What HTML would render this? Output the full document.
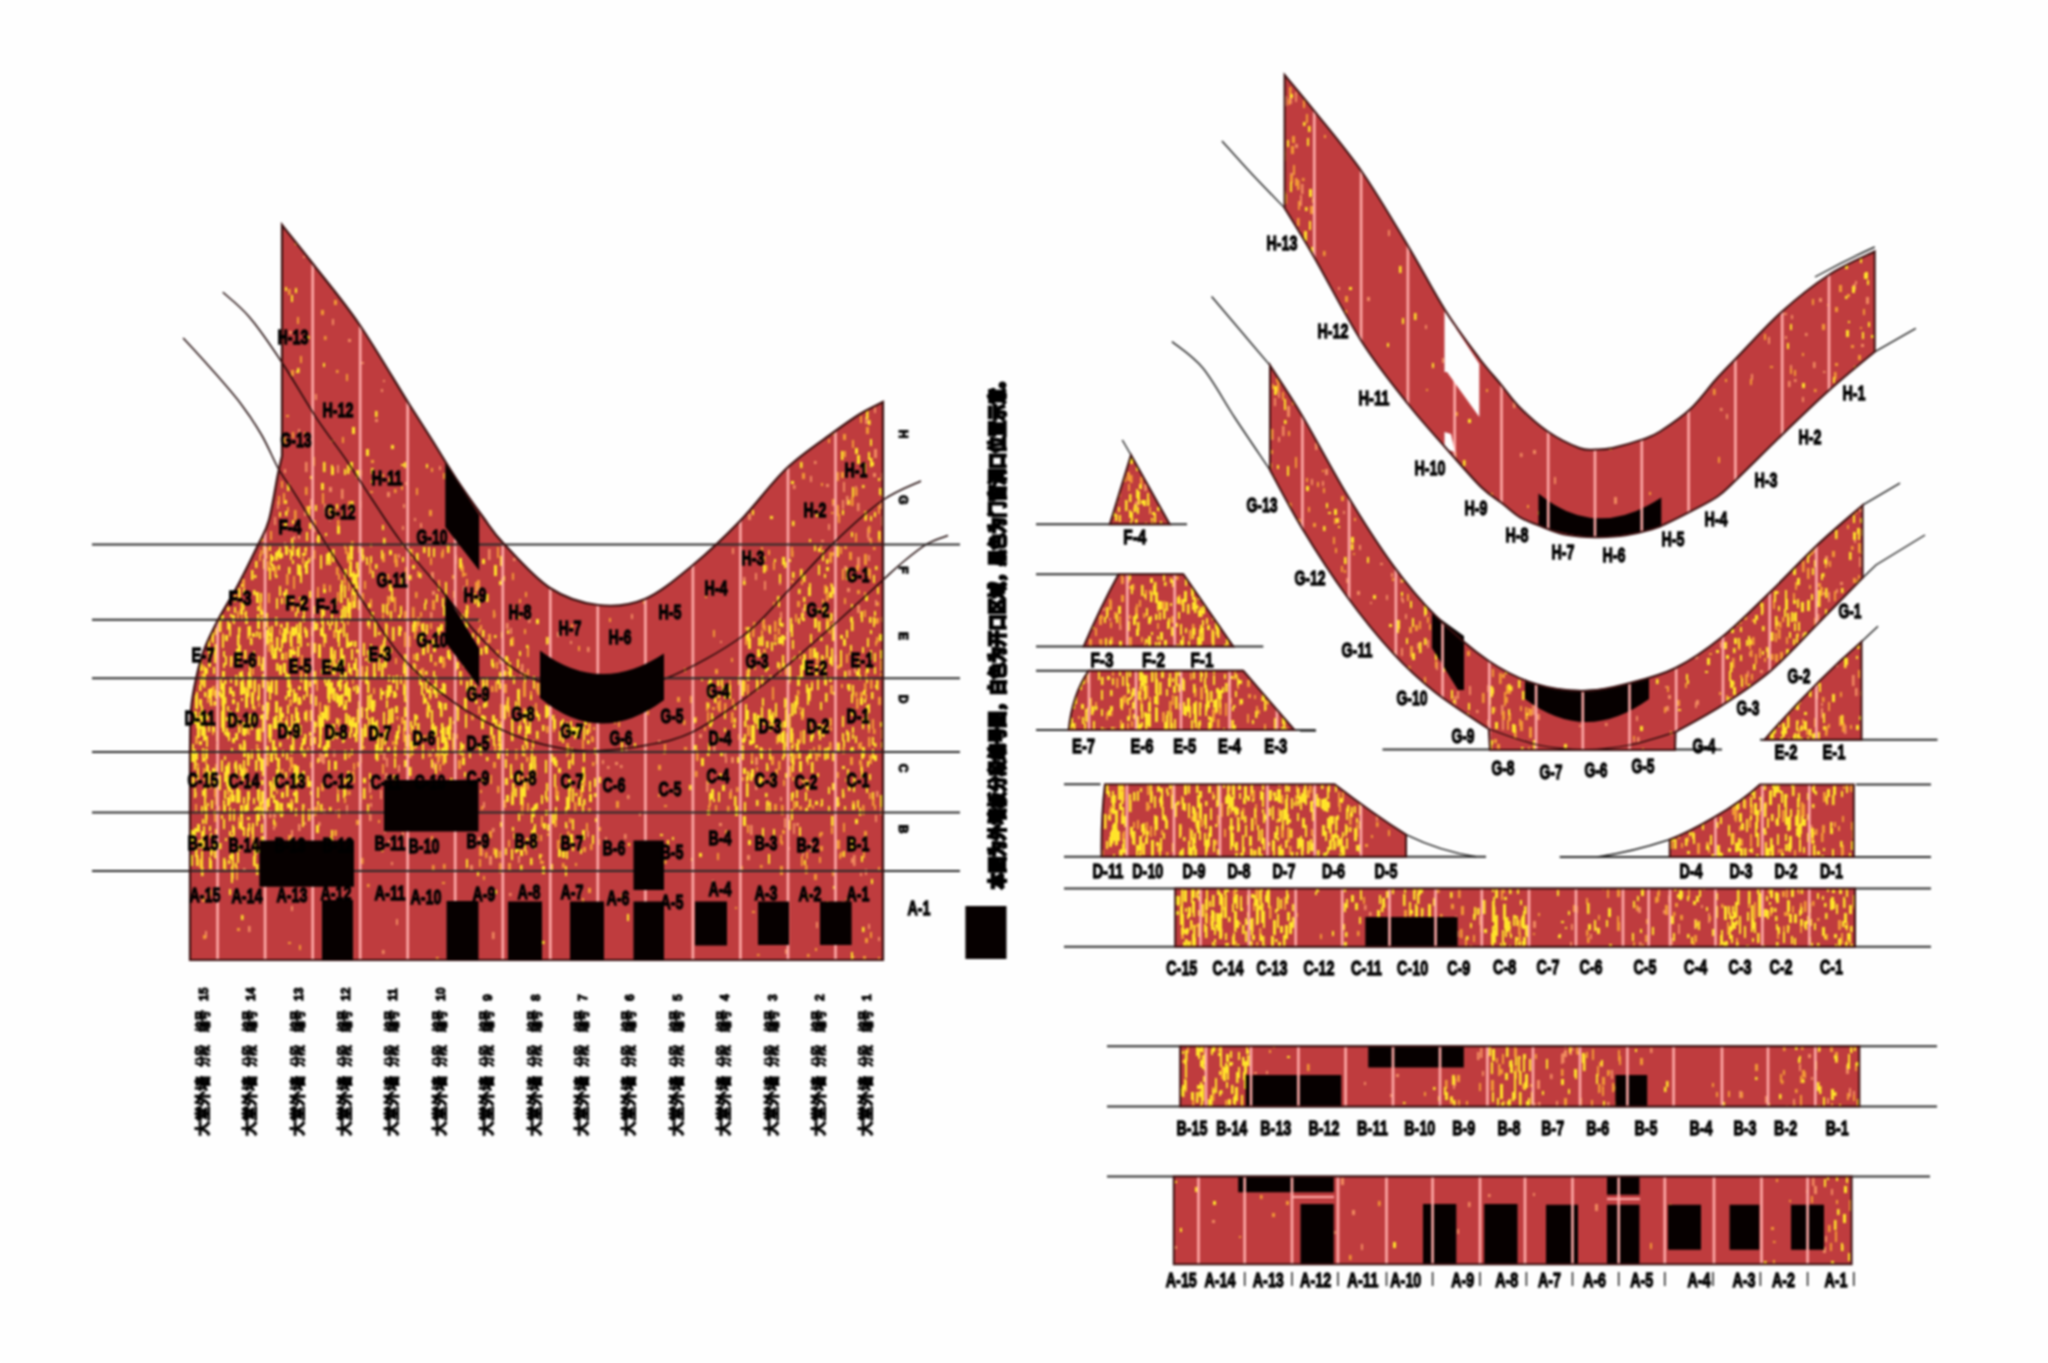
<!DOCTYPE html><html><head><meta charset="utf-8"><title>facade</title><style>html,body{margin:0;padding:0;background:#fff;overflow:hidden}svg{display:block;filter:blur(0.9px)}</style></head><body><svg width="2048" height="1363" viewBox="0 0 2048 1363"><defs><clipPath id="cL"><path d="M282,225 C287.2,231.5 300.2,247.5 313,264 C325.8,280.5 343,300.7 359,324 C375,347.3 396.8,384.7 409,404 C421.2,423.3 424,427.3 432,440 C440,452.7 448.5,467.2 457,480 C465.5,492.8 475.2,506.3 483,517 C490.8,527.7 492.8,532.2 504,544 C515.2,555.8 534.3,577.8 550,588 C565.7,598.2 582.2,603.2 598,605 C613.8,606.8 629.2,605.7 645,599 C660.8,592.3 677.2,578 693,565 C708.8,552 724.3,537.2 740,521 C755.7,504.8 771.3,482.8 787,468 C802.7,453.2 821.8,441 834,432 C846.2,423 851.8,419 860,414 C868.2,409 879.2,404 883,402 L883,960 L190,960 L190,750 C190.2,743.3 190,721.8 191,710 C192,698.2 193.8,689 196,679 C198.2,669 200.3,659.8 204,650 C207.7,640.2 212.3,630.8 218,620 C223.7,609.2 231.3,597.5 238,585 C244.7,572.5 252.8,555.8 258,545 C263.2,534.2 265.7,531.8 269,520 C272.3,508.2 275.8,484.7 278,474 C280.2,463.3 281.3,459 282,456 Z"/></clipPath><clipPath id="cH"><path d="M1284.6,75 C1289.5,80.9 1301.1,94.4 1314,110.6 C1326.9,126.8 1346.3,149.4 1362,172 C1377.7,194.6 1394.2,223 1408,246 C1421.8,269 1433.2,291.3 1445,310 C1456.8,328.7 1469.7,345.6 1479,358 C1488.3,370.4 1494.2,376.3 1501,384.6 C1507.8,392.9 1512.2,399.9 1520,407.7 C1527.8,415.5 1537.8,424.8 1547.7,431.5 C1557.6,438.2 1571.4,445 1579.4,448 C1587.5,451 1590.5,449.5 1596,449.5 C1601.5,449.5 1604.7,449.7 1612.5,448 C1620.3,446.3 1634.9,442.1 1642.8,439.4 C1650.7,436.6 1652.1,436.6 1660,431.5 C1667.9,426.4 1681.2,417.6 1690.4,409 C1699.7,400.4 1707.9,388.4 1715.5,380 C1723.1,371.6 1725,369.8 1736,358.5 C1747,347.2 1765.9,326 1781.5,312 C1797.1,298 1814,284.6 1829.5,274.5 C1845,264.4 1867.2,255.3 1874.7,251.5 L1874.7,351.8 C1867.2,358.1 1844.8,376.3 1830,389.5 C1815.2,402.7 1801.5,416.1 1786,431 C1770.5,445.9 1748.3,468.1 1737,479 C1725.7,489.9 1725.5,490.9 1718,496.2 C1710.5,501.5 1700.5,506.2 1691.7,510.8 C1682.9,515.4 1671.9,520.9 1665.3,524 C1658.7,527.1 1658.6,527.4 1652,529.3 C1645.4,531.2 1634.5,533.9 1625.7,535.2 C1616.9,536.5 1606.9,537 1599.2,537.2 C1591.5,537.4 1586,537.2 1579.4,536.5 C1572.8,535.8 1566.4,535.1 1559.6,533.2 C1552.8,531.3 1545.1,527.9 1538.5,525.3 C1531.9,522.7 1525.9,520.9 1520,517.4 C1514.1,513.9 1509.5,509.1 1503,504 C1496.5,498.9 1490.7,496.5 1481,487 C1471.3,477.5 1457.2,460.8 1445,447 C1432.8,433.2 1421.8,421.5 1408,404 C1394.2,386.5 1377.8,366.7 1362,342 C1346.2,317.3 1326.4,278.3 1313.5,256 C1300.6,233.7 1289.4,216 1284.6,208 Z"/></clipPath><clipPath id="cG"><path d="M1270,365.4 C1275.4,373.9 1289.6,394.6 1302.4,416.2 C1315.2,437.8 1331.9,469.9 1347,494.8 C1362.1,519.7 1378.6,545.6 1393.2,565.6 C1407.8,585.6 1418.9,599.1 1434.8,615 C1450.7,630.9 1471.8,649.5 1488.8,661 C1505.8,672.5 1520.4,679.3 1536.5,684.3 C1552.6,689.3 1570,691.2 1585.6,691 C1601.2,690.8 1615,686.8 1630,683 C1645,679.2 1660.2,675.6 1675.5,668 C1690.8,660.4 1706,649.9 1721.7,637.3 C1737.5,624.7 1754,607.6 1770,592.2 C1786,576.8 1802.1,559.3 1817.5,544.8 C1832.9,530.3 1855.1,511.8 1862.6,505.2 L1862.6,577.9 C1855.1,585.6 1832.9,608.4 1817.5,624 C1802.1,639.6 1786,657.8 1770,671.4 C1754,685 1737.5,695.5 1721.7,705.6 C1706,715.7 1683.2,727.6 1675.5,732 L1675,750 L1490,750 L1488.8,729 C1479.8,722.8 1450.7,704.6 1434.8,692 C1418.9,679.4 1407.8,669.3 1393.2,653.4 C1378.6,637.5 1362.1,617.3 1347,596.5 C1331.9,575.7 1315.2,549.8 1302.4,528.7 C1289.6,507.6 1275.4,479.8 1270,470 Z"/></clipPath><clipPath id="cF4"><path d="M1131,455 Q1121,488 1109.8,524.3 L1169.7,524.3 Z"/></clipPath><clipPath id="cF3"><path d="M1118.6,574.2 L1183.4,574.2 L1233.3,646.6 L1083.6,646.6 Q1100,608 1118.6,574.2 Z"/></clipPath><clipPath id="cE"><path d="M1088.6,670.8 L1243.3,670.8 L1294.5,730.1 L1068.7,730.1 Q1072,695 1088.6,670.8 Z"/></clipPath><clipPath id="cE12"><path d="M1764.6,739.7 L1861.5,739.7 L1861.5,641.7 Q1815,682 1764.6,739.7 Z"/></clipPath><clipPath id="cDL"><path d="M1105,784.2 L1334.6,784.2 C1350,796 1375,815 1406,834.7 L1406,856.7 L1101.6,856.7 Q1101,818 1105,784.2 Z"/></clipPath><clipPath id="cDR"><path d="M1669.8,839.5 C1690,832 1735,808 1760,784.4 L1853.8,784.4 L1853.8,857.1 L1669.8,857.1 Z"/></clipPath><clipPath id="cC"><path d="M1175.2,888.4 L1855,888.4 L1855,946.8 L1175.2,946.8 Z"/></clipPath><clipPath id="cB"><path d="M1180.2,1046.3 L1859.3,1046.3 L1859.3,1106.4 L1180.2,1106.4 Z"/></clipPath><clipPath id="cA"><path d="M1173.8,1176.5 L1851.6,1176.5 L1851.6,1264.2 L1173.8,1264.2 Z"/></clipPath></defs><rect width="2048" height="1363" fill="#fefefe"/>
<path d="M282,225 C287.2,231.5 300.2,247.5 313,264 C325.8,280.5 343,300.7 359,324 C375,347.3 396.8,384.7 409,404 C421.2,423.3 424,427.3 432,440 C440,452.7 448.5,467.2 457,480 C465.5,492.8 475.2,506.3 483,517 C490.8,527.7 492.8,532.2 504,544 C515.2,555.8 534.3,577.8 550,588 C565.7,598.2 582.2,603.2 598,605 C613.8,606.8 629.2,605.7 645,599 C660.8,592.3 677.2,578 693,565 C708.8,552 724.3,537.2 740,521 C755.7,504.8 771.3,482.8 787,468 C802.7,453.2 821.8,441 834,432 C846.2,423 851.8,419 860,414 C868.2,409 879.2,404 883,402 L883,960 L190,960 L190,750 C190.2,743.3 190,721.8 191,710 C192,698.2 193.8,689 196,679 C198.2,669 200.3,659.8 204,650 C207.7,640.2 212.3,630.8 218,620 C223.7,609.2 231.3,597.5 238,585 C244.7,572.5 252.8,555.8 258,545 C263.2,534.2 265.7,531.8 269,520 C272.3,508.2 275.8,484.7 278,474 C280.2,463.3 281.3,459 282,456 Z" fill="#BF3C3E"/>
<g clip-path="url(#cL)"><path fill="#F08A5E" d="M228,242h2v10h-2zM245,237h2v8h-2zM247,310h2v8h-2zM246,339h2v8h-2zM229,357h2v9h-2zM234,441h3v4h-3zM236,335h3v6h-3zM240,249h2.5v8h-2.5zM243,228h2.5v4h-2.5zM254,398h2v10h-2zM240,392h2v4h-2zM230,403h2v5h-2zM239,347h2v9h-2zM224,251h2v10h-2zM264,317h2v9h-2zM251,227h2.5v6h-2.5zM230,252h3v10h-3zM242,270h2.5v8h-2.5zM243,267h2v9h-2zM256,324h3v4h-3zM250,371h2v10h-2zM220,378h2.5v6h-2.5zM303,256h2v2h-2zM279,277h3v2h-3zM298,429h2v5h-2zM289,331h3v3h-3zM315,394h2v6h-2zM332,288h2v3h-2zM322,243h3v3h-3zM332,319h2v6h-2zM348,339h3v3h-3zM327,252h2v5h-2zM318,239h3v5h-3zM375,419h3v3h-3zM383,380h2v2h-2zM380,309h2.5v3h-2.5zM369,331h2.5v6h-2.5zM361,362h3v2h-3zM381,389h2v3h-2zM391,311h3v2h-3zM451,267h2v4h-2zM450,302h2v6h-2zM441,296h2v3h-2zM423,297h2v5h-2zM426,260h2v5h-2zM459,245h2v3h-2zM464,277h2v4h-2zM521,455h2v4h-2zM520,426h2v7h-2zM520,255h2.5v3h-2.5zM588,318h2v6h-2zM552,338h2.5v2h-2.5zM591,456h3v4h-3zM598,434h3v3h-3zM604,412h2v2h-2zM674,268h2v5h-2zM689,259h2v2h-2zM660,314h2v5h-2zM660,281h2.5v5h-2.5zM693,454h3v3h-3zM696,306h3v4h-3zM717,235h2.5v6h-2.5zM785,335h2v3h-2zM758,310h3v6h-3zM823,274h2.5v6h-2.5zM805,233h3v4h-3zM815,363h2.5v5h-2.5zM830,232h3v3h-3zM797,365h2v3h-2zM796,295h3v6h-3zM822,334h2v7h-2zM803,429h2v6h-2zM870,237h2v9h-2zM871,363h2.5v10h-2.5zM837,319h2.5v8h-2.5zM849,324h2v8h-2zM881,223h2.5v9h-2.5zM874,449h3v9h-3zM852,316h2v8h-2zM856,404h2.5v4h-2.5zM865,386h2v6h-2zM859,371h3v9h-3zM840,357h2v7h-2zM865,417h3v7h-3zM836,320h3v6h-3zM841,293h2.5v8h-2.5zM865,332h2v9h-2zM875,285h3v6h-3zM866,297h2.5v6h-2.5zM841,250h3v8h-3zM861,317h2v6h-2zM874,407h2v6h-2zM194,525h3v8h-3zM216,478h2.5v8h-2.5zM254,470h2.5v8h-2.5zM244,531h2v3h-2zM238,512h2.5v8h-2.5zM260,533h2v9h-2zM239,533h2v4h-2zM247,495h2.5v4h-2.5zM260,476h2.5v6h-2.5zM310,499h2.5v10h-2.5zM304,511h2v5h-2zM284,469h2v4h-2zM298,529h2v10h-2zM305,462h2.5v10h-2.5zM284,542h2v6h-2zM277,501h2v8h-2zM293,536h2.5v4h-2.5zM274,517h2v8h-2zM291,539h2v5h-2zM324,504h2v10h-2zM329,513h2v8h-2zM313,522h3v10h-3zM341,489h2.5v10h-2.5zM329,487h3v5h-3zM359,501h2.5v7h-2.5zM337,465h2v8h-2zM316,538h2v3h-2zM402,526h2v4h-2zM387,492h3v5h-3zM405,482h3v3h-3zM403,504h2v4h-2zM407,508h2v7h-2zM420,523h2v5h-2zM439,466h2v4h-2zM414,518h2v3h-2zM463,520h2v6h-2zM513,499h2v5h-2zM602,537h2v3h-2zM653,523h2.5v3h-2.5zM726,514h2v3h-2zM748,514h3v6h-3zM793,485h2.5v4h-2.5zM814,461h2.5v3h-2.5zM821,540h3v2h-3zM826,484h3v3h-3zM832,499h3v7h-3zM810,476h2v6h-2zM828,524h2v6h-2zM855,486h2v7h-2zM843,482h2v10h-2zM857,503h2.5v8h-2.5zM846,496h2.5v9h-2.5zM842,500h2v9h-2zM880,501h2v8h-2zM881,473h3v7h-3zM868,538h2.5v3h-2.5zM873,473h3v4h-3zM867,528h2.5v10h-2.5zM882,498h2v3h-2zM881,516h3v10h-3zM211,612h3v6h-3zM198,596h2v5h-2zM195,611h2.5v4h-2.5zM190,558h2.5v4h-2.5zM390,596h2.5v4h-2.5zM361,558h3v4h-3zM398,554h2v4h-2zM432,591h3v4h-3zM454,555h3v9h-3zM431,572h3v7h-3zM430,612h2.5v6h-2.5zM470,550h2v7h-2zM477,583h2.5v8h-2.5zM463,586h2v5h-2zM488,549h2.5v11h-2.5zM536,571h2v4h-2zM513,558h2.5v3h-2.5zM579,590h2v6h-2zM631,614h2v5h-2zM653,547h2.5v5h-2.5zM732,548h2v6h-2zM745,557h2v4h-2zM755,573h2v7h-2zM779,577h2v8h-2zM764,581h2v9h-2zM743,577h2.5v4h-2.5zM750,551h2v7h-2zM780,612h2v7h-2zM830,592h2v3h-2zM802,608h2.5v9h-2.5zM844,566h3v4h-3zM875,600h2v6h-2zM857,557h3v11h-3zM857,605h3v8h-3zM847,588h3v4h-3zM868,555h2v6h-2zM499,655h3v9h-3zM486,640h2v8h-2zM510,628h2v6h-2zM506,623h2.5v6h-2.5zM521,664h2.5v10h-2.5zM528,618h2.5v5h-2.5zM546,642h2v3h-2zM545,656h2v4h-2zM520,669h2v7h-2zM549,646h2v7h-2zM504,670h2v6h-2zM587,647h2.5v5h-2.5zM570,641h2v3h-2zM557,632h2.5v5h-2.5zM565,624h2v4h-2zM720,641h2v2h-2zM848,670h3v6h-3zM854,668h2v5h-2zM600,684h2v7h-2zM641,706h3v4h-3zM599,707h2.5v6h-2.5zM625,745h2.5v8h-2.5zM613,695h2v4h-2zM658,740h2.5v3h-2.5zM650,689h2.5v3h-2.5zM718,705h3v7h-3zM727,735h2v4h-2zM699,734h3v4h-3zM713,741h2.5v11h-2.5zM319,752h3v10h-3zM323,809h2.5v5h-2.5zM317,801h2v10h-2zM333,750h2.5v7h-2.5zM346,805h2v9h-2zM322,754h3v10h-3zM405,797h2.5v7h-2.5zM369,782h2v11h-2zM383,753h2.5v7h-2.5zM385,773h2.5v11h-2.5zM380,790h2v9h-2zM386,758h2v9h-2zM391,781h3v3h-3zM398,765h2v7h-2zM370,803h2v4h-2zM415,780h2.5v8h-2.5zM436,805h3v9h-3zM437,754h2v10h-2zM451,801h2v4h-2zM430,751h2v6h-2zM424,795h3v9h-3zM433,762h2.5v8h-2.5zM458,800h2.5v8h-2.5zM458,782h3v10h-3zM458,795h2.5v4h-2.5zM483,802h2v6h-2zM466,784h2.5v10h-2.5zM482,777h2v8h-2zM457,789h3v9h-3zM607,766h2.5v3h-2.5zM602,760h2v4h-2zM615,762h3v3h-3zM620,765h2.5v3h-2.5zM627,795h2.5v4h-2.5zM674,789h2.5v7h-2.5zM724,753h2.5v4h-2.5zM731,757h3v6h-3zM725,757h2v6h-2zM730,789h2v4h-2zM706,781h2.5v11h-2.5zM755,757h3v8h-3zM780,797h2v4h-2zM755,781h2.5v9h-2.5zM764,750h2v3h-2zM882,756h3v10h-3zM880,806h3v9h-3zM876,791h2.5v6h-2.5zM310,853h3v6h-3zM273,811h3v7h-3zM298,824h2.5v7h-2.5zM269,810h2.5v8h-2.5zM296,856h2v7h-2zM304,822h2v3h-2zM291,830h2v9h-2zM273,826h2v4h-2zM295,844h3v6h-3zM324,851h2v3h-2zM318,822h2.5v4h-2.5zM345,847h2v4h-2zM335,810h2v4h-2zM384,831h2v2h-2zM388,840h2v6h-2zM369,814h2.5v7h-2.5zM391,862h2v3h-2zM402,832h2v6h-2zM428,820h2v4h-2zM478,837h2.5v5h-2.5zM492,828h2.5v4h-2.5zM489,856h3v9h-3zM480,845h3v11h-3zM470,865h3v6h-3zM518,856h2v7h-2zM566,825h2v4h-2zM587,831h2v6h-2zM605,837h2v5h-2zM639,812h2v4h-2zM624,834h2.5v5h-2.5zM719,823h3v3h-3zM750,825h2.5v10h-2.5zM787,847h3v3h-3zM760,838h2.5v8h-2.5zM747,855h3v5h-3zM784,818h2v10h-2zM796,823h3v3h-3zM806,854h2v5h-2zM802,850h2v6h-2zM810,842h2v10h-2zM793,823h2v11h-2zM852,838h3v7h-3zM875,815h2v7h-2zM851,858h2v5h-2zM853,855h2.5v11h-2.5zM864,836h3v8h-3zM205,931h2v7h-2zM248,926h2.5v6h-2.5zM243,868h2.5v4h-2.5zM291,906h2v5h-2zM396,919h2v6h-2zM382,950h2.5v4h-2.5zM492,932h2.5v7h-2.5zM526,947h2v3h-2zM509,893h2.5v3h-2.5zM712,880h2v7h-2zM785,949h3v5h-3zM816,922h2v6h-2zM860,873h2v3h-2zM839,925h3v4h-3zM878,937h2v4h-2zM868,924h2v5h-2zM865,869h2v6h-2zM842,901h2v3h-2z"/><path fill="#F29A35" d="M244,354h2v7h-2zM245,329h2.5v8h-2.5zM249,236h2.5v7h-2.5zM229,314h2.5v4h-2.5zM235,355h2v6h-2zM258,446h2v7h-2zM244,348h2v4h-2zM227,310h2v4h-2zM232,256h3v7h-3zM246,303h2.5v5h-2.5zM240,454h2v6h-2zM247,242h2v6h-2zM245,331h2v3h-2zM251,246h2v9h-2zM220,396h3v10h-3zM254,365h2v10h-2zM242,335h2.5v8h-2.5zM260,326h2v9h-2zM225,390h2v10h-2zM224,332h2v5h-2zM240,455h2v6h-2zM260,276h2v4h-2zM257,381h2v10h-2zM260,356h3v4h-3zM255,265h2v5h-2zM257,225h2.5v11h-2.5zM230,448h2.5v7h-2.5zM222,288h2v6h-2zM288,289h2.5v6h-2.5zM304,432h2v2h-2zM300,356h2v7h-2zM292,432h2v6h-2zM267,372h2v2h-2zM291,370h3v6h-3zM265,409h2v4h-2zM283,335h3v4h-3zM278,380h3v2h-3zM286,415h3v2h-3zM283,437h3v7h-3zM272,345h2v5h-2zM297,317h2v7h-2zM271,440h2.5v6h-2.5zM268,314h2.5v3h-2.5zM321,310h3v5h-3zM342,437h2v6h-2zM326,234h2v5h-2zM324,336h2.5v4h-2.5zM320,271h2v3h-2zM334,300h3v5h-3zM336,370h2.5v3h-2.5zM354,312h2v2h-2zM348,411h2v4h-2zM331,440h3v2h-3zM346,374h2v7h-2zM362,319h2v5h-2zM384,270h2.5v6h-2.5zM389,365h2.5v3h-2.5zM427,413h3v2h-3zM435,411h2v6h-2zM419,334h2v2h-2zM445,396h3v3h-3zM470,452h3v5h-3zM461,330h3v3h-3zM482,310h2.5v3h-2.5zM541,420h2v4h-2zM514,234h2v6h-2zM534,223h2.5v6h-2.5zM569,351h3v3h-3zM569,286h2v5h-2zM553,397h2.5v4h-2.5zM603,337h2v7h-2zM637,232h2v4h-2zM679,384h3v2h-3zM786,338h2v3h-2zM774,274h2v5h-2zM782,287h2.5v3h-2.5zM782,262h2.5v5h-2.5zM743,424h2v6h-2zM764,295h2v3h-2zM810,254h2.5v5h-2.5zM800,225h2.5v4h-2.5zM823,331h3v6h-3zM834,283h3v3h-3zM823,385h2v4h-2zM814,324h2v3h-2zM828,439h2v4h-2zM850,272h2v8h-2zM880,347h2.5v5h-2.5zM847,288h2.5v3h-2.5zM843,414h2.5v8h-2.5zM859,311h3v10h-3zM841,362h2v11h-2zM851,259h2v6h-2zM844,451h2v6h-2zM863,374h3v9h-3zM847,316h2v10h-2zM855,329h2v5h-2zM866,427h3v7h-3zM854,337h2.5v9h-2.5zM846,390h2v5h-2zM842,379h2v10h-2zM867,335h2.5v11h-2.5zM852,440h2v8h-2zM862,298h2v4h-2zM836,225h2.5v8h-2.5zM843,434h3v6h-3zM868,347h2.5v5h-2.5zM861,336h2v7h-2zM843,363h3v5h-3zM857,354h2v10h-2zM837,365h2.5v8h-2.5zM840,336h2.5v9h-2.5zM872,352h2.5v6h-2.5zM855,352h2.5v6h-2.5zM858,300h2.5v6h-2.5zM836,267h3v5h-3zM878,366h2v9h-2zM867,330h2v5h-2zM860,416h2v7h-2zM839,333h3v7h-3zM836,379h2v6h-2zM839,370h2v9h-2zM198,508h2v6h-2zM198,538h3v8h-3zM201,490h2v8h-2zM197,470h2v6h-2zM194,533h2v5h-2zM213,526h2v5h-2zM192,504h3v6h-3zM227,479h3v7h-3zM222,526h3v7h-3zM242,479h2v6h-2zM261,499h2v5h-2zM253,527h2v11h-2zM247,535h2v10h-2zM244,511h2v5h-2zM220,524h2v10h-2zM224,521h3v3h-3zM263,462h3v4h-3zM256,467h2v7h-2zM259,462h3v5h-3zM259,519h2v10h-2zM246,517h2v5h-2zM281,481h2v7h-2zM305,487h2.5v8h-2.5zM298,526h2v4h-2zM306,506h2.5v9h-2.5zM270,531h2v9h-2zM287,507h2v5h-2zM283,493h2v11h-2zM294,510h2.5v10h-2.5zM278,496h2v9h-2zM348,501h3v6h-3zM337,520h2.5v10h-2.5zM342,511h3v5h-3zM359,470h3v6h-3zM313,520h3v8h-3zM322,493h2v11h-2zM333,510h3v7h-3zM351,541h2.5v9h-2.5zM313,457h2v9h-2zM370,491h3v2h-3zM401,486h2v4h-2zM371,460h3v3h-3zM394,489h2.5v4h-2.5zM382,474h2v3h-2zM431,468h2v4h-2zM443,473h2.5v6h-2.5zM429,510h3v6h-3zM416,488h2v7h-2zM488,496h3v2h-3zM591,507h2.5v7h-2.5zM552,484h2v5h-2zM632,542h2v4h-2zM677,475h3v5h-3zM654,538h2v4h-2zM709,465h2v3h-2zM759,475h3v6h-3zM832,499h2v5h-2zM831,512h2.5v2h-2.5zM802,473h3v6h-3zM821,483h2v3h-2zM878,531h3v11h-3zM838,514h2v9h-2zM855,488h2.5v8h-2.5zM841,472h3v6h-3zM878,505h2v9h-2zM855,533h2v9h-2zM870,538h2v6h-2zM881,494h3v3h-3zM868,526h2.5v7h-2.5zM837,472h2v9h-2zM851,497h2.5v9h-2.5zM864,511h3v10h-3zM837,505h2v11h-2zM209,592h3v6h-3zM214,603h3v7h-3zM216,569h2.5v8h-2.5zM207,557h2.5v10h-2.5zM192,603h2v8h-2zM190,562h2.5v9h-2.5zM211,549h2v10h-2zM201,613h3v11h-3zM200,568h2v6h-2zM206,567h2v8h-2zM203,544h2.5v10h-2.5zM203,591h2.5v3h-2.5zM263,612h2v6h-2zM260,607h2.5v9h-2.5zM260,550h2v6h-2zM237,611h2v8h-2zM244,554h3v5h-3zM259,554h2v7h-2zM220,601h3v5h-3zM236,573h2v7h-2zM243,583h2v8h-2zM232,573h2.5v6h-2.5zM259,602h3v9h-3zM241,616h2v5h-2zM255,592h2.5v4h-2.5zM264,547h3v8h-3zM248,555h2v4h-2zM222,572h2.5v7h-2.5zM240,602h2v7h-2zM224,579h2v3h-2zM220,555h2v8h-2zM227,574h3v10h-3zM242,579h3v6h-3zM244,612h2v4h-2zM268,593h2v10h-2zM291,598h3v13h-3zM302,557h2v7h-2zM266,547h2v12h-2zM293,576h2v13h-2zM275,556h3v5h-3zM286,574h2.5v11h-2.5zM304,551h3v4h-3zM287,600h2v5h-2zM304,548h2v8h-2zM267,561h2v10h-2zM274,566h3v10h-3zM342,605h2v5h-2zM358,586h2v11h-2zM347,552h3v11h-3zM347,604h2.5v14h-2.5zM351,601h2v8h-2zM349,561h2v15h-2zM340,584h2v6h-2zM313,550h2.5v9h-2.5zM344,545h2v4h-2zM358,546h3v7h-3zM333,598h2v10h-2zM328,552h3v3h-3zM338,574h2v6h-2zM344,571h2v13h-2zM349,545h2v6h-2zM317,587h2v14h-2zM336,567h2.5v8h-2.5zM337,592h2v9h-2zM348,580h2v11h-2zM351,591h2v12h-2zM353,571h2v11h-2zM329,585h2v7h-2zM345,547h2v7h-2zM323,584h2.5v9h-2.5zM405,573h3v6h-3zM405,567h2v9h-2zM387,574h2v8h-2zM402,543h2v4h-2zM370,599h2v9h-2zM404,611h2.5v9h-2.5zM370,543h2v4h-2zM369,563h2v11h-2zM394,554h3v9h-3zM387,611h2v5h-2zM401,578h2.5v8h-2.5zM370,569h2v3h-2zM387,596h3v9h-3zM382,553h3v9h-3zM395,559h3v8h-3zM382,614h2v7h-2zM405,571h2v7h-2zM393,597h3v5h-3zM364,581h2v8h-2zM381,573h2v7h-2zM394,602h2v10h-2zM362,593h2v9h-2zM452,575h2v4h-2zM453,591h2v7h-2zM432,600h3v10h-3zM443,608h2v5h-2zM412,607h2.5v11h-2.5zM438,580h2v9h-2zM442,549h2v7h-2zM417,571h2.5v6h-2.5zM411,549h2v10h-2zM420,612h2v5h-2zM441,552h2.5v6h-2.5zM415,592h2.5v6h-2.5zM430,558h2v7h-2zM460,563h3v8h-3zM493,610h2v8h-2zM466,579h2v7h-2zM493,613h2.5v4h-2.5zM477,580h3v5h-3zM464,573h2.5v3h-2.5zM462,566h2v11h-2zM497,547h2v11h-2zM475,582h2v10h-2zM478,582h2v7h-2zM515,604h2.5v7h-2.5zM525,592h2v5h-2zM519,599h2v4h-2zM518,615h2v4h-2zM512,573h2v7h-2zM577,569h3v7h-3zM588,594h3v4h-3zM643,600h3v4h-3zM646,582h2v3h-2zM705,595h2v3h-2zM773,562h2v8h-2zM763,556h2.5v6h-2.5zM773,602h2v5h-2zM768,550h2v5h-2zM765,565h2.5v6h-2.5zM761,547h2v8h-2zM831,552h3v4h-3zM820,545h2v4h-2zM797,601h3v6h-3zM826,594h2.5v7h-2.5zM822,606h2.5v6h-2.5zM824,585h3v9h-3zM822,599h2v11h-2zM829,552h2v10h-2zM827,615h2v9h-2zM791,551h2.5v6h-2.5zM791,547h2v5h-2zM831,591h2.5v7h-2.5zM801,581h2v4h-2zM795,614h2v8h-2zM830,583h2v4h-2zM791,580h2.5v3h-2.5zM830,554h2v9h-2zM840,547h2v7h-2zM857,590h3v4h-3zM856,565h3v6h-3zM869,569h2v10h-2zM864,554h3v11h-3zM842,569h2v11h-2zM867,568h2.5v8h-2.5zM849,552h3v8h-3zM860,612h2v6h-2zM873,547h2.5v3h-2.5zM844,546h3v3h-3zM844,598h2v6h-2zM864,592h2v4h-2zM881,617h3v5h-3zM877,602h2v4h-2zM864,610h2v7h-2zM201,673h3v12h-3zM200,633h2v7h-2zM216,646h2.5v13h-2.5zM210,650h2v5h-2zM198,652h2v13h-2zM191,622h2v8h-2zM211,632h2v9h-2zM217,635h2v5h-2zM202,665h3v6h-3zM214,644h2v14h-2zM263,631h2v7h-2zM222,633h2v15h-2zM227,627h2v3h-2zM229,625h2v12h-2zM252,660h2v15h-2zM247,626h3v13h-3zM289,631h3v12h-3zM285,652h2.5v8h-2.5zM292,647h2.5v4h-2.5zM300,671h2.5v12h-2.5zM268,639h2.5v13h-2.5zM301,655h2v11h-2zM279,629h2v6h-2zM305,629h3v9h-3zM271,639h2.5v10h-2.5zM323,633h2v14h-2zM330,668h2v4h-2zM333,654h2v13h-2zM347,621h2v4h-2zM333,630h3v8h-3zM314,643h2v8h-2zM358,650h2v7h-2zM404,632h2v15h-2zM386,624h2v5h-2zM395,658h2v6h-2zM368,622h2.5v7h-2.5zM381,644h3v12h-3zM383,641h2v3h-2zM361,666h2.5v15h-2.5zM421,670h3v8h-3zM430,623h2v6h-2zM408,636h2.5v11h-2.5zM425,630h2.5v5h-2.5zM414,664h2.5v8h-2.5zM434,662h3v4h-3zM447,624h2v7h-2zM418,617h2v9h-2zM443,662h2.5v4h-2.5zM414,628h2.5v11h-2.5zM415,621h3v10h-3zM417,617h2v7h-2zM413,654h2.5v6h-2.5zM421,668h3v10h-3zM454,618h2v6h-2zM446,629h3v6h-3zM442,657h3v11h-3zM484,646h2v5h-2zM478,619h2v3h-2zM496,662h2v7h-2zM477,638h2.5v7h-2.5zM496,650h3v4h-3zM488,634h3v9h-3zM476,659h2v8h-2zM478,628h2v5h-2zM456,634h2.5v6h-2.5zM468,660h3v11h-3zM460,671h2.5v8h-2.5zM480,625h2v5h-2zM527,669h2v7h-2zM507,658h2v11h-2zM524,629h2v5h-2zM527,647h2v10h-2zM511,637h3v9h-3zM571,624h2v6h-2zM578,646h2v5h-2zM609,618h2v4h-2zM629,670h2.5v6h-2.5zM684,668h2v4h-2zM656,663h3v4h-3zM731,658h2v4h-2zM713,630h2v7h-2zM715,669h3v5h-3zM761,630h2v8h-2zM778,628h2v7h-2zM774,621h2.5v11h-2.5zM760,653h2v4h-2zM774,634h2.5v7h-2.5zM746,670h2.5v10h-2.5zM768,625h3v7h-3zM779,663h2v11h-2zM763,649h3v5h-3zM786,632h3v3h-3zM785,666h2v9h-2zM753,622h2.5v5h-2.5zM758,650h2v4h-2zM752,627h2.5v10h-2.5zM764,625h2v6h-2zM762,619h3v10h-3zM754,666h2v4h-2zM748,669h2v7h-2zM745,636h2.5v9h-2.5zM745,627h3v3h-3zM782,637h2v9h-2zM829,626h2v8h-2zM826,617h3v15h-3zM788,669h2.5v15h-2.5zM809,648h3v11h-3zM807,670h2v3h-2zM806,661h2.5v14h-2.5zM822,656h2.5v15h-2.5zM828,620h2v10h-2zM816,656h2.5v8h-2.5zM799,651h2v8h-2zM857,657h3v7h-3zM846,654h2v6h-2zM865,671h2v9h-2zM875,641h2v5h-2zM880,660h2v11h-2zM849,652h2v3h-2zM880,673h2v3h-2zM875,618h3v6h-3zM837,665h3v4h-3zM877,618h2v5h-2zM846,657h2v6h-2zM876,637h2.5v6h-2.5zM212,726h2v9h-2zM195,736h3v8h-3zM216,744h2v10h-2zM203,681h2.5v7h-2.5zM212,686h3v10h-3zM207,696h2.5v7h-2.5zM213,702h3v4h-3zM248,721h2v14h-2zM256,744h2.5v7h-2.5zM241,747h2v5h-2zM253,706h3v4h-3zM233,693h2v4h-2zM238,718h2v7h-2zM259,728h2.5v14h-2.5zM253,681h2v14h-2zM221,695h2.5v11h-2.5zM258,702h2v5h-2zM245,688h2.5v12h-2.5zM297,702h2.5v3h-2.5zM281,720h2v9h-2zM305,710h3v12h-3zM269,732h2v11h-2zM289,699h3v7h-3zM289,678h2v8h-2zM294,728h3v11h-3zM307,747h2v6h-2zM286,716h2v13h-2zM359,724h2.5v7h-2.5zM354,717h2v4h-2zM338,719h2.5v8h-2.5zM319,702h2v14h-2zM316,678h2v13h-2zM358,704h2v8h-2zM330,727h2v12h-2zM352,678h2v6h-2zM350,717h2v5h-2zM331,687h2v12h-2zM327,705h3v15h-3zM376,745h2v4h-2zM401,717h3v7h-3zM406,701h2v15h-2zM403,728h2v14h-2zM392,741h2.5v4h-2.5zM404,675h2.5v14h-2.5zM387,719h2.5v15h-2.5zM396,716h2.5v4h-2.5zM373,688h2v6h-2zM362,746h3v3h-3zM377,729h2v8h-2zM423,735h2.5v7h-2.5zM427,734h2v8h-2zM446,743h2.5v11h-2.5zM433,687h2v5h-2zM437,747h3v15h-3zM426,708h3v9h-3zM414,735h2.5v14h-2.5zM409,744h2.5v14h-2.5zM452,738h2.5v14h-2.5zM442,747h2.5v6h-2.5zM410,725h2.5v8h-2.5zM429,687h2v13h-2zM447,745h2v3h-2zM447,725h2v5h-2zM491,686h2.5v6h-2.5zM473,691h2v7h-2zM499,740h3v10h-3zM456,705h2.5v5h-2.5zM480,748h2v8h-2zM491,729h2v10h-2zM494,744h2.5v9h-2.5zM499,721h3v15h-3zM478,706h2.5v8h-2.5zM498,748h3v4h-3zM495,681h2.5v11h-2.5zM471,694h2.5v6h-2.5zM456,734h2v5h-2zM500,704h2v15h-2zM471,714h3v6h-3zM523,682h3v15h-3zM530,691h2v5h-2zM504,684h3v9h-3zM519,726h2.5v5h-2.5zM524,736h3v9h-3zM523,708h3v13h-3zM506,701h2v9h-2zM537,683h3v12h-3zM508,706h2v11h-2zM546,726h2.5v7h-2.5zM526,714h2.5v5h-2.5zM524,749h2v8h-2zM519,716h2v10h-2zM535,703h2v13h-2zM530,709h2v13h-2zM531,706h3v11h-3zM542,688h2.5v5h-2.5zM536,683h2v9h-2zM577,681h2v3h-2zM588,723h3v10h-3zM553,727h2v5h-2zM566,743h3v6h-3zM574,713h2v4h-2zM582,740h2v9h-2zM596,716h2v4h-2zM564,677h3v7h-3zM591,736h2v6h-2zM561,705h2v5h-2zM586,689h2v4h-2zM593,727h2v3h-2zM566,688h3v9h-3zM592,737h2v5h-2zM562,729h3v5h-3zM642,678h2v11h-2zM634,684h2.5v8h-2.5zM618,720h2v7h-2zM604,714h2v8h-2zM640,676h2v7h-2zM614,716h2v8h-2zM620,680h2v8h-2zM640,679h3v4h-3zM640,701h3v9h-3zM635,700h3v7h-3zM690,696h3v7h-3zM677,697h3v5h-3zM664,744h2v7h-2zM683,720h2.5v5h-2.5zM647,710h2v5h-2zM684,747h3v3h-3zM718,706h3v6h-3zM738,734h2.5v6h-2.5zM732,699h2v8h-2zM719,700h2v11h-2zM724,703h2.5v8h-2.5zM724,708h2v6h-2zM712,707h3v3h-3zM707,712h2v11h-2zM694,717h3v5h-3zM704,727h2v4h-2zM706,702h2.5v9h-2.5zM729,680h2v5h-2zM731,712h2.5v11h-2.5zM717,702h3v7h-3zM757,681h2v9h-2zM776,736h2.5v8h-2.5zM769,748h2v12h-2zM759,747h3v8h-3zM772,713h2v4h-2zM752,734h3v7h-3zM743,681h3v11h-3zM772,687h2v13h-2zM747,725h3v11h-3zM786,700h2v13h-2zM747,684h2v13h-2zM769,675h3v4h-3zM801,713h3v7h-3zM799,740h2v4h-2zM831,690h2v3h-2zM808,688h3v10h-3zM825,680h2v6h-2zM795,743h2.5v3h-2.5zM800,711h2v4h-2zM792,733h2v14h-2zM813,747h2v7h-2zM830,685h3v9h-3zM799,707h2v3h-2zM800,731h2v11h-2zM811,681h2v10h-2zM818,745h3v12h-3zM795,695h3v13h-3zM830,727h2v4h-2zM797,690h2.5v5h-2.5zM829,718h3v8h-3zM829,742h2.5v8h-2.5zM878,697h3v8h-3zM868,737h2.5v10h-2.5zM855,692h2.5v5h-2.5zM870,679h2.5v10h-2.5zM873,729h2.5v5h-2.5zM881,729h2.5v10h-2.5zM837,742h2.5v5h-2.5zM858,743h2v6h-2zM865,694h2v6h-2zM864,683h2.5v9h-2.5zM841,684h2v4h-2zM856,698h2.5v11h-2.5zM860,742h2v7h-2zM860,692h3v7h-3zM842,747h3v7h-3zM870,684h2.5v5h-2.5zM872,719h2v10h-2zM868,727h2v6h-2zM851,694h2.5v5h-2.5zM195,804h2v9h-2zM209,784h2.5v5h-2.5zM215,793h2v12h-2zM203,768h2.5v13h-2.5zM214,788h3v9h-3zM205,755h2v9h-2zM215,764h3v11h-3zM195,792h2v5h-2zM197,763h2v13h-2zM229,794h2v10h-2zM249,782h2.5v7h-2.5zM218,806h2v5h-2zM261,804h2.5v7h-2.5zM227,788h2v7h-2zM226,764h2v8h-2zM226,773h3v8h-3zM245,768h3v10h-3zM295,767h3v5h-3zM293,764h3v9h-3zM290,757h3v11h-3zM276,790h2v4h-2zM281,769h2.5v6h-2.5zM266,756h3v10h-3zM289,768h2v4h-2zM295,785h2v7h-2zM310,762h3v6h-3zM290,799h3v14h-3zM289,757h2v5h-2zM321,783h3v8h-3zM348,791h2.5v4h-2.5zM357,762h3v5h-3zM337,787h2v8h-2zM352,771h2.5v7h-2.5zM353,763h2v7h-2zM338,809h2v9h-2zM353,776h2v7h-2zM314,807h2.5v9h-2.5zM344,798h2v5h-2zM348,751h2.5v7h-2.5zM316,806h2.5v7h-2.5zM359,793h2.5v10h-2.5zM385,795h3v10h-3zM406,752h2.5v4h-2.5zM405,789h2v9h-2zM393,750h2v4h-2zM382,764h2v10h-2zM406,802h3v7h-3zM370,795h2v4h-2zM415,778h2v6h-2zM438,800h2.5v10h-2.5zM433,777h2v7h-2zM438,750h3v8h-3zM428,750h2.5v7h-2.5zM410,802h2v4h-2zM433,806h2v7h-2zM411,784h3v5h-3zM435,751h2.5v6h-2.5zM439,764h2v7h-2zM442,755h3v10h-3zM435,809h2v9h-2zM469,807h2.5v4h-2.5zM480,790h2v3h-2zM462,750h2.5v11h-2.5zM490,775h2v9h-2zM481,806h2v4h-2zM456,791h2v10h-2zM493,762h3v6h-3zM497,786h2.5v7h-2.5zM458,760h3v9h-3zM522,798h2v9h-2zM511,792h2v13h-2zM521,771h2.5v9h-2.5zM504,800h2v8h-2zM527,775h2v15h-2zM520,786h3v5h-3zM527,803h2v10h-2zM526,757h2.5v5h-2.5zM534,764h2.5v13h-2.5zM521,806h2.5v9h-2.5zM530,756h3v8h-3zM535,772h2v3h-2zM523,778h3v14h-3zM515,749h2.5v11h-2.5zM571,759h2v4h-2zM556,791h3v10h-3zM574,802h2.5v11h-2.5zM589,786h2v5h-2zM555,786h2.5v12h-2.5zM566,750h2v7h-2zM592,762h2.5v4h-2.5zM588,808h3v4h-3zM580,790h2.5v8h-2.5zM583,774h2.5v12h-2.5zM616,801h3v7h-3zM658,765h3v5h-3zM664,805h3v2h-3zM663,751h3v3h-3zM658,794h2v3h-2zM715,805h2v6h-2zM695,771h2.5v6h-2.5zM709,798h2v8h-2zM727,806h2.5v7h-2.5zM708,805h2v4h-2zM707,773h3v11h-3zM736,787h2.5v5h-2.5zM719,773h3v4h-3zM696,750h2.5v11h-2.5zM729,792h3v7h-3zM751,752h2v9h-2zM778,761h2.5v9h-2.5zM775,769h3v6h-3zM771,775h2v9h-2zM742,777h2v4h-2zM783,780h2v6h-2zM751,775h2.5v3h-2.5zM781,805h2.5v10h-2.5zM761,778h2.5v7h-2.5zM767,800h2v6h-2zM756,767h2v4h-2zM774,804h3v7h-3zM771,756h3v9h-3zM807,758h2v4h-2zM792,777h2.5v4h-2.5zM806,782h3v9h-3zM797,751h3v8h-3zM807,805h2v3h-2zM793,801h2.5v8h-2.5zM789,766h2.5v11h-2.5zM815,751h3v10h-3zM807,783h3v4h-3zM801,778h2v4h-2zM812,805h2v4h-2zM820,804h2v3h-2zM799,806h3v4h-3zM824,750h2v9h-2zM788,756h2v5h-2zM807,761h2v4h-2zM803,779h3v6h-3zM794,754h2v5h-2zM792,758h3v7h-3zM837,802h3v4h-3zM850,757h3v8h-3zM845,778h2.5v4h-2.5zM874,805h2v5h-2zM860,764h2.5v7h-2.5zM869,793h2v6h-2zM859,760h3v5h-3zM862,805h2.5v10h-2.5zM872,798h2.5v8h-2.5zM837,772h2v6h-2zM852,801h3v8h-3zM869,755h3v9h-3zM215,856h2.5v3h-2.5zM214,810h2.5v12h-2.5zM199,859h3v9h-3zM211,847h2.5v6h-2.5zM251,827h2v7h-2zM236,866h2v14h-2zM252,837h2v10h-2zM238,817h2.5v12h-2.5zM254,853h2v14h-2zM224,861h2.5v10h-2.5zM282,810h2v5h-2zM274,822h2.5v5h-2.5zM288,835h3v6h-3zM277,868h2v9h-2zM282,853h3v4h-3zM343,852h2.5v7h-2.5zM343,850h2.5v3h-2.5zM315,862h2v11h-2zM315,859h2v6h-2zM334,830h3v6h-3zM324,844h2.5v7h-2.5zM356,820h3v5h-3zM381,850h2.5v2h-2.5zM392,822h3v6h-3zM378,820h2v3h-2zM361,858h2.5v6h-2.5zM407,815h2v6h-2zM404,826h3v4h-3zM437,818h2v3h-2zM431,836h2v4h-2zM432,865h2.5v7h-2.5zM443,864h2.5v5h-2.5zM499,863h2.5v10h-2.5zM458,818h3v6h-3zM485,852h2.5v6h-2.5zM499,851h2v7h-2zM489,831h3v7h-3zM493,848h3v7h-3zM479,847h3v9h-3zM501,813h2.5v7h-2.5zM479,859h2v8h-2zM541,816h2v11h-2zM513,833h2.5v6h-2.5zM540,860h2v4h-2zM535,834h3v7h-3zM525,850h2.5v5h-2.5zM540,835h2v6h-2zM547,833h3v3h-3zM545,812h2v4h-2zM517,843h2v6h-2zM508,863h3v7h-3zM508,840h2v7h-2zM542,861h2v3h-2zM540,854h2.5v3h-2.5zM554,820h3v7h-3zM557,840h2.5v9h-2.5zM567,831h2.5v10h-2.5zM590,844h2.5v6h-2.5zM569,818h2.5v5h-2.5zM586,823h2v8h-2zM583,847h3v5h-3zM575,863h2v3h-2zM562,863h2.5v5h-2.5zM560,834h2v9h-2zM598,839h2v6h-2zM599,827h2v4h-2zM664,860h2.5v4h-2.5zM661,855h3v7h-3zM725,830h3v4h-3zM717,853h2v7h-2zM782,830h3v4h-3zM780,866h3v9h-3zM780,835h2v8h-2zM760,865h2.5v3h-2.5zM781,841h2v4h-2zM741,866h2v4h-2zM747,825h2v8h-2zM820,832h3v3h-3zM819,857h2v6h-2zM819,833h2.5v4h-2.5zM806,852h2v7h-2zM831,827h2v7h-2zM805,865h2.5v9h-2.5zM801,856h2v10h-2zM820,846h3v5h-3zM878,867h2v3h-2zM843,823h2v9h-2zM839,854h2v5h-2zM864,831h3v6h-3zM863,849h2v9h-2zM840,852h2.5v5h-2.5zM837,840h3v9h-3zM202,895h3v7h-3zM203,935h3v4h-3zM209,890h2.5v6h-2.5zM237,928h3v3h-3zM235,891h2v4h-2zM299,945h2v5h-2zM288,942h3v2h-3zM367,884h2.5v3h-2.5zM436,957h2.5v4h-2.5zM442,882h3v2h-3zM450,908h2.5v5h-2.5zM483,876h2v4h-2zM582,898h2v5h-2zM588,888h3v5h-3zM621,894h2v4h-2zM660,944h3v6h-3zM646,951h2v3h-2zM735,907h2v2h-2zM701,909h2v7h-2zM752,911h3v2h-3zM757,954h2.5v2h-2.5zM762,915h2v7h-2zM807,954h2.5v3h-2.5zM826,901h3v5h-3zM815,948h2v3h-2zM814,874h3v6h-3zM807,895h2v3h-2zM832,872h2v4h-2zM852,956h2.5v2h-2.5zM865,938h3v5h-3zM878,957h2v5h-2zM870,932h2v6h-2zM863,956h3v4h-3zM846,898h2v3h-2z"/><path fill="#FFE42A" d="M220,415h2v6h-2zM237,416h2v4h-2zM220,424h2v11h-2zM261,307h2.5v7h-2.5zM231,452h2.5v9h-2.5zM244,428h2v9h-2zM236,379h3v5h-3zM246,338h3v6h-3zM236,287h2v4h-2zM231,320h3v10h-3zM225,263h3v11h-3zM256,265h2v3h-2zM227,260h2v4h-2zM250,343h2.5v7h-2.5zM230,308h2v9h-2zM254,299h2v7h-2zM256,396h2v9h-2zM219,229h3v6h-3zM235,274h2.5v11h-2.5zM248,410h2v7h-2zM252,242h3v7h-3zM234,351h3v8h-3zM258,416h2v6h-2zM241,401h2.5v5h-2.5zM258,253h3v10h-3zM258,443h2v9h-2zM238,272h2v8h-2zM235,344h3v9h-3zM219,405h2v5h-2zM247,410h2.5v11h-2.5zM258,329h2v4h-2zM263,284h2v11h-2zM255,456h2v5h-2zM232,273h3v11h-3zM250,233h2.5v8h-2.5zM263,295h2.5v5h-2.5zM268,395h2v5h-2zM276,400h2v6h-2zM295,240h2v5h-2zM297,368h2.5v5h-2.5zM291,295h2v7h-2zM295,288h2v5h-2zM307,336h2.5v3h-2.5zM280,419h3v4h-3zM285,287h2v4h-2zM296,371h2v2h-2zM330,412h2v4h-2zM352,427h3v7h-3zM324,248h3v7h-3zM349,222h3v2h-3zM323,363h2v4h-2zM377,315h2.5v6h-2.5zM391,445h3v4h-3zM404,299h2v7h-2zM365,240h2.5v4h-2.5zM366,449h3v7h-3zM375,411h2.5v6h-2.5zM429,411h2v4h-2zM450,413h3v6h-3zM495,378h2v6h-2zM507,331h2v5h-2zM639,330h2v4h-2zM606,304h2.5v6h-2.5zM679,433h2v3h-2zM729,330h3v6h-3zM723,232h3v5h-3zM729,228h3v5h-3zM742,265h2v4h-2zM767,429h3v5h-3zM776,326h2v4h-2zM788,305h2v2h-2zM807,293h2.5v5h-2.5zM809,237h2v6h-2zM795,436h3v3h-3zM831,432h2.5v3h-2.5zM830,420h2v3h-2zM813,223h3v4h-3zM843,230h2v8h-2zM842,229h2v6h-2zM845,248h3v4h-3zM865,290h2v10h-2zM866,291h2v9h-2zM868,348h2v6h-2zM841,372h2v7h-2zM866,309h2v6h-2zM868,420h2.5v5h-2.5zM869,364h2v11h-2zM866,268h2v4h-2zM870,324h2v9h-2zM877,331h2v5h-2zM870,223h2v5h-2zM865,329h2v8h-2zM857,455h3v9h-3zM864,372h2v9h-2zM880,331h2v11h-2zM849,351h3v7h-3zM840,256h2.5v5h-2.5zM868,452h2v8h-2zM855,448h3v6h-3zM869,369h2v3h-2zM866,408h2.5v11h-2.5zM841,451h2.5v9h-2.5zM876,321h2v8h-2zM844,230h2.5v10h-2.5zM878,327h3v8h-3zM882,377h3v8h-3zM841,333h2v5h-2zM870,439h2v7h-2zM191,460h2.5v10h-2.5zM205,482h2.5v9h-2.5zM209,458h2.5v10h-2.5zM214,526h3v8h-3zM209,540h2v9h-2zM245,473h2.5v7h-2.5zM231,506h2v9h-2zM246,465h2.5v5h-2.5zM228,536h3v8h-3zM233,542h2.5v10h-2.5zM257,489h3v4h-3zM261,537h2v4h-2zM223,498h2.5v5h-2.5zM225,528h2v9h-2zM224,495h2.5v10h-2.5zM247,495h3v10h-3zM247,469h2v7h-2zM237,470h2v5h-2zM225,499h2.5v6h-2.5zM230,477h2.5v6h-2.5zM254,537h2v7h-2zM242,477h2v10h-2zM221,519h2.5v5h-2.5zM284,522h3v4h-3zM291,541h2.5v5h-2.5zM310,476h2v3h-2zM291,538h2v5h-2zM292,520h2v4h-2zM309,523h2v6h-2zM285,511h2.5v5h-2.5zM285,500h2v4h-2zM306,532h2v9h-2zM279,512h2v5h-2zM308,506h2v10h-2zM287,483h2.5v8h-2.5zM323,462h2.5v10h-2.5zM344,469h2v6h-2zM321,483h3v7h-3zM317,535h3v8h-3zM325,533h2v3h-2zM329,508h3v6h-3zM356,470h3v8h-3zM347,465h2.5v9h-2.5zM351,501h2.5v11h-2.5zM337,526h3v8h-3zM315,505h2v6h-2zM331,465h2v10h-2zM336,504h2v5h-2zM332,467h2v8h-2zM350,462h3v8h-3zM371,480h2.5v3h-2.5zM404,462h2v6h-2zM389,478h2v4h-2zM383,538h2.5v7h-2.5zM401,464h3v2h-3zM371,468h2.5v6h-2.5zM382,525h2v5h-2zM426,464h2v4h-2zM485,472h3v4h-3zM457,460h2v6h-2zM530,537h3v5h-3zM770,516h3v3h-3zM752,510h2v5h-2zM791,481h3v3h-3zM792,521h2.5v5h-2.5zM800,462h2.5v6h-2.5zM816,510h2v7h-2zM809,539h2v3h-2zM851,532h2v5h-2zM870,516h2v5h-2zM879,488h2.5v7h-2.5zM874,512h2v5h-2zM872,462h2v4h-2zM878,531h2v8h-2zM870,458h2.5v9h-2.5zM852,487h2v10h-2zM878,478h2v3h-2zM864,463h2v10h-2zM842,510h2v5h-2zM862,485h2.5v3h-2.5zM848,500h2v5h-2zM865,511h2v9h-2zM215,593h2v10h-2zM204,590h2.5v9h-2.5zM190,607h2v4h-2zM215,605h3v9h-3zM197,544h2v5h-2zM191,546h2.5v5h-2.5zM215,558h2v8h-2zM201,593h2v8h-2zM205,616h2v10h-2zM200,582h3v7h-3zM241,584h2v3h-2zM234,595h2v7h-2zM260,610h3v5h-3zM260,593h2v9h-2zM219,595h2v3h-2zM253,590h2.5v5h-2.5zM224,565h2.5v11h-2.5zM254,575h2.5v3h-2.5zM231,544h2v11h-2zM232,580h2v4h-2zM263,544h3v10h-3zM241,559h2v3h-2zM220,609h2v9h-2zM240,552h2v4h-2zM243,589h2v5h-2zM257,614h2v7h-2zM263,559h2v10h-2zM230,614h2v3h-2zM243,569h2v6h-2zM256,592h3v11h-3zM220,594h2v10h-2zM232,615h3v7h-3zM245,617h3v7h-3zM221,615h3v6h-3zM257,606h2.5v5h-2.5zM242,603h2.5v7h-2.5zM234,607h2v6h-2zM229,550h3v4h-3zM255,561h2.5v7h-2.5zM229,562h2.5v10h-2.5zM251,570h2.5v10h-2.5zM238,588h2.5v11h-2.5zM245,611h2v6h-2zM227,607h2.5v4h-2.5zM240,609h3v6h-3zM300,572h2v11h-2zM301,600h2.5v10h-2.5zM292,543h2v13h-2zM303,607h2v15h-2zM311,556h2.5v5h-2.5zM283,592h2.5v4h-2.5zM285,546h3v9h-3zM305,561h3v13h-3zM295,612h2v5h-2zM275,575h2.5v3h-2.5zM305,547h2v4h-2zM299,597h2v3h-2zM297,564h2v11h-2zM308,558h2v5h-2zM269,546h2v5h-2zM304,564h2v4h-2zM299,565h2.5v11h-2.5zM302,616h2v5h-2zM272,564h2v7h-2zM272,556h2v5h-2zM281,598h2v6h-2zM278,565h2v5h-2zM279,586h2v10h-2zM309,591h2v7h-2zM288,567h2.5v7h-2.5zM279,547h2v12h-2zM270,554h2v12h-2zM289,549h2v3h-2zM296,549h2v7h-2zM277,550h3v7h-3zM290,551h2v9h-2zM275,552h2.5v8h-2.5zM266,613h2v14h-2zM276,598h2v11h-2zM285,589h2.5v15h-2.5zM292,560h2v4h-2zM269,567h2v13h-2zM297,603h2v10h-2zM302,553h3v3h-3zM281,553h2v5h-2zM298,547h2v11h-2zM349,610h2v9h-2zM340,591h2.5v12h-2.5zM349,602h2v8h-2zM332,549h2.5v13h-2.5zM355,574h2.5v11h-2.5zM327,553h3v8h-3zM352,588h2v7h-2zM321,609h2v15h-2zM328,553h2v8h-2zM341,609h2.5v14h-2.5zM353,601h3v7h-3zM313,606h2v8h-2zM350,561h2v8h-2zM347,598h2v15h-2zM354,592h2v14h-2zM357,569h2.5v8h-2.5zM350,546h3v14h-3zM340,585h2.5v5h-2.5zM340,616h3v5h-3zM326,554h2.5v11h-2.5zM329,552h2v13h-2zM347,555h2v5h-2zM358,600h2v10h-2zM354,578h2v6h-2zM344,569h3v8h-3zM322,610h3v6h-3zM349,566h3v11h-3zM352,573h3v11h-3zM355,582h3v7h-3zM356,562h2.5v7h-2.5zM320,555h2v14h-2zM331,613h2v12h-2zM344,611h2v6h-2zM344,585h2v13h-2zM344,606h2.5v12h-2.5zM341,580h2v12h-2zM334,599h2.5v6h-2.5zM340,587h2v15h-2zM323,589h3v4h-3zM368,603h2v5h-2zM389,550h3v5h-3zM389,584h2.5v7h-2.5zM362,555h2.5v5h-2.5zM381,550h2v9h-2zM401,578h2v6h-2zM382,604h2.5v9h-2.5zM372,571h2v7h-2zM398,615h3v3h-3zM366,557h2v8h-2zM391,596h2v6h-2zM371,616h3v4h-3zM402,557h2v5h-2zM371,612h3v3h-3zM390,611h2v10h-2zM386,604h2v10h-2zM391,588h2v9h-2zM370,556h2v7h-2zM400,606h2v9h-2zM375,564h2.5v5h-2.5zM361,548h2.5v9h-2.5zM447,544h2.5v9h-2.5zM419,573h2.5v5h-2.5zM424,603h2v7h-2zM445,582h2v10h-2zM423,547h2.5v6h-2.5zM442,598h2v9h-2zM436,594h2v8h-2zM433,548h2v9h-2zM412,565h3v4h-3zM445,592h2v10h-2zM416,553h2.5v8h-2.5zM438,585h2v6h-2zM425,599h2v5h-2zM443,606h2v10h-2zM408,549h3v5h-3zM409,575h2.5v5h-2.5zM428,547h2v10h-2zM499,581h3v4h-3zM477,597h3v10h-3zM501,578h2v4h-2zM486,594h2.5v8h-2.5zM459,558h3v10h-3zM494,565h3v11h-3zM474,593h2v11h-2zM465,610h3v8h-3zM502,576h3v5h-3zM466,605h2.5v9h-2.5zM461,614h2.5v5h-2.5zM482,559h3v5h-3zM500,556h2.5v10h-2.5zM464,594h2.5v8h-2.5zM784,562h2.5v6h-2.5zM779,574h2v9h-2zM778,602h2v5h-2zM774,559h2v3h-2zM782,557h3v8h-3zM743,581h2.5v4h-2.5zM763,565h2.5v8h-2.5zM777,596h2.5v7h-2.5zM792,572h2.5v6h-2.5zM826,587h2v6h-2zM824,574h2v4h-2zM809,583h2v10h-2zM832,587h3v7h-3zM826,567h3v4h-3zM788,559h3v3h-3zM830,613h2.5v8h-2.5zM800,569h2.5v10h-2.5zM801,613h2.5v6h-2.5zM803,575h2.5v7h-2.5zM804,604h2v7h-2zM824,607h3v9h-3zM818,565h2v10h-2zM817,609h3v5h-3zM834,609h2v8h-2zM829,592h3v6h-3zM814,544h2v7h-2zM823,602h2v5h-2zM818,548h3v4h-3zM803,597h2.5v5h-2.5zM831,584h2v7h-2zM808,587h3v9h-3zM798,589h2.5v5h-2.5zM826,559h2.5v5h-2.5zM822,550h2v11h-2zM874,611h2v5h-2zM869,617h2.5v6h-2.5zM846,568h2v7h-2zM852,574h2v6h-2zM873,575h2v8h-2zM851,604h2v5h-2zM846,575h2v5h-2zM861,611h2v11h-2zM865,595h3v6h-3zM837,546h2v11h-2zM875,566h2.5v4h-2.5zM877,587h2v7h-2zM214,650h2v13h-2zM194,654h2v11h-2zM200,658h2v13h-2zM208,635h2v15h-2zM199,650h2.5v13h-2.5zM190,651h3v11h-3zM193,668h3v6h-3zM202,638h2.5v4h-2.5zM207,633h2.5v6h-2.5zM208,655h3v12h-3zM215,644h2.5v8h-2.5zM213,667h2v7h-2zM206,668h2v6h-2zM215,628h2.5v7h-2.5zM212,632h2v11h-2zM204,667h2v11h-2zM202,635h2v8h-2zM208,649h2.5v5h-2.5zM253,651h2v10h-2zM262,674h2v7h-2zM236,649h2.5v15h-2.5zM239,672h2v7h-2zM262,657h2.5v10h-2.5zM258,656h2v10h-2zM227,621h2v8h-2zM229,623h2v12h-2zM249,658h2v15h-2zM234,658h2v9h-2zM223,651h2v6h-2zM235,675h2.5v11h-2.5zM252,633h3v4h-3zM219,619h2.5v13h-2.5zM248,626h3v10h-3zM259,632h2v7h-2zM223,663h2v5h-2zM244,650h2.5v9h-2.5zM256,631h2v6h-2zM238,645h3v10h-3zM241,671h2v8h-2zM230,662h2v5h-2zM237,635h2.5v11h-2.5zM225,635h3v6h-3zM238,627h2v11h-2zM219,620h2v6h-2zM225,656h2v9h-2zM260,617h3v4h-3zM237,648h3v4h-3zM230,656h2.5v7h-2.5zM257,621h3v8h-3zM264,670h2v10h-2zM222,671h3v6h-3zM261,664h3v7h-3zM238,655h2v4h-2zM263,620h2v10h-2zM233,620h2v4h-2zM250,638h2.5v7h-2.5zM238,627h2.5v5h-2.5zM235,656h2v4h-2zM222,635h2v13h-2zM248,672h3v15h-3zM281,639h2v9h-2zM296,624h2v10h-2zM274,648h3v11h-3zM279,665h3v10h-3zM299,629h2.5v9h-2.5zM286,622h2.5v12h-2.5zM311,642h2v13h-2zM297,633h2.5v11h-2.5zM276,637h2.5v13h-2.5zM282,633h2v9h-2zM305,667h2v14h-2zM272,654h3v5h-3zM308,666h2.5v6h-2.5zM285,628h2v14h-2zM270,633h2.5v9h-2.5zM283,628h2.5v15h-2.5zM280,624h2.5v4h-2.5zM292,650h2v5h-2zM305,670h2v5h-2zM271,629h2v9h-2zM266,630h3v14h-3zM305,631h3v6h-3zM289,649h3v11h-3zM287,674h3v12h-3zM293,627h3v9h-3zM283,663h3v10h-3zM275,617h2.5v9h-2.5zM265,641h2v5h-2zM311,627h2.5v9h-2.5zM279,648h3v4h-3zM281,653h3v7h-3zM294,659h2.5v12h-2.5zM290,636h2.5v11h-2.5zM285,672h2v7h-2zM312,628h3v3h-3zM276,663h2.5v8h-2.5zM297,646h2.5v11h-2.5zM268,627h2v9h-2zM271,645h2.5v10h-2.5zM300,636h2v11h-2zM291,627h2.5v9h-2.5zM294,651h2v4h-2zM304,627h2v6h-2zM307,643h2v3h-2zM271,626h2v10h-2zM299,622h2.5v7h-2.5zM313,620h2.5v10h-2.5zM356,649h2.5v4h-2.5zM338,639h2v8h-2zM327,620h2v5h-2zM330,647h3v14h-3zM348,663h2v10h-2zM329,659h3v6h-3zM348,642h3v5h-3zM322,659h2v12h-2zM329,624h2v6h-2zM350,668h2v7h-2zM341,653h2v10h-2zM353,663h2v7h-2zM344,672h3v8h-3zM321,669h2v5h-2zM320,628h3v8h-3zM340,628h2v5h-2zM313,671h3v13h-3zM343,623h2v14h-2zM340,671h2.5v11h-2.5zM335,621h2.5v7h-2.5zM338,660h2.5v5h-2.5zM322,632h2v5h-2zM324,634h2.5v9h-2.5zM354,641h2.5v6h-2.5zM348,643h2v4h-2zM322,619h2v15h-2zM337,630h3v11h-3zM340,648h3v11h-3zM332,669h2.5v5h-2.5zM334,650h2v10h-2zM335,626h2v6h-2zM343,655h2v11h-2zM337,630h3v12h-3zM326,663h2v11h-2zM355,658h2v12h-2zM318,644h3v14h-3zM346,639h2.5v9h-2.5zM340,655h2.5v13h-2.5zM331,652h2v5h-2zM356,669h2v8h-2zM333,661h2.5v14h-2.5zM336,664h2v8h-2zM335,618h2.5v5h-2.5zM351,649h2v11h-2zM351,641h2v5h-2zM315,623h3v7h-3zM346,633h2v10h-2zM314,643h2v10h-2zM384,637h2v4h-2zM384,659h2.5v9h-2.5zM384,652h3v14h-3zM400,627h2v4h-2zM368,655h2v8h-2zM390,648h2v5h-2zM378,657h2v14h-2zM387,647h2.5v8h-2.5zM396,675h2v15h-2zM373,663h2.5v14h-2.5zM406,669h2.5v10h-2.5zM367,650h2v5h-2zM385,625h2.5v13h-2.5zM374,622h2.5v15h-2.5zM370,644h2v14h-2zM365,672h3v12h-3zM365,658h2v3h-2zM374,673h2v6h-2zM366,666h2v14h-2zM398,626h3v10h-3zM403,664h2.5v10h-2.5zM383,646h2.5v4h-2.5zM404,654h2.5v11h-2.5zM392,627h2.5v14h-2.5zM370,656h2v6h-2zM381,663h2.5v15h-2.5zM363,643h2v13h-2zM367,620h3v6h-3zM383,640h2.5v7h-2.5zM388,675h2v7h-2zM405,666h3v11h-3zM378,632h2.5v3h-2.5zM385,623h2v9h-2zM380,646h2v9h-2zM454,661h3v10h-3zM433,671h2v6h-2zM449,654h2v6h-2zM430,654h2v8h-2zM419,670h2v9h-2zM432,639h2v5h-2zM445,620h2v7h-2zM433,671h2v6h-2zM425,671h2.5v4h-2.5zM413,663h2v8h-2zM447,650h3v8h-3zM416,653h2.5v8h-2.5zM440,656h2v5h-2zM422,623h2.5v9h-2.5zM433,643h3v9h-3zM426,624h2v10h-2zM427,643h2v10h-2zM435,642h2.5v5h-2.5zM440,624h3v7h-3zM421,624h2.5v6h-2.5zM448,654h3v5h-3zM412,624h3v8h-3zM420,632h3v10h-3zM422,647h3v8h-3zM437,627h3v8h-3zM453,630h2v4h-2zM439,657h3v6h-3zM413,621h3v6h-3zM470,646h2.5v5h-2.5zM465,620h3v8h-3zM459,629h2.5v5h-2.5zM480,648h2.5v7h-2.5zM465,622h2v4h-2zM462,636h2.5v6h-2.5zM501,632h2.5v6h-2.5zM476,658h2v10h-2zM472,633h2v5h-2zM473,653h2v7h-2zM482,630h2.5v7h-2.5zM485,646h3v8h-3zM457,662h2v7h-2zM463,659h2v8h-2zM469,661h2v11h-2zM499,672h2.5v5h-2.5zM492,663h2.5v5h-2.5zM494,635h2.5v3h-2.5zM472,654h2.5v4h-2.5zM459,671h2v6h-2zM491,659h2.5v7h-2.5zM477,636h2.5v7h-2.5zM505,656h3v6h-3zM536,619h3v5h-3zM510,639h2v7h-2zM546,637h2.5v7h-2.5zM526,645h2.5v3h-2.5zM524,673h2v9h-2zM519,651h2v5h-2zM504,671h2.5v5h-2.5zM509,662h2v6h-2zM509,668h3v9h-3zM508,671h2.5v4h-2.5zM507,630h2v4h-2zM517,659h2v9h-2zM761,636h2.5v10h-2.5zM747,674h2.5v7h-2.5zM748,628h2v10h-2zM748,664h2v9h-2zM748,638h3v11h-3zM783,636h2.5v4h-2.5zM774,642h2.5v3h-2.5zM746,634h2.5v4h-2.5zM782,655h2v9h-2zM767,667h2v3h-2zM777,662h2v6h-2zM781,623h2.5v4h-2.5zM779,618h2v8h-2zM747,627h2.5v6h-2.5zM747,636h2v5h-2zM765,663h2v9h-2zM769,626h2v8h-2zM781,635h3v9h-3zM758,637h2.5v9h-2.5zM778,637h3v7h-3zM757,649h3v8h-3zM782,663h3v5h-3zM771,642h2v9h-2zM766,641h2.5v7h-2.5zM794,656h2v4h-2zM790,618h2v14h-2zM802,659h2v11h-2zM829,657h2v7h-2zM814,618h3v10h-3zM834,655h3v7h-3zM792,640h2v9h-2zM813,648h3v10h-3zM791,624h2v13h-2zM831,656h2v10h-2zM798,618h2v6h-2zM802,660h3v10h-3zM810,634h2v9h-2zM803,654h3v14h-3zM826,645h2v13h-2zM816,652h2.5v7h-2.5zM821,664h2.5v7h-2.5zM826,621h2v10h-2zM832,623h2.5v15h-2.5zM832,632h3v9h-3zM818,621h2.5v11h-2.5zM800,665h3v14h-3zM802,618h3v3h-3zM821,655h2v6h-2zM820,637h2.5v4h-2.5zM824,666h2v12h-2zM831,648h2v15h-2zM815,665h3v10h-3zM807,666h3v7h-3zM792,658h2v3h-2zM789,666h2v15h-2zM846,630h2v8h-2zM850,645h2v6h-2zM843,639h3v7h-3zM840,650h2v8h-2zM867,638h2v9h-2zM879,634h3v7h-3zM874,667h2v7h-2zM866,667h3v6h-3zM851,621h2.5v10h-2.5zM862,647h2v6h-2zM844,671h2.5v8h-2.5zM873,617h2v10h-2zM858,666h2v9h-2zM880,650h3v9h-3zM870,630h2v4h-2zM850,617h3v5h-3zM856,671h3v5h-3zM870,650h2v10h-2zM840,635h3v4h-3zM840,657h2v10h-2zM874,653h2v9h-2zM199,723h3v6h-3zM195,695h3v14h-3zM196,692h2v13h-2zM210,715h2.5v11h-2.5zM196,724h2v4h-2zM194,715h2v5h-2zM200,699h2v8h-2zM203,675h2.5v12h-2.5zM202,748h2v14h-2zM208,722h2v10h-2zM208,689h3v9h-3zM210,688h2.5v4h-2.5zM197,717h2.5v14h-2.5zM201,706h2v6h-2zM197,722h2v5h-2zM215,690h2v9h-2zM199,741h3v4h-3zM192,744h2v15h-2zM216,731h2v10h-2zM206,714h2.5v6h-2.5zM205,749h3v10h-3zM204,728h2v12h-2zM210,691h2v15h-2zM201,710h3v14h-3zM201,727h2v9h-2zM197,725h3v13h-3zM200,677h2v8h-2zM199,712h3v8h-3zM202,721h3v10h-3zM199,699h2.5v6h-2.5zM199,685h2.5v6h-2.5zM206,736h2v11h-2zM194,749h2v12h-2zM204,692h2.5v5h-2.5zM216,684h2v9h-2zM203,726h2v15h-2zM214,701h2v4h-2zM212,727h3v5h-3zM194,711h3v13h-3zM251,692h2.5v12h-2.5zM262,719h2.5v13h-2.5zM218,691h3v5h-3zM236,708h3v4h-3zM232,699h3v5h-3zM231,748h2v5h-2zM222,692h2v12h-2zM262,714h2v12h-2zM223,713h2v13h-2zM222,699h3v13h-3zM220,694h3v4h-3zM258,684h2v15h-2zM229,711h3v14h-3zM224,732h2v3h-2zM226,717h2v4h-2zM227,706h2v5h-2zM228,723h2v4h-2zM252,703h2v6h-2zM245,693h3v15h-3zM245,699h3v5h-3zM241,698h2v3h-2zM222,683h3v14h-3zM228,732h2v9h-2zM224,697h2.5v7h-2.5zM221,722h2.5v6h-2.5zM238,726h2.5v7h-2.5zM222,709h2.5v6h-2.5zM230,677h2v6h-2zM243,743h3v14h-3zM239,744h2.5v6h-2.5zM262,681h2v7h-2zM229,687h3v7h-3zM245,723h2.5v11h-2.5zM242,676h2v8h-2zM260,715h2.5v4h-2.5zM262,705h2v6h-2zM250,676h2v13h-2zM222,718h3v14h-3zM240,681h3v14h-3zM256,729h2v12h-2zM232,691h2.5v6h-2.5zM243,687h3v7h-3zM247,683h2.5v14h-2.5zM254,679h2v13h-2zM249,714h3v9h-3zM232,738h3v5h-3zM235,716h3v9h-3zM230,713h2.5v8h-2.5zM257,696h2.5v5h-2.5zM252,695h2v10h-2zM237,702h2v6h-2zM243,740h2.5v9h-2.5zM224,680h2.5v4h-2.5zM220,677h2v13h-2zM242,683h2.5v6h-2.5zM223,709h2v9h-2zM258,728h2.5v13h-2.5zM262,723h2v4h-2zM235,733h3v7h-3zM254,716h2.5v6h-2.5zM226,728h2v9h-2zM247,680h2v5h-2zM251,716h2v14h-2zM221,711h2v13h-2zM264,679h2v6h-2zM242,722h2.5v13h-2.5zM243,723h3v13h-3zM242,681h2v5h-2zM272,740h3v14h-3zM289,683h2v13h-2zM302,738h3v7h-3zM301,743h2v11h-2zM275,715h2.5v14h-2.5zM298,697h3v8h-3zM295,707h2.5v12h-2.5zM304,734h2.5v6h-2.5zM297,718h3v5h-3zM285,720h2v11h-2zM311,748h2.5v7h-2.5zM306,693h2v4h-2zM304,677h3v14h-3zM294,721h2.5v13h-2.5zM296,712h3v10h-3zM292,740h2.5v13h-2.5zM269,737h2.5v4h-2.5zM272,744h2.5v4h-2.5zM289,689h2v8h-2zM267,681h2v11h-2zM309,732h2.5v4h-2.5zM268,724h3v14h-3zM273,717h2v12h-2zM275,747h2v13h-2zM266,746h3v9h-3zM309,681h2v6h-2zM287,678h2v10h-2zM267,702h2.5v9h-2.5zM266,711h2.5v9h-2.5zM279,707h3v14h-3zM266,709h2v3h-2zM306,692h2v4h-2zM266,702h3v12h-3zM287,705h2v9h-2zM286,721h2v12h-2zM270,682h3v7h-3zM287,690h2v7h-2zM281,713h3v5h-3zM304,712h3v8h-3zM288,727h3v6h-3zM275,701h3v12h-3zM275,680h2.5v15h-2.5zM269,686h2v14h-2zM279,742h2.5v5h-2.5zM270,724h2v13h-2zM293,689h2v14h-2zM285,696h2v4h-2zM278,721h2v12h-2zM298,686h3v4h-3zM299,728h2v3h-2zM271,680h2v13h-2zM300,676h2v5h-2zM289,685h2.5v7h-2.5zM310,737h2v9h-2zM291,714h2v14h-2zM299,700h2.5v4h-2.5zM292,736h2v12h-2zM295,693h2.5v9h-2.5zM310,694h3v10h-3zM303,695h2v5h-2zM287,730h2v9h-2zM293,694h2v6h-2zM294,730h2v9h-2zM300,747h2.5v6h-2.5zM310,710h2v11h-2zM303,740h3v4h-3zM306,680h2v13h-2zM290,689h2v3h-2zM299,725h2.5v10h-2.5zM290,745h3v9h-3zM345,713h2.5v11h-2.5zM326,707h2v14h-2zM325,736h2v4h-2zM325,744h3v13h-3zM358,701h3v11h-3zM325,683h2v3h-2zM342,733h2v10h-2zM355,729h2.5v13h-2.5zM345,700h2v10h-2zM333,688h2.5v13h-2.5zM339,684h3v4h-3zM319,730h2.5v14h-2.5zM339,679h2.5v12h-2.5zM359,728h2v5h-2zM330,729h2v6h-2zM354,722h2.5v6h-2.5zM327,680h2.5v15h-2.5zM352,717h2v10h-2zM356,685h2v9h-2zM336,693h2v10h-2zM350,727h2v5h-2zM319,724h3v11h-3zM354,733h2v4h-2zM338,695h3v12h-3zM331,724h2v8h-2zM336,718h2v6h-2zM357,709h3v14h-3zM344,684h2v12h-2zM323,746h2.5v6h-2.5zM326,737h2v12h-2zM328,686h2v13h-2zM330,731h3v8h-3zM348,688h3v14h-3zM327,743h2v4h-2zM343,705h3v5h-3zM314,737h2v7h-2zM324,705h2.5v14h-2.5zM315,696h2v10h-2zM343,732h2v10h-2zM324,678h2v5h-2zM358,687h2v6h-2zM327,738h3v10h-3zM328,678h2.5v13h-2.5zM348,690h2v9h-2zM345,683h2v13h-2zM347,687h2v10h-2zM315,722h2v5h-2zM356,723h2v11h-2zM321,712h3v15h-3zM353,734h3v3h-3zM337,681h3v6h-3zM329,683h3v11h-3zM327,686h3v13h-3zM319,717h2v13h-2zM349,732h2v6h-2zM313,721h2.5v12h-2.5zM346,681h2v6h-2zM348,715h2v11h-2zM353,686h2v5h-2zM333,724h2v14h-2zM318,744h3v4h-3zM328,693h2.5v10h-2.5zM331,682h2v11h-2zM350,720h2.5v13h-2.5zM318,715h2v12h-2zM341,694h2.5v11h-2.5zM331,736h3v4h-3zM336,731h2v8h-2zM394,693h3v4h-3zM375,744h2v15h-2zM381,738h2v14h-2zM367,681h2.5v12h-2.5zM387,747h3v5h-3zM391,708h2.5v15h-2.5zM371,717h3v10h-3zM360,741h3v9h-3zM404,694h2v8h-2zM386,690h2v9h-2zM395,706h3v7h-3zM366,709h2v10h-2zM388,692h2.5v4h-2.5zM361,728h2.5v14h-2.5zM376,727h3v12h-3zM406,700h3v7h-3zM383,712h2v13h-2zM398,725h2v8h-2zM364,727h3v10h-3zM404,707h2v10h-2zM367,695h2.5v15h-2.5zM375,748h2.5v10h-2.5zM380,688h2v12h-2zM387,685h3v12h-3zM405,735h2v12h-2zM370,694h2v15h-2zM384,732h3v10h-3zM395,707h2v5h-2zM373,700h2.5v7h-2.5zM404,720h2v11h-2zM364,730h2.5v6h-2.5zM365,708h2v3h-2zM395,735h2.5v10h-2.5zM371,700h3v12h-3zM393,691h3v7h-3zM376,749h2.5v12h-2.5zM394,746h2.5v11h-2.5zM373,703h2v8h-2zM400,676h2v8h-2zM386,700h2v8h-2zM403,684h2v11h-2zM380,748h2.5v6h-2.5zM371,722h3v4h-3zM376,720h2v12h-2zM392,676h3v7h-3zM396,731h3v8h-3zM406,712h3v5h-3zM373,722h3v14h-3zM388,709h2.5v15h-2.5zM404,686h2v11h-2zM386,726h2v6h-2zM364,724h2.5v10h-2.5zM377,738h2.5v14h-2.5zM368,718h2v9h-2zM382,691h2.5v4h-2.5zM404,696h2.5v6h-2.5zM404,748h2v7h-2zM384,737h2v8h-2zM361,707h2v11h-2zM390,685h2v8h-2zM415,742h2.5v5h-2.5zM421,683h2v12h-2zM421,682h2.5v7h-2.5zM417,728h2.5v12h-2.5zM441,748h3v7h-3zM424,698h3v5h-3zM422,744h2v15h-2zM408,734h2.5v12h-2.5zM434,726h2v5h-2zM431,710h2v13h-2zM444,703h3v7h-3zM440,730h3v3h-3zM449,717h2.5v13h-2.5zM411,741h2.5v14h-2.5zM441,731h2.5v12h-2.5zM453,733h3v9h-3zM410,721h2v6h-2zM439,702h2.5v7h-2.5zM442,683h3v10h-3zM432,723h2.5v14h-2.5zM427,702h2v7h-2zM439,689h3v5h-3zM414,714h2v12h-2zM443,727h2v15h-2zM423,694h2v10h-2zM417,723h2.5v14h-2.5zM435,726h2v10h-2zM453,721h3v3h-3zM435,676h2v14h-2zM444,737h3v15h-3zM419,678h2v7h-2zM448,726h2.5v7h-2.5zM438,701h2v7h-2zM427,712h2v6h-2zM423,695h2v7h-2zM427,679h2v5h-2zM431,724h3v10h-3zM445,741h3v14h-3zM428,705h2.5v7h-2.5zM441,723h2.5v14h-2.5zM444,684h2v10h-2zM437,737h2v6h-2zM429,690h2.5v8h-2.5zM426,689h3v4h-3zM435,689h2.5v9h-2.5zM441,730h3v13h-3zM425,681h2v9h-2zM412,726h2v4h-2zM453,740h3v8h-3zM446,727h2v8h-2zM437,743h2v12h-2zM440,703h2.5v14h-2.5zM416,715h2v5h-2zM448,731h3v9h-3zM432,749h2v4h-2zM433,684h2v10h-2zM430,685h3v3h-3zM462,744h2.5v5h-2.5zM466,681h2.5v11h-2.5zM485,697h2.5v10h-2.5zM468,737h2v10h-2zM499,744h2.5v10h-2.5zM486,677h2v12h-2zM460,680h2v5h-2zM498,743h3v3h-3zM470,677h2.5v14h-2.5zM493,735h2v11h-2zM499,724h2.5v5h-2.5zM460,742h2v13h-2zM479,745h3v9h-3zM457,707h2v14h-2zM490,726h2.5v5h-2.5zM474,685h2v9h-2zM481,715h3v14h-3zM499,683h2v6h-2zM484,716h2v5h-2zM474,739h2v10h-2zM495,719h2.5v8h-2.5zM464,698h3v12h-3zM502,714h2.5v7h-2.5zM482,678h2.5v15h-2.5zM497,679h3v5h-3zM481,719h2.5v8h-2.5zM475,700h2.5v4h-2.5zM477,743h2v5h-2zM498,727h2.5v15h-2.5zM490,728h3v7h-3zM498,725h2v12h-2zM487,735h2v6h-2zM465,714h2v14h-2zM492,715h3v8h-3zM499,732h2v9h-2zM483,703h2.5v5h-2.5zM483,683h2v6h-2zM518,697h2v14h-2zM513,676h2v8h-2zM511,719h2.5v9h-2.5zM536,731h2.5v8h-2.5zM519,717h2v4h-2zM545,682h2v4h-2zM532,740h2v8h-2zM506,749h2v7h-2zM518,726h2.5v8h-2.5zM517,689h3v11h-3zM545,706h3v12h-3zM536,711h2v6h-2zM504,705h2v14h-2zM529,707h2v7h-2zM530,695h2v5h-2zM522,745h2v3h-2zM526,742h2v7h-2zM515,701h2v10h-2zM519,725h2.5v4h-2.5zM529,721h2v13h-2zM538,714h2v7h-2zM523,712h3v11h-3zM548,707h2v9h-2zM545,705h2.5v10h-2.5zM525,722h2v8h-2zM525,731h2v12h-2zM527,730h3v4h-3zM507,697h2v15h-2zM542,725h2.5v6h-2.5zM540,677h3v13h-3zM526,710h2v7h-2zM533,676h2v13h-2zM526,726h3v5h-3zM511,728h2.5v13h-2.5zM522,745h2v11h-2zM567,728h2v9h-2zM578,693h2.5v4h-2.5zM583,731h2v9h-2zM593,703h2v7h-2zM571,687h2.5v11h-2.5zM594,696h3v9h-3zM570,721h2v5h-2zM567,747h2.5v7h-2.5zM558,677h2.5v10h-2.5zM562,705h2v8h-2zM580,683h3v10h-3zM571,748h2v5h-2zM566,722h2v8h-2zM577,727h3v9h-3zM571,727h2v6h-2zM573,727h3v7h-3zM575,729h2v8h-2zM590,705h3v11h-3zM560,721h3v6h-3zM574,730h2v9h-2zM594,748h2v6h-2zM584,696h2v5h-2zM562,719h2v3h-2zM559,680h2v9h-2zM586,729h2.5v6h-2.5zM579,723h2v4h-2zM584,720h3v5h-3zM587,699h2v9h-2zM566,689h2v11h-2zM569,728h3v8h-3zM557,683h3v7h-3zM570,705h2.5v11h-2.5zM552,715h2.5v5h-2.5zM553,719h3v10h-3zM576,702h3v6h-3zM570,723h2v4h-2zM562,737h2v6h-2zM559,731h2v10h-2zM584,683h2v7h-2zM587,740h2.5v4h-2.5zM583,726h2v7h-2zM621,742h2v9h-2zM623,707h3v10h-3zM617,706h2v10h-2zM641,690h3v8h-3zM640,694h2.5v5h-2.5zM634,743h2v5h-2zM659,675h2v5h-2zM708,743h2v8h-2zM717,680h2.5v6h-2.5zM707,703h2.5v5h-2.5zM725,685h2.5v4h-2.5zM712,717h2v3h-2zM694,745h3v5h-3zM729,685h2v10h-2zM708,681h2v11h-2zM722,686h2v7h-2zM734,718h2v5h-2zM694,718h2v5h-2zM709,721h3v6h-3zM724,711h2v8h-2zM707,688h2v7h-2zM724,728h2v4h-2zM701,678h2v3h-2zM721,678h2v8h-2zM714,694h2.5v9h-2.5zM708,692h3v6h-3zM734,704h2v6h-2zM718,692h2v6h-2zM709,678h3v10h-3zM733,724h2.5v4h-2.5zM738,676h3v9h-3zM711,713h2v11h-2zM716,734h3v7h-3zM724,693h2v6h-2zM729,689h2v10h-2zM763,719h2v6h-2zM770,715h2v8h-2zM742,745h2v15h-2zM783,730h2v13h-2zM753,735h2v8h-2zM778,734h2.5v8h-2.5zM786,739h3v8h-3zM772,712h2v15h-2zM775,703h2v14h-2zM756,677h2v14h-2zM741,682h3v14h-3zM752,725h3v10h-3zM783,721h3v7h-3zM749,740h3v5h-3zM781,732h2v11h-2zM768,709h3v11h-3zM745,704h2v7h-2zM751,725h3v14h-3zM745,710h2v11h-2zM744,721h2.5v6h-2.5zM784,700h2v8h-2zM757,715h3v14h-3zM785,709h2.5v11h-2.5zM746,710h3v10h-3zM760,748h3v11h-3zM785,715h2v12h-2zM761,676h2.5v8h-2.5zM783,742h2.5v15h-2.5zM744,734h2v7h-2zM786,733h2v8h-2zM762,698h2v8h-2zM784,698h2.5v7h-2.5zM779,722h3v7h-3zM761,707h2v15h-2zM755,745h3v3h-3zM769,724h2.5v7h-2.5zM742,680h2.5v11h-2.5zM742,738h3v5h-3zM752,739h2v5h-2zM754,713h2.5v11h-2.5zM753,713h2v8h-2zM827,747h2v12h-2zM806,684h2v9h-2zM802,708h2v9h-2zM822,725h2.5v12h-2.5zM824,679h3v6h-3zM796,745h2v6h-2zM791,703h2.5v13h-2.5zM818,724h3v11h-3zM790,728h3v12h-3zM808,693h2.5v5h-2.5zM808,721h3v6h-3zM820,702h2v8h-2zM790,739h2v4h-2zM797,676h3v10h-3zM810,735h2v7h-2zM825,693h2.5v9h-2.5zM807,693h2v12h-2zM808,726h2v7h-2zM808,688h2.5v13h-2.5zM811,683h2v7h-2zM811,737h2v4h-2zM796,696h2.5v9h-2.5zM819,735h2v5h-2zM826,726h2v7h-2zM803,730h2v14h-2zM791,745h2.5v4h-2.5zM788,714h2.5v14h-2.5zM824,748h2.5v12h-2.5zM817,678h2v12h-2zM833,692h3v3h-3zM794,701h2.5v13h-2.5zM829,677h3v5h-3zM812,728h2v10h-2zM797,739h2v12h-2zM862,747h3v6h-3zM851,694h2v9h-2zM847,737h2.5v5h-2.5zM851,747h3v5h-3zM871,692h2.5v7h-2.5zM837,743h3v9h-3zM866,679h2v4h-2zM842,716h2v11h-2zM874,743h2.5v4h-2.5zM846,730h2v5h-2zM880,722h3v5h-3zM881,742h2v6h-2zM842,733h2v8h-2zM852,734h2v5h-2zM862,719h2v10h-2zM859,675h2v5h-2zM851,708h2.5v8h-2.5zM866,705h2v5h-2zM872,737h2v8h-2zM864,716h2v6h-2zM863,690h2.5v5h-2.5zM866,712h2v10h-2zM876,680h2.5v10h-2.5zM852,727h2v6h-2zM850,748h2.5v3h-2.5zM864,699h2v4h-2zM848,684h2.5v7h-2.5zM872,749h2v10h-2zM860,698h3v7h-3zM852,685h2v10h-2zM868,704h2v9h-2zM855,736h2v7h-2zM838,744h2v5h-2zM868,720h2v9h-2zM843,740h2v7h-2zM847,684h2v5h-2zM875,685h2v3h-2zM847,732h2.5v10h-2.5zM205,806h2.5v14h-2.5zM214,781h2v5h-2zM214,783h2.5v5h-2.5zM206,765h2v4h-2zM210,772h2.5v3h-2.5zM207,803h2v3h-2zM201,806h2v8h-2zM197,774h2v6h-2zM212,768h3v14h-3zM191,753h3v9h-3zM202,790h2.5v6h-2.5zM194,788h2v10h-2zM211,800h2v9h-2zM192,777h2.5v8h-2.5zM216,768h2v14h-2zM208,772h2v14h-2zM204,797h2v14h-2zM204,787h2v14h-2zM202,758h3v3h-3zM195,752h3v8h-3zM197,768h2v6h-2zM204,785h2.5v13h-2.5zM194,761h2.5v5h-2.5zM194,755h2v15h-2zM206,765h3v11h-3zM208,771h2.5v4h-2.5zM206,764h2v5h-2zM211,805h2v3h-2zM261,791h3v13h-3zM227,781h2v8h-2zM229,807h2v14h-2zM226,778h3v8h-3zM243,760h2v12h-2zM228,762h2v12h-2zM238,790h2.5v13h-2.5zM247,791h3v9h-3zM235,761h2v8h-2zM253,798h2v6h-2zM235,773h2.5v6h-2.5zM234,763h3v6h-3zM244,805h3v8h-3zM260,758h2v13h-2zM224,772h3v10h-3zM254,808h2.5v3h-2.5zM232,795h3v7h-3zM247,752h2.5v14h-2.5zM237,788h2v5h-2zM236,789h2.5v14h-2.5zM262,764h2v12h-2zM243,762h2v14h-2zM261,808h2v7h-2zM261,780h2.5v5h-2.5zM225,766h3v10h-3zM263,805h2v14h-2zM262,759h3v5h-3zM229,782h2v10h-2zM255,760h2.5v11h-2.5zM221,760h2v12h-2zM242,769h2v12h-2zM257,749h3v10h-3zM224,790h2v9h-2zM233,809h2v12h-2zM223,800h2v9h-2zM219,775h2v15h-2zM256,806h2v4h-2zM258,807h2v11h-2zM258,793h2v9h-2zM224,756h2v4h-2zM227,797h3v9h-3zM235,765h2.5v8h-2.5zM231,790h2.5v12h-2.5zM259,802h2v8h-2zM246,804h3v7h-3zM247,800h2v9h-2zM240,767h2v9h-2zM258,757h2.5v4h-2.5zM251,750h2v9h-2zM257,789h3v11h-3zM240,805h3v12h-3zM243,797h2v7h-2zM247,755h3v4h-3zM223,805h3v8h-3zM239,764h2.5v6h-2.5zM228,777h2v10h-2zM286,783h2.5v14h-2.5zM280,803h3v14h-3zM282,750h2v7h-2zM277,758h3v10h-3zM275,780h2.5v5h-2.5zM276,769h3v13h-3zM300,773h2v9h-2zM293,784h2.5v3h-2.5zM275,800h3v6h-3zM291,802h2v7h-2zM277,802h2.5v12h-2.5zM278,762h2v10h-2zM273,777h2.5v14h-2.5zM290,805h2v7h-2zM311,791h2.5v14h-2.5zM294,770h2v9h-2zM307,776h2v11h-2zM281,792h3v6h-3zM294,778h3v6h-3zM311,806h2v13h-2zM270,753h3v9h-3zM293,792h3v4h-3zM294,765h3v14h-3zM297,768h2v10h-2zM296,771h2.5v7h-2.5zM270,781h2v4h-2zM296,776h2.5v7h-2.5zM309,781h2.5v6h-2.5zM285,772h2v6h-2zM302,771h3v14h-3zM269,781h3v5h-3zM273,795h2v8h-2zM312,803h2v5h-2zM310,791h2.5v4h-2.5zM295,808h2v8h-2zM303,750h3v7h-3zM267,798h3v9h-3zM287,803h3v5h-3zM295,791h3v12h-3zM266,800h2v12h-2zM275,800h2v13h-2zM308,809h2v12h-2zM302,808h2v12h-2zM302,804h2.5v4h-2.5zM286,751h2v9h-2zM296,766h3v10h-3zM270,784h2.5v14h-2.5zM320,804h2.5v9h-2.5zM337,794h2v8h-2zM343,787h3v8h-3zM343,788h2v10h-2zM325,750h2v7h-2zM359,756h2.5v7h-2.5zM347,771h3v11h-3zM344,790h2.5v6h-2.5zM351,749h2v6h-2zM344,778h2v6h-2zM317,758h2v5h-2zM317,801h2v4h-2zM334,761h3v9h-3zM344,750h2.5v10h-2.5zM328,760h2v11h-2zM317,787h2v11h-2zM329,807h2.5v4h-2.5zM396,787h2v6h-2zM363,778h3v5h-3zM396,782h2v4h-2zM394,798h2v9h-2zM363,788h2.5v11h-2.5zM394,758h2v10h-2zM369,773h2v6h-2zM393,775h3v4h-3zM404,760h3v7h-3zM367,804h2v10h-2zM394,777h2v11h-2zM450,778h2.5v5h-2.5zM433,781h2.5v6h-2.5zM444,754h2.5v9h-2.5zM441,785h2v6h-2zM420,792h2v11h-2zM409,767h2.5v9h-2.5zM431,759h2v9h-2zM435,764h2v10h-2zM445,796h2v5h-2zM474,794h2v9h-2zM464,804h2v9h-2zM458,750h2v4h-2zM462,752h2v3h-2zM463,785h2.5v11h-2.5zM486,757h2.5v4h-2.5zM482,779h2v3h-2zM462,758h3v7h-3zM464,772h2v5h-2zM469,753h2v5h-2zM497,753h3v6h-3zM530,769h2.5v15h-2.5zM534,804h3v6h-3zM546,797h2v5h-2zM534,756h2v13h-2zM523,788h2v9h-2zM505,759h2v9h-2zM512,783h2.5v13h-2.5zM521,763h2v10h-2zM533,806h2v11h-2zM524,782h2v15h-2zM545,791h2v8h-2zM505,778h3v7h-3zM531,756h2.5v13h-2.5zM515,788h2v9h-2zM511,796h3v9h-3zM545,760h2v13h-2zM517,773h2v11h-2zM536,803h2v6h-2zM520,792h3v13h-3zM549,796h2v8h-2zM531,749h2v10h-2zM510,764h2v11h-2zM520,788h3v6h-3zM546,783h2v8h-2zM510,775h3v4h-3zM506,795h3v7h-3zM531,808h2v15h-2zM529,763h2v13h-2zM541,795h2v9h-2zM568,760h2.5v9h-2.5zM572,752h2v13h-2zM568,787h2.5v14h-2.5zM583,771h2v10h-2zM555,807h2v13h-2zM565,807h2v7h-2zM583,753h2v9h-2zM572,788h2v14h-2zM594,793h2.5v4h-2.5zM562,784h2v4h-2zM554,774h2v13h-2zM582,767h3v11h-3zM556,796h2.5v5h-2.5zM589,781h2v11h-2zM596,752h2v11h-2zM589,794h3v8h-3zM551,754h2v8h-2zM594,778h2v9h-2zM581,785h3v7h-3zM555,760h2.5v7h-2.5zM575,793h2.5v3h-2.5zM583,799h2.5v6h-2.5zM568,803h2v6h-2zM567,801h3v7h-3zM568,778h3v13h-3zM582,804h2v9h-2zM578,797h3v9h-3zM553,757h3v8h-3zM596,759h2v5h-2zM581,780h2v4h-2zM566,797h2.5v13h-2.5zM558,768h3v5h-3zM598,777h3v6h-3zM689,785h2.5v5h-2.5zM713,799h2v3h-2zM701,758h3v8h-3zM720,774h2v4h-2zM737,757h2.5v6h-2.5zM720,752h3v4h-3zM707,752h2.5v4h-2.5zM734,796h2.5v10h-2.5zM718,792h2v10h-2zM735,806h3v10h-3zM709,793h2.5v7h-2.5zM711,789h3v10h-3zM722,785h3v6h-3zM766,801h2v11h-2zM766,763h2v6h-2zM744,802h2v10h-2zM751,769h3v8h-3zM766,766h2.5v5h-2.5zM785,773h2.5v5h-2.5zM765,793h2.5v4h-2.5zM760,774h2v5h-2zM750,773h2.5v8h-2.5zM759,779h3v8h-3zM756,800h2.5v6h-2.5zM746,783h2.5v6h-2.5zM743,768h3v6h-3zM769,750h2v10h-2zM747,771h2v9h-2zM746,788h2.5v9h-2.5zM751,761h2v3h-2zM769,802h2v10h-2zM746,776h2v6h-2zM782,756h2v4h-2zM796,801h2v6h-2zM792,792h2v6h-2zM791,793h2v8h-2zM828,806h2v5h-2zM805,808h3v3h-3zM832,751h2v10h-2zM791,752h2.5v11h-2.5zM799,761h3v11h-3zM809,750h3v9h-3zM806,756h2v6h-2zM792,761h2v11h-2zM821,799h2v7h-2zM828,787h2v7h-2zM809,799h2v8h-2zM806,780h2.5v9h-2.5zM811,762h2.5v11h-2.5zM791,809h2v11h-2zM834,786h2v5h-2zM817,773h2v4h-2zM796,790h2v8h-2zM832,783h3v7h-3zM805,792h2v9h-2zM815,801h3v4h-3zM808,754h2v4h-2zM799,753h2v6h-2zM790,750h2v6h-2zM872,792h2v7h-2zM867,761h2v6h-2zM844,806h2v4h-2zM880,800h3v7h-3zM853,786h2v6h-2zM866,785h2v8h-2zM847,769h2v10h-2zM863,752h2v5h-2zM869,774h2v6h-2zM859,808h2v8h-2zM852,804h3v6h-3zM842,793h2.5v5h-2.5zM842,766h3v3h-3zM874,755h3v6h-3zM861,767h2v11h-2zM836,797h3v10h-3zM842,789h2v6h-2zM848,784h2.5v7h-2.5zM880,795h2.5v10h-2.5zM861,753h3v6h-3zM857,800h2v8h-2zM853,775h2.5v10h-2.5zM194,828h2v11h-2zM201,831h2.5v6h-2.5zM197,824h3v8h-3zM201,851h2v12h-2zM191,830h3v12h-3zM215,829h2v5h-2zM210,860h2v9h-2zM201,838h2v10h-2zM209,857h2v10h-2zM209,861h3v8h-3zM198,840h2.5v8h-2.5zM205,812h2v12h-2zM195,849h2.5v8h-2.5zM210,849h2.5v7h-2.5zM213,811h2v3h-2zM193,841h2.5v5h-2.5zM203,826h2v10h-2zM201,867h2.5v9h-2.5zM210,833h2v5h-2zM194,837h2v12h-2zM201,855h2v12h-2zM196,855h2.5v11h-2.5zM209,826h2v5h-2zM196,828h2.5v4h-2.5zM213,840h3v5h-3zM191,855h2v11h-2zM202,839h2.5v10h-2.5zM214,844h2v14h-2zM202,819h2v5h-2zM238,845h2v6h-2zM248,823h2v8h-2zM223,819h2v10h-2zM263,849h2v8h-2zM223,824h2v3h-2zM255,848h2v6h-2zM241,823h2v7h-2zM254,843h2v15h-2zM229,831h2v5h-2zM262,840h2v10h-2zM252,823h2v15h-2zM221,815h2v4h-2zM231,868h2v15h-2zM232,854h2v13h-2zM219,843h2.5v6h-2.5zM261,852h2v7h-2zM233,827h2v9h-2zM256,814h2v12h-2zM262,853h3v14h-3zM225,838h2v3h-2zM229,855h3v4h-3zM256,864h2.5v11h-2.5zM261,824h2v9h-2zM228,860h2.5v4h-2.5zM231,852h2v8h-2zM258,811h2v10h-2zM243,827h2v9h-2zM241,810h2v13h-2zM247,817h3v3h-3zM239,822h2v6h-2zM231,866h2.5v13h-2.5zM237,852h2v11h-2zM232,825h2v8h-2zM235,863h2v5h-2zM252,829h2v10h-2zM247,828h2v10h-2zM223,858h2.5v11h-2.5zM255,848h2.5v6h-2.5zM255,846h2.5v7h-2.5zM261,836h3v11h-3zM258,849h2v4h-2zM231,835h2v4h-2zM253,856h2.5v10h-2.5zM302,817h2v10h-2zM273,819h2v6h-2zM274,847h2v8h-2zM269,843h3v5h-3zM282,867h2v6h-2zM305,846h2v9h-2zM291,856h2v3h-2zM315,847h2v9h-2zM349,845h2v6h-2zM331,838h2v7h-2zM316,825h3v8h-3zM329,837h3v6h-3zM331,830h2v7h-2zM404,825h2.5v5h-2.5zM436,823h2.5v5h-2.5zM495,849h2.5v9h-2.5zM500,822h3v5h-3zM466,859h2v9h-2zM533,843h3v6h-3zM518,812h2v9h-2zM520,865h2.5v6h-2.5zM505,848h2v7h-2zM515,834h2v7h-2zM517,847h2.5v4h-2.5zM533,827h2.5v5h-2.5zM511,849h2v11h-2zM530,858h2.5v7h-2.5zM516,844h3v7h-3zM524,844h2v7h-2zM515,845h2.5v8h-2.5zM512,827h2v4h-2zM534,824h2v9h-2zM520,850h3v6h-3zM539,854h2v5h-2zM543,823h3v6h-3zM531,830h2.5v10h-2.5zM542,866h3v8h-3zM526,838h2.5v4h-2.5zM547,824h2v7h-2zM545,810h3v5h-3zM580,849h2v5h-2zM558,850h2v5h-2zM595,818h3v4h-3zM572,819h2v11h-2zM566,851h2v8h-2zM551,864h2v7h-2zM562,851h3v7h-3zM582,830h3v10h-3zM565,866h2v10h-2zM572,841h2v10h-2zM592,835h2v9h-2zM570,834h3v9h-3zM552,814h2.5v10h-2.5zM565,822h2v6h-2zM558,849h3v8h-3zM628,843h2v3h-2zM667,840h2v5h-2zM691,858h2v3h-2zM672,837h2v3h-2zM660,834h3v2h-3zM699,853h3v4h-3zM707,810h3v5h-3zM773,829h2v9h-2zM748,840h3v5h-3zM743,816h3v10h-3zM762,828h2v9h-2zM768,854h2v10h-2zM799,827h2v9h-2zM831,816h2.5v10h-2.5zM804,860h2v5h-2zM788,820h2.5v10h-2.5zM861,856h2v6h-2zM855,819h3v5h-3zM882,824h2.5v11h-2.5zM843,851h2v6h-2zM851,839h3v10h-3zM241,915h2.5v5h-2.5zM229,889h2v6h-2zM322,902h3v5h-3zM336,947h2v5h-2zM495,890h2v4h-2zM477,871h2v5h-2zM538,949h2v6h-2zM542,941h2.5v3h-2.5zM627,914h2v7h-2zM833,886h2.5v3h-2.5zM862,927h2.5v5h-2.5zM851,952h2v7h-2zM871,879h2v5h-2zM847,939h3v2h-3zM871,881h2v2h-2zM846,904h2v4h-2z"/></g>
<path clip-path="url(#cL)" d="M217.6,200V960M265.1,200V960M312.7,200V960M360.2,200V960M407.7,200V960M455.2,200V960M502.8,200V960M550.3,200V960M597.8,200V960M645.4,200V960M692.9,200V960M740.4,200V960M788,200V960M835.5,200V960" stroke="#FFABA8" stroke-width="2.6" fill="none"/>
<path d="M222.8,292.3 C227.2,296.4 239.6,305.6 249.3,317 C259,328.4 269.9,344.3 281,361 C292.1,377.7 305.2,401 316,417.4 C326.8,433.8 336.6,445.8 346,459.6 C355.4,473.4 363.3,486.3 372.5,500 C381.7,513.7 389.4,526.4 401,541.6 C412.6,556.8 428.3,574.5 442,591 C455.7,607.5 468.6,626 483,640.3 C497.4,654.6 509,668.4 528.5,677 C548,685.6 576.9,691.8 600,692 C623.1,692.2 643.2,687.3 667,678 C690.8,668.7 722.6,650.5 742.7,636 C762.9,621.5 772.5,606.7 787.9,591 C803.3,575.3 819.3,556.7 835,541.6 C850.7,526.5 868,510.6 882.3,500.5 C896.6,490.4 914.5,484.2 921,481" stroke="#1c0606" stroke-width="1.5" fill="none"/>
<path d="M183.2,338 C187.8,343 201,357.1 210.5,368 C220,378.9 231.9,392.1 240.4,403.3 C248.9,414.5 255.1,423.9 261.6,435 C268.1,446.1 273.9,460.8 279.2,470.2 C284.5,479.6 288,483 293.3,491.3 C298.6,499.6 299.9,502.4 311,520 C322.1,537.6 345,574.3 360,597 C375,619.7 387.3,639.9 401,656 C414.7,672.1 428.3,683 442,693.7 C455.7,704.4 469.3,712.9 483,720.4 C496.7,727.9 510.6,734.2 524.4,739 C538.1,743.8 553.6,747 565.5,749 C577.4,751 582.3,751.7 596,751 C609.7,750.3 631.8,748.1 647.7,745 C663.6,741.9 675.5,740.1 691.3,732.6 C707.1,725.1 726.6,711.1 742.7,699.8 C758.8,688.5 772.5,677.5 787.9,664.8 C803.3,652.1 819.3,637.8 835,623.8 C850.7,609.8 871,590.9 882.3,580.6 C893.6,570.3 895.5,568.1 903,562 C910.5,555.9 920,548.1 927.5,543.7 C935,539.3 944.6,536.9 948,535.5" stroke="#1c0606" stroke-width="1.5" fill="none"/>
<path d="M92,544.5H960M92,619.7H479M92,678.2H960M92,752H960M92,812.5H960M92,871H960" stroke="#2a2a2a" stroke-width="2" fill="none"/>
<path d="M282,225 C287.2,231.5 300.2,247.5 313,264 C325.8,280.5 343,300.7 359,324 C375,347.3 396.8,384.7 409,404 C421.2,423.3 424,427.3 432,440 C440,452.7 448.5,467.2 457,480 C465.5,492.8 475.2,506.3 483,517 C490.8,527.7 492.8,532.2 504,544 C515.2,555.8 534.3,577.8 550,588 C565.7,598.2 582.2,603.2 598,605 C613.8,606.8 629.2,605.7 645,599 C660.8,592.3 677.2,578 693,565 C708.8,552 724.3,537.2 740,521 C755.7,504.8 771.3,482.8 787,468 C802.7,453.2 821.8,441 834,432 C846.2,423 851.8,419 860,414 C868.2,409 879.2,404 883,402 L883,960 L190,960 L190,750 C190.2,743.3 190,721.8 191,710 C192,698.2 193.8,689 196,679 C198.2,669 200.3,659.8 204,650 C207.7,640.2 212.3,630.8 218,620 C223.7,609.2 231.3,597.5 238,585 C244.7,572.5 252.8,555.8 258,545 C263.2,534.2 265.7,531.8 269,520 C272.3,508.2 275.8,484.7 278,474 C280.2,463.3 281.3,459 282,456 Z" stroke="#3a0f0f" stroke-width="2.2" fill="none"/>
<path d="M445.3,463 L479.2,515 L479.2,570.4 L445.3,527 ZM445.3,593 L479.2,648.5 L479.2,687 L445.3,642 ZM540,650.5 Q600,696 664,653.6 L664,700 Q600,748 540,698 ZM384,780H478.5V831.6H384ZM259.4,840.4H354V886.7H259.4ZM322,900H353V960H322ZM446.6,901H478.5V960H446.6ZM508,901.5H542V960H508ZM570,901.5H604V960H570ZM633.5,840.6H664V890H633.5ZM633.5,901.5H664V960H633.5ZM695,901.5H727V945.4H695ZM758,901.5H789V945H758ZM820,901.5H851.6V945H820ZM965.4,906H1006.5V959H965.4Z" fill="#060000"/>
<path d="M1036,524.3H1187M1036,574.2H1183M1036,646.6H1263.3M1036,670.8H1243M1036,730.1H1315.7M1300,730.7H1316M1382.5,749.6H1722M1760,739.7H1937.5M1064,784.2H1100.5M1856,784.4H1931M1064,856.8H1486M1559.7,857.1H1931M1064,888.4H1931M1064,946.8H1931M1107,1046.3H1937M1107,1106.4H1937M1107,1176.5H1930" stroke="#2a2a2a" stroke-width="2" fill="none"/>
<path d="M1222,141 C1226.7,146.2 1239.6,160.8 1250,172 C1260.4,183.2 1278.8,202 1284.6,208 M1211.6,296.5 C1216.3,302.1 1230.3,318.5 1240,330 C1249.7,341.5 1265,359.5 1270,365.4 M1172,341.6 C1177.1,346 1192.3,355.3 1202.8,368 C1213.3,380.7 1223.8,401 1235,418 C1246.2,435 1264.2,461.3 1270,470 M1874.7,351.8 L1915.8,328.3 M1815,277 C1835,266 1855,256 1874.7,247 M1862.6,505.2 L1900,483.2 M1862.6,577.9 L1876,565 L1925,535 M1861.5,641.7 L1878,626.3 M1122.3,440 L1131,455 M1406,834.7 C1425,844 1450,853 1476,856.7 M1669.8,839.5 C1650,846 1625,853 1597,857" stroke="#1a1a1a" stroke-width="1.4" fill="none"/>
<path d="M1284.6,75 C1289.5,80.9 1301.1,94.4 1314,110.6 C1326.9,126.8 1346.3,149.4 1362,172 C1377.7,194.6 1394.2,223 1408,246 C1421.8,269 1433.2,291.3 1445,310 C1456.8,328.7 1469.7,345.6 1479,358 C1488.3,370.4 1494.2,376.3 1501,384.6 C1507.8,392.9 1512.2,399.9 1520,407.7 C1527.8,415.5 1537.8,424.8 1547.7,431.5 C1557.6,438.2 1571.4,445 1579.4,448 C1587.5,451 1590.5,449.5 1596,449.5 C1601.5,449.5 1604.7,449.7 1612.5,448 C1620.3,446.3 1634.9,442.1 1642.8,439.4 C1650.7,436.6 1652.1,436.6 1660,431.5 C1667.9,426.4 1681.2,417.6 1690.4,409 C1699.7,400.4 1707.9,388.4 1715.5,380 C1723.1,371.6 1725,369.8 1736,358.5 C1747,347.2 1765.9,326 1781.5,312 C1797.1,298 1814,284.6 1829.5,274.5 C1845,264.4 1867.2,255.3 1874.7,251.5 L1874.7,351.8 C1867.2,358.1 1844.8,376.3 1830,389.5 C1815.2,402.7 1801.5,416.1 1786,431 C1770.5,445.9 1748.3,468.1 1737,479 C1725.7,489.9 1725.5,490.9 1718,496.2 C1710.5,501.5 1700.5,506.2 1691.7,510.8 C1682.9,515.4 1671.9,520.9 1665.3,524 C1658.7,527.1 1658.6,527.4 1652,529.3 C1645.4,531.2 1634.5,533.9 1625.7,535.2 C1616.9,536.5 1606.9,537 1599.2,537.2 C1591.5,537.4 1586,537.2 1579.4,536.5 C1572.8,535.8 1566.4,535.1 1559.6,533.2 C1552.8,531.3 1545.1,527.9 1538.5,525.3 C1531.9,522.7 1525.9,520.9 1520,517.4 C1514.1,513.9 1509.5,509.1 1503,504 C1496.5,498.9 1490.7,496.5 1481,487 C1471.3,477.5 1457.2,460.8 1445,447 C1432.8,433.2 1421.8,421.5 1408,404 C1394.2,386.5 1377.8,366.7 1362,342 C1346.2,317.3 1326.4,278.3 1313.5,256 C1300.6,233.7 1289.4,216 1284.6,208 Z" fill="#BF3C3E"/>
<path d="M1270,365.4 C1275.4,373.9 1289.6,394.6 1302.4,416.2 C1315.2,437.8 1331.9,469.9 1347,494.8 C1362.1,519.7 1378.6,545.6 1393.2,565.6 C1407.8,585.6 1418.9,599.1 1434.8,615 C1450.7,630.9 1471.8,649.5 1488.8,661 C1505.8,672.5 1520.4,679.3 1536.5,684.3 C1552.6,689.3 1570,691.2 1585.6,691 C1601.2,690.8 1615,686.8 1630,683 C1645,679.2 1660.2,675.6 1675.5,668 C1690.8,660.4 1706,649.9 1721.7,637.3 C1737.5,624.7 1754,607.6 1770,592.2 C1786,576.8 1802.1,559.3 1817.5,544.8 C1832.9,530.3 1855.1,511.8 1862.6,505.2 L1862.6,577.9 C1855.1,585.6 1832.9,608.4 1817.5,624 C1802.1,639.6 1786,657.8 1770,671.4 C1754,685 1737.5,695.5 1721.7,705.6 C1706,715.7 1683.2,727.6 1675.5,732 L1675,750 L1490,750 L1488.8,729 C1479.8,722.8 1450.7,704.6 1434.8,692 C1418.9,679.4 1407.8,669.3 1393.2,653.4 C1378.6,637.5 1362.1,617.3 1347,596.5 C1331.9,575.7 1315.2,549.8 1302.4,528.7 C1289.6,507.6 1275.4,479.8 1270,470 Z" fill="#BF3C3E"/>
<path d="M1131,455 Q1121,488 1109.8,524.3 L1169.7,524.3 Z" fill="#BF3C3E"/>
<path d="M1118.6,574.2 L1183.4,574.2 L1233.3,646.6 L1083.6,646.6 Q1100,608 1118.6,574.2 Z" fill="#BF3C3E"/>
<path d="M1088.6,670.8 L1243.3,670.8 L1294.5,730.1 L1068.7,730.1 Q1072,695 1088.6,670.8 Z" fill="#BF3C3E"/>
<path d="M1764.6,739.7 L1861.5,739.7 L1861.5,641.7 Q1815,682 1764.6,739.7 Z" fill="#BF3C3E"/>
<path d="M1105,784.2 L1334.6,784.2 C1350,796 1375,815 1406,834.7 L1406,856.7 L1101.6,856.7 Q1101,818 1105,784.2 Z" fill="#BF3C3E"/>
<path d="M1669.8,839.5 C1690,832 1735,808 1760,784.4 L1853.8,784.4 L1853.8,857.1 L1669.8,857.1 Z" fill="#BF3C3E"/>
<path d="M1175.2,888.4 L1855,888.4 L1855,946.8 L1175.2,946.8 Z" fill="#BF3C3E"/>
<path d="M1180.2,1046.3 L1859.3,1046.3 L1859.3,1106.4 L1180.2,1106.4 Z" fill="#BF3C3E"/>
<path d="M1173.8,1176.5 L1851.6,1176.5 L1851.6,1264.2 L1173.8,1264.2 Z" fill="#BF3C3E"/>
<g clip-path="url(#cH)"><path fill="#F08A5E" d="M1309,361h3v6h-3zM1286,549h2v4h-2zM1296,235h2.5v6h-2.5zM1301,184h2.5v10h-2.5zM1290,173h3v10h-3zM1283,288h2v8h-2zM1310,67h2v6h-2zM1295,92h2v10h-2zM1300,195h2v11h-2zM1281,422h2.5v6h-2.5zM1309,439h3v5h-3zM1281,232h2.5v10h-2.5zM1312,377h2v9h-2zM1313,448h2v6h-2zM1299,494h2.5v10h-2.5zM1303,550h3v6h-3zM1301,88h2v5h-2zM1283,444h3v5h-3zM1310,547h2.5v7h-2.5zM1293,308h2.5v11h-2.5zM1296,417h2.5v9h-2.5zM1296,409h2v9h-2zM1295,179h2.5v4h-2.5zM1293,269h2.5v7h-2.5zM1304,454h2.5v5h-2.5zM1289,96h3v8h-3zM1284,96h3v10h-3zM1295,144h3v4h-3zM1355,110h3v5h-3zM1320,373h2v5h-2zM1323,502h2v3h-2zM1323,468h2v3h-2zM1348,391h3v4h-3zM1352,333h2v7h-2zM1348,540h2v7h-2zM1338,287h2v3h-2zM1392,163h2v6h-2zM1367,297h3v4h-3zM1377,189h2.5v4h-2.5zM1388,230h2v6h-2zM1375,126h2v4h-2zM1445,163h2.5v6h-2.5zM1436,59h2v3h-2zM1441,65h2v3h-2zM1442,358h2v5h-2zM1425,325h2v4h-2zM1429,500h3v6h-3zM1436,142h3v7h-3zM1469,214h2.5v4h-2.5zM1494,130h2v3h-2zM1475,115h2.5v5h-2.5zM1472,267h2v5h-2zM1490,269h2v5h-2zM1532,286h3v6h-3zM1539,502h3v3h-3zM1527,388h3v3h-3zM1536,188h2v2h-2zM1520,453h2.5v4h-2.5zM1514,328h2v4h-2zM1532,335h2v2h-2zM1525,290h2v6h-2zM1533,450h3v4h-3zM1513,401h2.5v7h-2.5zM1543,338h3v5h-3zM1554,477h2v7h-2zM1561,308h2.5v3h-2.5zM1588,351h2.5v3h-2.5zM1614,497h3v7h-3zM1604,298h2v7h-2zM1620,94h3v3h-3zM1606,543h2v5h-2zM1683,231h3v5h-3zM1711,240h2.5v4h-2.5zM1705,355h3v4h-3zM1726,414h2v5h-2zM1720,408h2.5v3h-2.5zM1744,538h2v7h-2zM1757,258h2v5h-2zM1758,133h2.5v6h-2.5zM1745,76h2.5v4h-2.5zM1744,479h2.5v3h-2.5zM1773,553h2.5v2h-2.5zM1765,480h2.5v2h-2.5zM1751,374h2v6h-2zM1780,195h2.5v4h-2.5zM1751,98h2.5v7h-2.5zM1765,263h2v6h-2zM1768,337h2v7h-2zM1784,68h2v3h-2zM1813,362h2.5v6h-2.5zM1819,298h3v4h-3zM1791,315h2v4h-2zM1818,109h3v4h-3zM1799,150h3v7h-3zM1811,177h2v4h-2zM1784,313h3v2h-3zM1825,173h2v5h-2zM1788,381h2.5v6h-2.5zM1823,371h2.5v2h-2.5zM1805,333h2.5v3h-2.5zM1794,379h2.5v3h-2.5zM1788,292h2v3h-2zM1807,523h3v3h-3zM1806,175h2v2h-2zM1810,523h2.5v7h-2.5zM1790,365h2v6h-2zM1801,501h2v3h-2zM1785,336h2v3h-2zM1814,224h3v5h-3zM1811,406h2v5h-2zM1802,397h2v5h-2zM1786,229h2.5v4h-2.5zM1814,270h2.5v4h-2.5zM1866,394h2v6h-2zM1853,68h2.5v4h-2.5zM1873,533h2v5h-2zM1849,167h2v3h-2zM1877,316h2v3h-2zM1837,235h2v2h-2zM1866,297h3v7h-3zM1868,72h2v3h-2zM1872,220h2v6h-2zM1858,517h2v3h-2zM1859,108h2v2h-2zM1839,285h2.5v5h-2.5zM1872,149h3v4h-3zM1866,198h3v3h-3zM1871,148h3v3h-3zM1877,535h3v6h-3zM1859,81h2.5v5h-2.5zM1874,245h2.5v3h-2.5zM1874,342h2v3h-2zM1868,100h3v3h-3zM1879,126h2.5v6h-2.5zM1855,281h2v3h-2zM1878,243h3v4h-3zM1849,81h2v5h-2zM1867,409h2v4h-2zM1868,90h2v7h-2zM1853,284h3v6h-3zM1861,344h3v3h-3zM1853,198h2.5v5h-2.5zM1850,81h2v4h-2zM1841,388h2v3h-2zM1850,435h3v4h-3zM1830,419h2v4h-2zM1860,532h2v3h-2z"/><path fill="#F29A35" d="M1296,355h2.5v10h-2.5zM1310,206h3v8h-3zM1300,488h2v7h-2zM1288,287h2v5h-2zM1295,290h3v11h-3zM1289,328h2.5v8h-2.5zM1287,293h2.5v5h-2.5zM1287,323h2v8h-2zM1291,146h3v8h-3zM1287,518h2v8h-2zM1287,320h2v7h-2zM1304,409h3v5h-3zM1306,114h2v9h-2zM1309,304h2v4h-2zM1297,370h3v9h-3zM1310,528h2.5v5h-2.5zM1304,324h2.5v7h-2.5zM1298,536h2v7h-2zM1312,526h2v5h-2zM1303,557h3v7h-3zM1301,241h3v8h-3zM1283,152h3v9h-3zM1284,526h2v5h-2zM1289,324h2.5v10h-2.5zM1288,99h2v6h-2zM1290,388h2v3h-2zM1297,180h2.5v10h-2.5zM1290,284h2.5v4h-2.5zM1298,335h3v10h-3zM1291,346h2.5v4h-2.5zM1309,466h2v11h-2zM1293,165h2v10h-2zM1302,500h2.5v4h-2.5zM1293,273h2.5v9h-2.5zM1302,287h2.5v8h-2.5zM1281,521h2v9h-2zM1290,175h3v8h-3zM1285,194h2v10h-2zM1297,218h2.5v8h-2.5zM1289,87h2.5v8h-2.5zM1312,198h3v5h-3zM1292,136h3v7h-3zM1285,467h2v11h-2zM1304,523h3v5h-3zM1298,201h2v9h-2zM1313,501h2v9h-2zM1295,178h2.5v8h-2.5zM1286,232h2.5v10h-2.5zM1302,396h3v7h-3zM1302,178h2.5v3h-2.5zM1303,483h2v9h-2zM1303,100h2v8h-2zM1281,263h2v4h-2zM1345,296h3v6h-3zM1341,419h2.5v7h-2.5zM1352,353h2v4h-2zM1324,135h2v3h-2zM1323,251h2.5v5h-2.5zM1345,310h2v4h-2zM1404,177h2.5v3h-2.5zM1369,463h2v7h-2zM1386,541h2v5h-2zM1454,452h2.5v6h-2.5zM1442,177h2v4h-2zM1434,152h3v6h-3zM1438,134h2.5v7h-2.5zM1426,389h2v2h-2zM1494,319h2v3h-2zM1460,157h2v6h-2zM1471,125h3v5h-3zM1490,493h3v4h-3zM1486,389h2v3h-2zM1500,359h2v5h-2zM1456,412h2v4h-2zM1507,531h2.5v4h-2.5zM1510,231h3v2h-3zM1521,405h2v3h-2zM1538,190h2v3h-2zM1518,302h2.5v2h-2.5zM1543,132h2.5v3h-2.5zM1527,505h2v3h-2zM1508,149h2.5v4h-2.5zM1540,188h2v5h-2zM1589,135h2v3h-2zM1584,539h3v4h-3zM1560,524h3v3h-3zM1674,318h2v5h-2zM1642,298h2v6h-2zM1648,385h3v4h-3zM1649,492h2v3h-2zM1672,94h2v7h-2zM1707,85h2v3h-2zM1703,103h3v7h-3zM1713,389h2.5v6h-2.5zM1697,276h2v3h-2zM1718,457h2v6h-2zM1725,379h2v3h-2zM1770,366h3v2h-3zM1764,334h2v6h-2zM1767,546h3v3h-3zM1756,514h2v3h-2zM1772,106h2v7h-2zM1774,500h2v5h-2zM1750,229h3v6h-3zM1769,152h2.5v5h-2.5zM1756,166h3v3h-3zM1744,498h3v4h-3zM1750,379h2v6h-2zM1815,82h2.5v3h-2.5zM1820,427h2.5v4h-2.5zM1816,510h2.5v5h-2.5zM1809,285h3v3h-3zM1805,499h2v6h-2zM1791,84h2.5v7h-2.5zM1812,299h2v6h-2zM1828,103h3v5h-3zM1810,82h2v3h-2zM1786,486h2v3h-2zM1825,480h2v2h-2zM1804,534h2v3h-2zM1799,168h2v5h-2zM1799,111h2v6h-2zM1799,73h3v3h-3zM1814,389h2.5v3h-2.5zM1802,353h2v3h-2zM1798,475h3v3h-3zM1785,79h2v4h-2zM1794,370h2v6h-2zM1793,214h2v3h-2zM1796,240h3v4h-3zM1782,270h2.5v5h-2.5zM1814,183h2v5h-2zM1805,125h3v3h-3zM1827,304h2v2h-2zM1795,450h3v4h-3zM1810,552h3v4h-3zM1790,368h2v6h-2zM1822,324h3v6h-3zM1863,309h2v6h-2zM1848,462h2v6h-2zM1846,58h2v5h-2zM1847,104h2v6h-2zM1862,461h3v5h-3zM1831,478h3v6h-3zM1837,530h3v5h-3zM1839,474h2v3h-2zM1860,327h2v2h-2zM1861,182h2.5v4h-2.5zM1875,472h2.5v7h-2.5zM1858,370h2v4h-2zM1833,179h2v2h-2zM1878,270h2.5v4h-2.5zM1855,91h3v4h-3zM1879,78h2.5v4h-2.5zM1859,149h3v7h-3zM1839,285h3v7h-3zM1852,138h2.5v6h-2.5zM1871,138h2.5v6h-2.5zM1865,441h2v5h-2zM1847,294h3v3h-3zM1835,363h3v3h-3zM1851,345h3v3h-3zM1862,507h2v3h-2zM1879,63h2.5v3h-2.5zM1837,102h2v6h-2zM1849,199h2v3h-2zM1876,204h2v7h-2zM1875,448h2v3h-2zM1877,237h2v4h-2zM1848,163h3v3h-3zM1831,509h2.5v4h-2.5zM1870,376h2.5v5h-2.5zM1877,297h3v6h-3zM1858,355h3v5h-3zM1835,74h3v4h-3zM1836,65h2.5v4h-2.5zM1835,307h3v5h-3zM1874,287h2.5v2h-2.5zM1852,510h2v3h-2zM1834,372h2.5v7h-2.5zM1852,493h3v5h-3zM1852,400h2v4h-2zM1835,491h2v5h-2zM1861,82h2v7h-2zM1848,395h2v3h-2zM1833,414h2v6h-2zM1850,508h2.5v2h-2.5zM1860,155h2v6h-2z"/><path fill="#FFE42A" d="M1306,60h2.5v7h-2.5zM1284,191h2v9h-2zM1304,536h2v3h-2zM1283,381h2.5v10h-2.5zM1297,230h3v4h-3zM1286,243h3v3h-3zM1287,431h2.5v6h-2.5zM1301,60h2v3h-2zM1299,61h2.5v11h-2.5zM1309,221h2v9h-2zM1308,505h2v3h-2zM1311,484h2v4h-2zM1305,207h2.5v4h-2.5zM1308,126h2.5v6h-2.5zM1300,236h2v9h-2zM1309,189h3v8h-3zM1311,247h2.5v9h-2.5zM1306,396h3v4h-3zM1290,367h2.5v8h-2.5zM1304,256h2v4h-2zM1306,355h2v6h-2zM1290,433h2v4h-2zM1313,544h2v10h-2zM1282,198h3v5h-3zM1303,122h2.5v4h-2.5zM1307,138h2v8h-2zM1307,378h2.5v8h-2.5zM1290,94h3v4h-3zM1309,287h2v7h-2zM1286,451h2v6h-2zM1291,555h3v7h-3zM1298,239h2v5h-2zM1295,360h2.5v6h-2.5zM1307,556h3v9h-3zM1307,245h2v9h-2zM1311,59h2v5h-2zM1304,231h3v10h-3zM1290,182h2v10h-2zM1289,67h2.5v3h-2.5zM1283,148h2.5v8h-2.5zM1287,140h2v7h-2zM1349,287h3v3h-3zM1387,343h2v4h-2zM1402,318h2v6h-2zM1399,266h2.5v7h-2.5zM1450,128h2v3h-2zM1432,363h2v5h-2zM1414,313h2.5v7h-2.5zM1462,553h2v6h-2zM1463,460h2.5v6h-2.5zM1468,419h3v4h-3zM1527,345h2.5v5h-2.5zM1547,165h2.5v4h-2.5zM1512,533h2.5v5h-2.5zM1538,511h2v4h-2zM1511,361h2v3h-2zM1508,149h2v3h-2zM1609,444h2.5v6h-2.5zM1625,140h2.5v5h-2.5zM1759,244h3v5h-3zM1746,530h2.5v6h-2.5zM1750,501h2.5v3h-2.5zM1805,530h2v3h-2zM1796,531h2v3h-2zM1826,429h3v3h-3zM1807,229h2.5v5h-2.5zM1803,517h3v3h-3zM1815,189h2v4h-2zM1807,58h2v4h-2zM1798,252h2v5h-2zM1790,324h2v6h-2zM1792,548h3v3h-3zM1802,383h3v5h-3zM1795,489h2.5v4h-2.5zM1814,221h2v4h-2zM1810,500h2v4h-2zM1802,223h2v4h-2zM1810,498h2v4h-2zM1787,343h2v6h-2zM1833,187h3v5h-3zM1862,491h2.5v3h-2.5zM1852,286h3v7h-3zM1868,546h2v4h-2zM1871,335h2.5v3h-2.5zM1846,118h2v6h-2zM1844,254h2v6h-2zM1832,173h3v5h-3zM1875,434h2.5v3h-2.5zM1867,280h2v5h-2zM1833,377h2v6h-2zM1854,120h2.5v3h-2.5zM1860,256h2v7h-2zM1836,201h2v5h-2zM1845,394h2v3h-2zM1850,494h3v2h-3zM1845,296h2.5v3h-2.5zM1848,550h3v6h-3zM1863,523h2v6h-2zM1832,408h2v4h-2zM1864,273h2.5v6h-2.5zM1850,519h2v6h-2zM1872,197h2v6h-2zM1857,369h2.5v7h-2.5zM1868,385h2.5v3h-2.5zM1879,392h2v6h-2zM1848,321h2v2h-2zM1868,80h2.5v3h-2.5zM1865,525h2v6h-2zM1846,330h3v7h-3zM1854,366h2.5v7h-2.5zM1855,440h2v6h-2zM1845,264h3v5h-3zM1843,502h2v3h-2zM1851,551h3v4h-3zM1868,322h2v5h-2zM1862,332h2v7h-2zM1860,375h2v4h-2zM1843,233h2v4h-2zM1830,67h2v5h-2zM1865,272h3v7h-3z"/></g>
<g clip-path="url(#cG)"><path fill="#F08A5E" d="M1298,616h2v7h-2zM1287,678h2v6h-2zM1278,437h2v5h-2zM1281,619h2v10h-2zM1265,508h2v4h-2zM1295,646h2v11h-2zM1266,722h2.5v10h-2.5zM1282,622h2v9h-2zM1287,406h3v11h-3zM1267,506h3v11h-3zM1292,647h3v10h-3zM1271,487h2.5v5h-2.5zM1277,554h2v6h-2zM1282,426h2.5v10h-2.5zM1266,712h2v8h-2zM1266,437h3v4h-3zM1274,398h2v8h-2zM1290,646h3v5h-3zM1278,392h2v6h-2zM1287,390h2v4h-2zM1269,693h3v8h-3zM1271,429h2.5v11h-2.5zM1277,670h2.5v4h-2.5zM1337,749h2v5h-2zM1306,674h2.5v4h-2.5zM1309,614h3v6h-3zM1322,481h2v5h-2zM1325,570h2v3h-2zM1335,465h2.5v4h-2.5zM1337,518h2.5v5h-2.5zM1324,424h2v3h-2zM1325,608h2.5v6h-2.5zM1318,373h2v4h-2zM1320,358h2v2h-2zM1346,578h2.5v5h-2.5zM1329,393h2v7h-2zM1311,479h2v6h-2zM1325,469h3v6h-3zM1326,729h3v4h-3zM1338,348h2v3h-2zM1343,511h2v3h-2zM1313,555h2v5h-2zM1317,350h2v4h-2zM1312,421h2v6h-2zM1306,560h2v6h-2zM1315,443h2.5v7h-2.5zM1322,397h3v7h-3zM1343,721h2v5h-2zM1303,690h3v4h-3zM1323,592h3v6h-3zM1337,707h3v7h-3zM1305,652h2v5h-2zM1343,465h3v3h-3zM1319,401h3v7h-3zM1338,357h2v6h-2zM1304,739h2v5h-2zM1383,418h2.5v3h-2.5zM1351,424h2v3h-2zM1357,591h3v4h-3zM1391,573h2v4h-2zM1372,713h2v7h-2zM1386,595h2v5h-2zM1362,724h3v3h-3zM1394,674h2v5h-2zM1359,545h2v5h-2zM1350,690h2v5h-2zM1364,409h2v2h-2zM1365,644h3v6h-3zM1372,656h2.5v6h-2.5zM1358,396h3v4h-3zM1370,602h2v2h-2zM1393,366h2v3h-2zM1356,473h2v6h-2zM1369,404h2v2h-2zM1383,382h2.5v6h-2.5zM1356,353h3v5h-3zM1372,644h3v4h-3zM1355,388h2v4h-2zM1366,635h2.5v6h-2.5zM1350,649h2v7h-2zM1372,696h3v6h-3zM1363,736h2.5v5h-2.5zM1380,563h3v2h-3zM1421,553h2v8h-2zM1438,392h2.5v5h-2.5zM1433,574h2v8h-2zM1410,505h2v7h-2zM1436,391h3v6h-3zM1407,365h2v3h-2zM1401,439h2v6h-2zM1418,360h2v9h-2zM1398,519h3v8h-3zM1400,478h2v9h-2zM1438,407h2v11h-2zM1403,456h2v4h-2zM1408,465h2.5v8h-2.5zM1423,593h2v11h-2zM1420,508h2v8h-2zM1424,610h2v7h-2zM1406,515h2v9h-2zM1427,640h2v8h-2zM1419,518h2v5h-2zM1430,463h3v4h-3zM1405,614h2v5h-2zM1409,754h2v9h-2zM1432,433h3v7h-3zM1402,599h2v4h-2zM1436,662h2v8h-2zM1423,466h3v8h-3zM1401,597h2v4h-2zM1400,579h2.5v4h-2.5zM1424,395h2v10h-2zM1417,643h2.5v6h-2.5zM1401,648h2v8h-2zM1403,484h3v5h-3zM1415,487h2v7h-2zM1473,444h3v5h-3zM1460,476h3v5h-3zM1481,750h3v4h-3zM1464,558h2v9h-2zM1454,696h2.5v9h-2.5zM1468,496h2v5h-2zM1446,621h3v4h-3zM1449,642h3v3h-3zM1460,635h2v11h-2zM1467,413h2v3h-2zM1487,685h2v7h-2zM1486,650h2v7h-2zM1445,397h2v8h-2zM1469,732h2.5v11h-2.5zM1456,718h3v3h-3zM1446,476h2v11h-2zM1484,484h2v5h-2zM1470,463h3v8h-3zM1472,478h2v8h-2zM1480,511h2.5v4h-2.5zM1447,607h3v7h-3zM1461,385h2.5v5h-2.5zM1469,408h3v6h-3zM1457,691h2v8h-2zM1481,369h2.5v3h-2.5zM1480,576h2v5h-2zM1447,474h2.5v4h-2.5zM1487,720h3v5h-3zM1469,686h2v9h-2zM1476,710h2.5v3h-2.5zM1471,487h2v7h-2zM1456,645h2.5v8h-2.5zM1488,358h3v9h-3zM1478,432h2.5v10h-2.5zM1457,473h2.5v8h-2.5zM1473,374h3v10h-3zM1488,537h2v9h-2zM1505,564h3v9h-3zM1503,547h2v4h-2zM1531,542h2.5v8h-2.5zM1505,598h3v10h-3zM1513,473h2v9h-2zM1501,705h2.5v10h-2.5zM1532,705h2.5v10h-2.5zM1521,348h2.5v7h-2.5zM1498,435h2v7h-2zM1507,755h3v4h-3zM1499,756h2v8h-2zM1508,353h2v7h-2zM1491,431h2v5h-2zM1529,496h2v7h-2zM1500,407h2.5v3h-2.5zM1525,454h2v10h-2zM1502,720h2v10h-2zM1507,548h3v9h-3zM1517,757h2.5v8h-2.5zM1518,577h2v9h-2zM1517,657h2.5v4h-2.5zM1532,560h2v7h-2zM1515,404h3v4h-3zM1522,463h2.5v8h-2.5zM1563,586h2.5v3h-2.5zM1574,478h2v5h-2zM1546,446h2v3h-2zM1541,391h3v2h-3zM1572,703h3v6h-3zM1538,434h2.5v3h-2.5zM1537,714h3v6h-3zM1545,535h3v5h-3zM1579,725h2v2h-2zM1559,439h2v4h-2zM1543,558h2v5h-2zM1551,459h2v6h-2zM1627,645h2.5v6h-2.5zM1616,750h2.5v6h-2.5zM1590,477h3v5h-3zM1621,416h2v4h-2zM1598,601h2v6h-2zM1627,478h2v6h-2zM1613,402h3v4h-3zM1604,394h3v7h-3zM1625,664h2.5v2h-2.5zM1589,500h2v4h-2zM1605,541h2.5v5h-2.5zM1587,486h3v4h-3zM1588,543h2v6h-2zM1612,604h2.5v4h-2.5zM1628,603h2v7h-2zM1605,723h2.5v3h-2.5zM1615,522h2.5v4h-2.5zM1623,395h2v5h-2zM1592,601h2v7h-2zM1610,473h2.5v6h-2.5zM1588,407h2v6h-2zM1597,411h2v5h-2zM1606,511h2v7h-2zM1667,581h2v4h-2zM1667,577h2v2h-2zM1668,695h3v4h-3zM1633,737h2v5h-2zM1662,566h2v3h-2zM1632,663h2v2h-2zM1651,437h2.5v7h-2.5zM1672,625h2v3h-2zM1645,578h3v4h-3zM1637,367h2v6h-2zM1636,716h2v5h-2zM1633,550h2.5v5h-2.5zM1659,407h2.5v3h-2.5zM1638,543h3v2h-3zM1637,737h2.5v5h-2.5zM1631,619h2v3h-2zM1672,391h2v5h-2zM1644,533h3v6h-3zM1666,706h3v5h-3zM1638,418h3v5h-3zM1633,439h2.5v7h-2.5zM1665,686h2.5v2h-2.5zM1649,496h2v4h-2zM1659,512h2.5v5h-2.5zM1714,373h2v5h-2zM1720,642h2v6h-2zM1708,371h2v7h-2zM1695,702h2v6h-2zM1719,459h3v2h-3zM1696,700h3v5h-3zM1678,375h2.5v6h-2.5zM1700,529h2.5v2h-2.5zM1717,523h2v5h-2zM1680,584h2v4h-2zM1714,375h2.5v7h-2.5zM1689,385h3v3h-3zM1721,576h2v7h-2zM1695,656h3v3h-3zM1687,617h2v5h-2zM1698,536h2v2h-2zM1713,592h2v3h-2zM1687,546h3v6h-3zM1707,430h2.5v5h-2.5zM1719,626h3v5h-3zM1719,709h2v4h-2zM1677,563h2v6h-2zM1681,367h3v5h-3zM1695,509h2.5v5h-2.5zM1699,431h2v5h-2zM1721,413h2.5v5h-2.5zM1678,383h3v5h-3zM1683,450h2.5v5h-2.5zM1719,379h2v6h-2zM1696,509h2v3h-2zM1761,725h3v10h-3zM1747,474h2v3h-2zM1765,357h2v9h-2zM1760,670h3v3h-3zM1749,702h3v3h-3zM1747,700h2v5h-2zM1750,350h2v9h-2zM1764,350h2v4h-2zM1742,527h3v8h-3zM1769,360h3v8h-3zM1756,738h2.5v11h-2.5zM1734,732h3v6h-3zM1765,584h3v7h-3zM1747,671h2v6h-2zM1749,652h2v4h-2zM1730,461h2v10h-2zM1760,683h2v9h-2zM1749,740h2v11h-2zM1738,556h2.5v4h-2.5zM1746,448h2.5v9h-2.5zM1813,547h2v6h-2zM1795,688h2v11h-2zM1800,671h3v8h-3zM1802,633h3v8h-3zM1839,603h2.5v9h-2.5zM1857,407h3v5h-3zM1862,405h2.5v4h-2.5zM1830,443h2v7h-2zM1817,614h2.5v10h-2.5zM1865,452h3v7h-3zM1836,589h2v4h-2zM1850,736h2v6h-2zM1828,592h2v10h-2zM1830,753h2.5v5h-2.5zM1840,582h3v3h-3zM1859,508h3v4h-3zM1822,660h2.5v8h-2.5zM1853,673h2v10h-2zM1856,717h2v6h-2zM1843,473h2v4h-2zM1847,388h2v5h-2zM1854,495h2.5v3h-2.5zM1820,711h3v8h-3zM1849,487h2.5v4h-2.5zM1852,438h2.5v6h-2.5zM1827,356h3v6h-3zM1823,592h2v3h-2zM1841,359h2.5v3h-2.5zM1841,355h2v9h-2zM1866,498h2.5v7h-2.5zM1859,557h2v10h-2zM1863,755h3v7h-3zM1825,556h3v9h-3zM1836,360h2.5v4h-2.5zM1859,645h2v10h-2zM1832,417h3v10h-3zM1854,537h2v6h-2zM1826,694h2.5v10h-2.5zM1861,481h2v5h-2zM1855,475h2v6h-2zM1861,427h2v9h-2z"/><path fill="#F29A35" d="M1295,457h2v11h-2zM1301,635h2v3h-2zM1289,503h2.5v10h-2.5zM1274,684h2v5h-2zM1287,369h2v9h-2zM1282,392h2v8h-2zM1288,353h2.5v5h-2.5zM1292,398h2.5v7h-2.5zM1288,431h2v5h-2zM1275,713h3v10h-3zM1270,463h2v5h-2zM1270,429h3v10h-3zM1274,617h3v10h-3zM1282,688h2v11h-2zM1268,720h2.5v8h-2.5zM1297,582h2v10h-2zM1287,691h2.5v4h-2.5zM1269,531h2.5v11h-2.5zM1286,569h2v7h-2zM1273,548h2v5h-2zM1272,384h2v5h-2zM1277,381h2.5v11h-2.5zM1267,594h2v9h-2zM1265,349h2v8h-2zM1267,656h2.5v10h-2.5zM1276,378h2v4h-2zM1285,359h2v7h-2zM1274,664h3v8h-3zM1279,661h3v9h-3zM1286,733h2v4h-2zM1281,511h2v9h-2zM1271,450h2v4h-2zM1282,622h2.5v8h-2.5zM1288,543h2v5h-2zM1269,683h2v4h-2zM1298,663h2v11h-2zM1299,635h3v7h-3zM1267,614h2v5h-2zM1285,356h2v9h-2zM1291,656h2.5v9h-2.5zM1298,519h2.5v4h-2.5zM1285,621h2v10h-2zM1282,526h2.5v9h-2.5zM1279,550h3v8h-3zM1284,658h2v6h-2zM1296,586h2v6h-2zM1342,480h2.5v2h-2.5zM1317,482h2v5h-2zM1323,488h2v5h-2zM1333,537h2v7h-2zM1334,744h2v5h-2zM1307,735h3v3h-3zM1341,496h3v5h-3zM1335,548h2v5h-2zM1344,570h2v3h-2zM1334,518h2.5v6h-2.5zM1314,354h2.5v3h-2.5zM1306,478h2v4h-2zM1347,745h2v2h-2zM1342,662h2.5v3h-2.5zM1339,725h3v4h-3zM1342,736h2v5h-2zM1347,462h2v3h-2zM1344,370h2v3h-2zM1329,637h3v5h-3zM1322,395h2.5v5h-2.5zM1332,462h2v5h-2zM1318,751h2.5v6h-2.5zM1337,588h2v3h-2zM1347,376h2v4h-2zM1336,686h2v3h-2zM1341,566h2v6h-2zM1327,750h3v6h-3zM1337,350h2.5v3h-2.5zM1339,669h2.5v3h-2.5zM1328,678h2.5v3h-2.5zM1343,689h2v6h-2zM1308,507h2v5h-2zM1313,523h3v4h-3zM1345,368h3v7h-3zM1327,352h2v7h-2zM1322,470h2v2h-2zM1327,355h2v7h-2zM1336,438h2v3h-2zM1325,448h2.5v2h-2.5zM1346,379h2v3h-2zM1315,608h2v4h-2zM1382,466h3v6h-3zM1389,697h3v5h-3zM1349,688h3v2h-3zM1394,743h2v7h-2zM1391,426h2v7h-2zM1364,716h2v4h-2zM1377,538h2v3h-2zM1358,472h2.5v3h-2.5zM1381,668h2v7h-2zM1354,518h2v3h-2zM1355,625h2.5v5h-2.5zM1364,630h3v5h-3zM1392,578h2v3h-2zM1366,647h2v4h-2zM1361,632h2.5v6h-2.5zM1393,394h2v4h-2zM1369,526h2v5h-2zM1393,409h2v6h-2zM1353,553h2v2h-2zM1351,351h2v3h-2zM1356,672h2v5h-2zM1351,445h2v6h-2zM1377,732h2.5v4h-2.5zM1394,651h2.5v4h-2.5zM1365,361h2.5v3h-2.5zM1385,402h2.5v3h-2.5zM1409,627h3v6h-3zM1404,356h2.5v5h-2.5zM1431,700h2v10h-2zM1438,398h2.5v9h-2.5zM1431,478h2.5v9h-2.5zM1435,482h2v3h-2zM1412,562h2.5v10h-2.5zM1434,486h2.5v7h-2.5zM1419,621h2v8h-2zM1425,578h2v7h-2zM1428,422h2v10h-2zM1413,726h2.5v4h-2.5zM1410,646h3v11h-3zM1422,456h3v5h-3zM1398,714h3v8h-3zM1427,419h2.5v5h-2.5zM1435,724h2v5h-2zM1408,666h2.5v4h-2.5zM1404,737h2v11h-2zM1398,527h3v10h-3zM1400,370h3v5h-3zM1440,734h2v4h-2zM1424,677h2v7h-2zM1407,594h2v7h-2zM1441,442h2v6h-2zM1417,416h3v4h-3zM1434,522h2v10h-2zM1429,572h2v3h-2zM1397,458h2v9h-2zM1439,383h3v8h-3zM1421,597h2v6h-2zM1435,661h2v7h-2zM1397,460h2v7h-2zM1424,369h2.5v4h-2.5zM1429,562h2v6h-2zM1411,469h3v11h-3zM1421,756h2v3h-2zM1414,693h2v6h-2zM1426,397h3v4h-3zM1407,741h3v9h-3zM1429,624h2v6h-2zM1440,397h2.5v3h-2.5zM1437,530h2.5v10h-2.5zM1415,625h3v6h-3zM1437,463h3v3h-3zM1419,483h2v9h-2zM1425,379h3v8h-3zM1400,373h2v9h-2zM1420,465h2v3h-2zM1429,549h2v11h-2zM1427,617h2v6h-2zM1417,412h3v10h-3zM1403,666h3v6h-3zM1453,446h2.5v11h-2.5zM1444,704h3v5h-3zM1460,457h2.5v10h-2.5zM1453,395h2v7h-2zM1457,588h2v8h-2zM1471,366h2v8h-2zM1443,570h2v10h-2zM1460,519h2v5h-2zM1478,542h2.5v9h-2.5zM1473,461h3v6h-3zM1443,523h2v6h-2zM1453,393h2v5h-2zM1477,626h2v10h-2zM1465,513h2v10h-2zM1460,728h2v5h-2zM1465,377h2.5v8h-2.5zM1468,574h3v10h-3zM1460,518h2v3h-2zM1467,651h3v5h-3zM1444,748h2.5v7h-2.5zM1447,752h3v3h-3zM1453,416h2v10h-2zM1470,540h3v8h-3zM1450,635h3v7h-3zM1459,610h3v9h-3zM1450,355h2v10h-2zM1484,430h2v6h-2zM1487,603h3v8h-3zM1486,494h2.5v11h-2.5zM1460,540h3v8h-3zM1450,625h2v10h-2zM1487,586h3v11h-3zM1484,594h2v11h-2zM1457,597h2v7h-2zM1488,579h3v6h-3zM1475,558h2v6h-2zM1448,581h2v4h-2zM1457,666h2v10h-2zM1446,524h2.5v11h-2.5zM1459,670h2v5h-2zM1479,514h2v5h-2zM1450,484h2.5v3h-2.5zM1482,693h2.5v10h-2.5zM1445,754h2v9h-2zM1446,631h2.5v5h-2.5zM1446,496h2v6h-2zM1459,710h2.5v5h-2.5zM1460,365h2v6h-2zM1488,662h2v3h-2zM1480,490h2v3h-2zM1457,566h3v11h-3zM1450,721h3v5h-3zM1486,367h2.5v9h-2.5zM1469,384h2v8h-2zM1451,534h3v5h-3zM1535,648h2v4h-2zM1501,635h2v9h-2zM1534,608h2v5h-2zM1493,707h2.5v5h-2.5zM1529,709h3v7h-3zM1512,377h2v7h-2zM1506,685h2v9h-2zM1513,633h2v7h-2zM1505,647h2v8h-2zM1516,398h3v9h-3zM1508,687h3v7h-3zM1517,648h2v6h-2zM1515,531h3v4h-3zM1496,382h2.5v10h-2.5zM1503,544h2.5v10h-2.5zM1525,715h3v5h-3zM1492,496h2v11h-2zM1502,711h3v9h-3zM1493,518h2v10h-2zM1491,650h2v5h-2zM1509,348h2v11h-2zM1514,729h2.5v10h-2.5zM1503,749h2v10h-2zM1528,708h2v7h-2zM1506,697h2v6h-2zM1529,727h3v11h-3zM1533,626h2v5h-2zM1531,588h3v6h-3zM1528,747h2v6h-2zM1512,357h2.5v7h-2.5zM1519,719h2v7h-2zM1516,499h2v5h-2zM1520,456h2.5v9h-2.5zM1516,660h2v6h-2zM1499,660h2.5v6h-2.5zM1524,668h2v5h-2zM1530,616h3v6h-3zM1491,412h2.5v9h-2.5zM1495,410h2v4h-2zM1529,630h3v8h-3zM1511,527h3v5h-3zM1519,518h2.5v10h-2.5zM1497,421h3v6h-3zM1510,533h2.5v9h-2.5zM1504,696h2v10h-2zM1520,706h2v5h-2zM1515,365h3v9h-3zM1529,464h2v5h-2zM1527,600h2v10h-2zM1533,382h2.5v4h-2.5zM1492,669h2v8h-2zM1502,674h3v4h-3zM1497,744h3v9h-3zM1502,563h3v5h-3zM1523,510h2v10h-2zM1494,492h2v4h-2zM1511,425h2.5v8h-2.5zM1510,749h3v8h-3zM1505,461h2v3h-2zM1528,445h2v5h-2zM1524,753h3v11h-3zM1494,739h3v4h-3zM1528,356h3v3h-3zM1507,361h3v6h-3zM1504,692h2v9h-2zM1508,350h2.5v6h-2.5zM1502,349h2.5v6h-2.5zM1492,376h2v8h-2zM1526,456h3v5h-3zM1495,350h2v4h-2zM1531,424h2v9h-2zM1525,545h2v5h-2zM1497,528h2.5v11h-2.5zM1495,501h3v10h-3zM1515,376h2v8h-2zM1516,367h2v10h-2zM1522,377h2v8h-2zM1514,642h3v7h-3zM1534,388h2v11h-2zM1499,673h2.5v11h-2.5zM1505,497h2.5v4h-2.5zM1520,721h3v10h-3zM1499,422h3v6h-3zM1498,513h2v4h-2zM1535,590h2v5h-2zM1519,518h2v5h-2zM1508,713h3v8h-3zM1525,707h2v10h-2zM1510,757h2v9h-2zM1507,720h2v10h-2zM1520,380h2v9h-2zM1564,692h2v7h-2zM1572,412h3v5h-3zM1570,372h2v4h-2zM1564,660h2v6h-2zM1548,423h3v5h-3zM1541,504h2v3h-2zM1580,593h2v3h-2zM1544,541h2v6h-2zM1575,703h2.5v5h-2.5zM1562,479h3v5h-3zM1556,613h2.5v7h-2.5zM1576,578h2.5v5h-2.5zM1545,581h2v6h-2zM1572,646h2v7h-2zM1550,613h2v4h-2zM1573,573h2v6h-2zM1580,658h2v4h-2zM1569,657h2.5v6h-2.5zM1543,677h2v5h-2zM1609,391h2v5h-2zM1618,423h3v4h-3zM1593,417h2.5v6h-2.5zM1618,370h3v4h-3zM1585,359h2.5v3h-2.5zM1606,494h2v4h-2zM1592,665h2v4h-2zM1609,366h2.5v6h-2.5zM1599,670h2.5v5h-2.5zM1621,655h2v6h-2zM1584,413h2v7h-2zM1639,373h3v4h-3zM1644,595h2.5v4h-2.5zM1642,748h2v7h-2zM1667,414h2.5v2h-2.5zM1646,490h2v4h-2zM1673,442h3v3h-3zM1675,389h2v7h-2zM1667,583h2v4h-2zM1631,527h2.5v3h-2.5zM1655,662h2.5v3h-2.5zM1630,466h2.5v4h-2.5zM1633,388h3v5h-3zM1658,632h2v4h-2zM1670,638h2v5h-2zM1651,489h2v4h-2zM1633,736h2v3h-2zM1656,536h2v7h-2zM1641,576h3v5h-3zM1674,665h2v5h-2zM1634,564h2.5v7h-2.5zM1631,575h2.5v3h-2.5zM1649,550h2v3h-2zM1647,405h3v6h-3zM1642,632h2v6h-2zM1660,517h2v7h-2zM1667,686h2v6h-2zM1670,731h2v4h-2zM1664,707h2v6h-2zM1668,352h3v2h-3zM1709,653h3v2h-3zM1698,548h2v6h-2zM1698,629h2.5v4h-2.5zM1700,525h2v5h-2zM1692,376h3v6h-3zM1719,692h2v3h-2zM1686,534h2.5v5h-2.5zM1712,454h3v3h-3zM1708,544h2.5v4h-2.5zM1704,543h2v6h-2zM1718,480h2.5v3h-2.5zM1686,383h2v6h-2zM1682,609h2.5v5h-2.5zM1708,466h2.5v6h-2.5zM1715,377h2v6h-2zM1713,625h2.5v3h-2.5zM1706,446h2v4h-2zM1682,504h3v2h-3zM1718,351h2v3h-2zM1685,683h2v5h-2zM1690,534h3v7h-3zM1717,751h2v5h-2zM1698,383h2v5h-2zM1711,565h3v5h-3zM1713,393h3v5h-3zM1702,519h2.5v7h-2.5zM1689,414h2v5h-2zM1677,700h3v6h-3zM1694,751h3v6h-3zM1704,632h2.5v5h-2.5zM1700,366h2v4h-2zM1710,420h2v4h-2zM1695,500h2v6h-2zM1717,543h3v7h-3zM1727,348h2v5h-2zM1761,538h2v9h-2zM1765,406h2v4h-2zM1752,688h2v3h-2zM1733,413h2v7h-2zM1739,451h2v4h-2zM1764,525h2.5v9h-2.5zM1724,563h3v6h-3zM1762,484h2v8h-2zM1740,521h2v7h-2zM1758,582h2.5v9h-2.5zM1738,642h2.5v8h-2.5zM1735,478h3v5h-3zM1755,654h2v10h-2zM1728,378h2.5v8h-2.5zM1750,746h3v11h-3zM1740,675h2.5v3h-2.5zM1724,723h2.5v3h-2.5zM1733,601h2.5v9h-2.5zM1762,428h2v9h-2zM1727,406h2.5v5h-2.5zM1751,674h2v6h-2zM1740,598h2v5h-2zM1734,699h2v6h-2zM1764,658h2v4h-2zM1726,695h2v11h-2zM1753,743h2v5h-2zM1742,544h2v8h-2zM1759,648h2v10h-2zM1743,432h3v7h-3zM1749,696h2v6h-2zM1724,753h2v5h-2zM1749,598h3v4h-3zM1732,658h2.5v10h-2.5zM1743,432h2v7h-2zM1726,705h2v5h-2zM1732,424h2v9h-2zM1747,588h3v4h-3zM1728,362h2v9h-2zM1742,387h3v5h-3zM1743,462h2v8h-2zM1750,713h2.5v5h-2.5zM1753,589h3v11h-3zM1749,419h2v8h-2zM1744,433h2v6h-2zM1744,387h2v9h-2zM1757,509h2v4h-2zM1729,607h2v6h-2zM1727,454h2.5v8h-2.5zM1734,586h2v6h-2zM1744,394h3v9h-3zM1725,740h3v9h-3zM1725,716h2v6h-2zM1747,412h2v9h-2zM1763,552h2v6h-2zM1743,363h2.5v8h-2.5zM1762,412h3v4h-3zM1749,713h2v9h-2zM1723,400h2v6h-2zM1738,353h2v5h-2zM1745,674h2.5v11h-2.5zM1760,597h2v10h-2zM1750,360h2v5h-2zM1730,697h2.5v5h-2.5zM1729,540h2v5h-2zM1739,614h2.5v10h-2.5zM1750,455h2.5v6h-2.5zM1735,724h2.5v8h-2.5zM1754,701h2.5v8h-2.5zM1747,554h2.5v4h-2.5zM1753,554h3v8h-3zM1740,379h3v4h-3zM1768,721h2v7h-2zM1753,738h2.5v9h-2.5zM1752,619h2v3h-2zM1750,650h2.5v7h-2.5zM1768,648h2v8h-2zM1727,749h2.5v5h-2.5zM1736,696h2.5v9h-2.5zM1728,473h3v6h-3zM1751,607h2v4h-2zM1746,415h2.5v9h-2.5zM1752,637h2.5v8h-2.5zM1753,533h3v4h-3zM1727,381h2v8h-2zM1726,495h2.5v5h-2.5zM1753,572h2v8h-2zM1765,483h2.5v6h-2.5zM1752,554h3v5h-3zM1750,641h2v3h-2zM1762,348h2v10h-2zM1749,640h2v9h-2zM1726,525h3v8h-3zM1764,683h2.5v4h-2.5zM1745,493h2v9h-2zM1744,616h3v4h-3zM1768,456h2v10h-2zM1753,356h2v9h-2zM1781,745h2v10h-2zM1793,593h2v8h-2zM1798,682h2v9h-2zM1802,380h3v8h-3zM1776,408h2v7h-2zM1810,548h3v7h-3zM1815,425h3v10h-3zM1807,568h2.5v11h-2.5zM1797,479h3v8h-3zM1780,543h2v8h-2zM1779,558h3v11h-3zM1798,664h2v4h-2zM1807,662h2.5v11h-2.5zM1798,748h2v5h-2zM1810,482h2v5h-2zM1785,375h2.5v8h-2.5zM1799,460h2.5v6h-2.5zM1775,436h2v9h-2zM1812,372h3v5h-3zM1803,469h2v9h-2zM1786,692h2v6h-2zM1811,447h2.5v7h-2.5zM1775,716h2v7h-2zM1772,503h3v5h-3zM1790,361h2v10h-2zM1772,456h3v10h-3zM1799,666h2v8h-2zM1793,532h2v7h-2zM1814,528h3v7h-3zM1792,558h2v4h-2zM1788,377h2v9h-2zM1778,543h3v4h-3zM1778,698h3v9h-3zM1787,689h2.5v11h-2.5zM1780,470h2.5v7h-2.5zM1770,409h2v9h-2zM1771,460h2.5v8h-2.5zM1777,388h2.5v3h-2.5zM1772,742h2.5v6h-2.5zM1778,519h3v7h-3zM1775,621h2.5v9h-2.5zM1772,419h2v4h-2zM1776,405h2.5v3h-2.5zM1772,716h3v5h-3zM1799,454h3v7h-3zM1780,400h2v6h-2zM1777,549h2v5h-2zM1772,418h2v9h-2zM1776,621h3v5h-3zM1800,703h2.5v9h-2.5zM1795,582h2.5v5h-2.5zM1773,440h2v11h-2zM1775,633h2v9h-2zM1794,442h3v6h-3zM1810,629h2v4h-2zM1784,552h3v3h-3zM1772,422h2v7h-2zM1801,406h3v6h-3zM1803,746h2v8h-2zM1809,665h3v6h-3zM1800,650h2v5h-2zM1780,656h2.5v5h-2.5zM1778,629h2.5v10h-2.5zM1807,744h2v4h-2zM1776,753h2.5v4h-2.5zM1777,405h2.5v6h-2.5zM1790,722h2.5v7h-2.5zM1787,728h2v3h-2zM1815,673h2v7h-2zM1812,527h2v7h-2zM1795,712h2v6h-2zM1792,556h2.5v4h-2.5zM1779,683h2v5h-2zM1784,671h3v3h-3zM1782,562h2v8h-2zM1814,618h2v9h-2zM1787,441h3v7h-3zM1810,407h2v8h-2zM1782,520h2.5v7h-2.5zM1782,378h2.5v7h-2.5zM1783,418h3v10h-3zM1795,586h2v4h-2zM1786,489h2.5v5h-2.5zM1780,704h2v7h-2zM1775,541h3v5h-3zM1782,726h2v5h-2zM1781,700h2v5h-2zM1788,486h2v5h-2zM1779,622h2.5v6h-2.5zM1809,477h2v7h-2zM1803,391h2v4h-2zM1790,720h2.5v8h-2.5zM1793,391h2v7h-2zM1775,654h3v8h-3zM1778,577h2v6h-2zM1773,600h2v9h-2zM1771,654h2.5v6h-2.5zM1787,656h2.5v9h-2.5zM1804,538h2.5v6h-2.5zM1793,683h2v7h-2zM1805,428h2v7h-2zM1803,516h2v5h-2zM1774,577h2v8h-2zM1810,634h2v9h-2zM1783,523h2v6h-2zM1783,727h2v9h-2zM1806,542h2.5v7h-2.5zM1791,559h2.5v6h-2.5zM1807,380h2.5v4h-2.5zM1785,486h2v10h-2zM1782,617h2.5v5h-2.5zM1788,505h2v6h-2zM1780,707h3v11h-3zM1802,561h2.5v11h-2.5zM1795,504h2v8h-2zM1803,479h2v8h-2zM1793,498h2v7h-2zM1783,392h2.5v3h-2.5zM1809,585h2v4h-2zM1790,383h2v8h-2zM1786,637h2v7h-2zM1806,749h3v4h-3zM1785,750h2.5v5h-2.5zM1807,529h2.5v9h-2.5zM1772,442h3v9h-3zM1786,735h2v11h-2zM1792,554h2.5v8h-2.5zM1801,638h2v7h-2zM1780,652h3v10h-3zM1792,677h3v7h-3zM1779,681h2.5v3h-2.5zM1799,707h3v6h-3zM1797,633h2v4h-2zM1792,660h2.5v11h-2.5zM1786,752h2v8h-2zM1824,374h2v5h-2zM1867,532h2v9h-2zM1818,583h3v4h-3zM1861,551h2v4h-2zM1868,680h2v10h-2zM1862,729h2v7h-2zM1818,515h2v6h-2zM1850,411h2v6h-2zM1832,516h2.5v6h-2.5zM1818,472h2.5v10h-2.5zM1846,374h2v6h-2zM1855,506h2v8h-2zM1827,727h3v9h-3zM1841,598h2v9h-2zM1850,606h2.5v6h-2.5zM1830,476h2v9h-2zM1829,662h2.5v4h-2.5zM1839,503h2v5h-2zM1865,738h2.5v3h-2.5zM1853,701h2v8h-2zM1834,591h2v10h-2zM1868,412h2v6h-2zM1861,391h2v8h-2zM1829,662h3v7h-3zM1854,656h2v6h-2zM1864,543h2v8h-2zM1862,583h2v8h-2zM1838,506h3v9h-3zM1857,650h2v8h-2zM1854,603h3v11h-3zM1823,521h2v9h-2zM1862,398h2.5v7h-2.5zM1834,503h3v4h-3zM1858,575h2v4h-2zM1863,670h3v5h-3zM1826,744h2.5v4h-2.5zM1828,511h2v9h-2zM1850,594h3v8h-3zM1817,655h2.5v4h-2.5zM1864,694h3v6h-3zM1838,681h2.5v5h-2.5zM1864,374h2v7h-2zM1818,517h2v10h-2zM1848,424h2v7h-2zM1851,368h2.5v6h-2.5zM1832,687h2.5v9h-2.5zM1840,443h2v7h-2zM1827,408h2v5h-2zM1825,428h2v3h-2zM1862,469h2v8h-2zM1832,551h3v6h-3zM1853,731h2v5h-2zM1826,420h2v7h-2zM1825,423h3v6h-3zM1834,512h3v3h-3zM1868,750h2.5v11h-2.5zM1821,661h2.5v7h-2.5zM1833,473h2v8h-2zM1826,407h2v8h-2zM1867,619h2v5h-2zM1843,359h2v4h-2zM1845,443h2v8h-2zM1858,543h3v10h-3zM1822,532h2.5v8h-2.5zM1847,525h2v4h-2zM1865,618h2.5v4h-2.5zM1822,751h3v4h-3zM1829,561h2v6h-2zM1864,380h2v8h-2zM1853,578h3v5h-3zM1868,660h3v3h-3zM1852,504h2.5v5h-2.5zM1868,656h3v3h-3zM1841,609h2v4h-2zM1830,653h3v3h-3zM1820,587h3v9h-3zM1835,713h2v5h-2zM1836,380h2v4h-2zM1830,377h2.5v6h-2.5zM1824,530h2.5v3h-2.5zM1817,493h3v9h-3zM1851,546h2.5v4h-2.5zM1868,394h3v9h-3zM1824,355h3v9h-3zM1827,485h2v7h-2zM1820,682h2.5v8h-2.5zM1825,564h2v4h-2zM1822,532h2v5h-2zM1869,351h2v9h-2z"/><path fill="#FFE42A" d="M1291,395h2v4h-2zM1284,420h2.5v4h-2.5zM1287,653h2.5v3h-2.5zM1293,723h3v6h-3zM1275,576h2v8h-2zM1274,699h2v8h-2zM1275,646h2v8h-2zM1294,698h2v3h-2zM1277,465h2v4h-2zM1279,668h2.5v11h-2.5zM1299,631h3v10h-3zM1274,386h3v9h-3zM1273,476h2v4h-2zM1294,358h2.5v4h-2.5zM1297,549h3v11h-3zM1286,547h2v11h-2zM1297,697h2v4h-2zM1295,592h2.5v4h-2.5zM1300,565h2v5h-2zM1270,501h2v7h-2zM1287,466h2v10h-2zM1293,722h2.5v8h-2.5zM1276,497h2v6h-2zM1295,748h2v6h-2zM1277,714h2.5v7h-2.5zM1281,754h2v10h-2zM1286,502h2.5v10h-2.5zM1290,363h2v3h-2zM1268,395h2v11h-2zM1291,359h2v3h-2zM1272,500h2.5v10h-2.5zM1266,412h2v11h-2zM1268,556h3v5h-3zM1284,531h3v9h-3zM1268,744h2v6h-2zM1284,399h2v11h-2zM1299,703h3v11h-3zM1290,697h2v5h-2zM1272,669h3v7h-3zM1285,752h2v10h-2zM1272,662h2.5v9h-2.5zM1334,509h3v6h-3zM1306,486h3v5h-3zM1315,673h2v3h-2zM1308,595h2.5v3h-2.5zM1319,571h3v2h-3zM1310,584h3v3h-3zM1320,728h3v3h-3zM1325,681h2.5v7h-2.5zM1304,632h3v4h-3zM1343,699h2v3h-2zM1326,503h2v5h-2zM1344,557h2.5v7h-2.5zM1308,418h2v3h-2zM1336,518h2.5v5h-2.5zM1329,456h3v2h-3zM1342,590h2v4h-2zM1328,512h3v2h-3zM1338,526h2v2h-2zM1323,526h2.5v5h-2.5zM1309,623h3v4h-3zM1369,723h3v5h-3zM1390,686h2v7h-2zM1362,660h2.5v4h-2.5zM1367,557h2v6h-2zM1394,369h2v7h-2zM1383,436h3v3h-3zM1389,624h3v3h-3zM1390,742h3v6h-3zM1376,430h3v3h-3zM1365,364h2.5v5h-2.5zM1386,757h3v5h-3zM1358,378h2v5h-2zM1351,544h2.5v6h-2.5zM1374,404h2.5v7h-2.5zM1354,413h2v4h-2zM1356,628h2.5v5h-2.5zM1370,703h2v2h-2zM1351,537h3v6h-3zM1373,595h3v4h-3zM1378,424h2v4h-2zM1376,410h2v2h-2zM1376,390h2v4h-2zM1440,618h3v5h-3zM1420,419h2.5v10h-2.5zM1422,482h2v6h-2zM1397,629h2v4h-2zM1410,362h2.5v6h-2.5zM1401,442h2.5v6h-2.5zM1438,348h2.5v9h-2.5zM1436,748h3v6h-3zM1414,755h2v5h-2zM1401,477h2v7h-2zM1418,533h2.5v7h-2.5zM1398,395h3v4h-3zM1441,595h2.5v6h-2.5zM1431,433h3v6h-3zM1432,479h2.5v6h-2.5zM1412,653h3v7h-3zM1430,553h3v8h-3zM1424,638h2.5v7h-2.5zM1438,491h2.5v9h-2.5zM1419,642h2.5v11h-2.5zM1441,607h2v7h-2zM1440,370h2v6h-2zM1416,721h2v10h-2zM1432,573h3v5h-3zM1439,627h2v5h-2zM1413,568h3v6h-3zM1402,578h2v4h-2zM1403,685h2v5h-2zM1412,618h2v9h-2zM1435,653h2v7h-2zM1412,724h3v3h-3zM1424,379h2v4h-2zM1422,430h2.5v4h-2.5zM1428,400h2.5v5h-2.5zM1398,429h2.5v10h-2.5zM1401,592h2v4h-2zM1414,564h2.5v5h-2.5zM1432,415h2v4h-2zM1425,413h2.5v8h-2.5zM1422,595h2v8h-2zM1422,350h2.5v8h-2.5zM1410,601h2v7h-2zM1424,605h3v10h-3zM1401,544h2v7h-2zM1397,620h3v9h-3zM1413,383h2v6h-2zM1424,356h2v7h-2zM1406,638h2v6h-2zM1430,503h2.5v9h-2.5zM1419,422h2v9h-2zM1432,736h2v11h-2zM1462,502h2v5h-2zM1467,713h2v8h-2zM1449,566h2v7h-2zM1457,452h2v5h-2zM1455,730h2v9h-2zM1451,690h2v9h-2zM1444,417h2v4h-2zM1447,577h2v7h-2zM1464,755h2v7h-2zM1483,409h3v4h-3zM1453,700h2.5v3h-2.5zM1453,565h3v8h-3zM1452,613h2v6h-2zM1479,544h2v5h-2zM1472,510h3v7h-3zM1443,519h2v7h-2zM1449,462h2v10h-2zM1452,356h3v5h-3zM1479,561h3v9h-3zM1478,493h2v10h-2zM1459,647h2v10h-2zM1477,624h3v4h-3zM1472,412h2v9h-2zM1456,470h3v3h-3zM1485,465h2.5v7h-2.5zM1470,620h2v10h-2zM1453,637h2.5v6h-2.5zM1470,474h2.5v8h-2.5zM1467,386h2.5v8h-2.5zM1455,725h2v5h-2zM1443,579h2v7h-2zM1488,355h3v9h-3zM1457,534h3v7h-3zM1458,625h2.5v8h-2.5zM1488,696h3v9h-3zM1460,616h2v10h-2zM1443,664h2v8h-2zM1456,562h3v6h-3zM1474,391h2v8h-2zM1468,703h2v7h-2zM1443,719h2.5v3h-2.5zM1446,544h2v8h-2zM1464,378h2.5v4h-2.5zM1471,748h2.5v6h-2.5zM1456,397h2.5v10h-2.5zM1529,457h2v9h-2zM1526,400h2.5v7h-2.5zM1513,725h3v8h-3zM1514,619h2v8h-2zM1492,688h2v6h-2zM1510,618h2v8h-2zM1530,559h2v6h-2zM1496,357h2v5h-2zM1514,504h2.5v10h-2.5zM1524,594h2v7h-2zM1492,586h2v5h-2zM1511,653h3v3h-3zM1512,756h2v4h-2zM1521,632h2v11h-2zM1511,529h3v11h-3zM1501,540h3v4h-3zM1524,471h2.5v9h-2.5zM1496,531h2v4h-2zM1535,676h2v5h-2zM1499,450h2v5h-2zM1524,396h2.5v5h-2.5zM1505,589h2.5v8h-2.5zM1532,587h2v8h-2zM1524,400h2v5h-2zM1499,390h3v4h-3zM1499,650h2.5v6h-2.5zM1505,521h3v5h-3zM1492,391h2v7h-2zM1495,571h2v10h-2zM1494,575h2v7h-2zM1527,488h2v8h-2zM1532,405h2.5v5h-2.5zM1490,686h3v11h-3zM1497,447h2.5v7h-2.5zM1509,477h3v7h-3zM1493,507h2.5v5h-2.5zM1491,740h2v5h-2zM1512,424h2.5v11h-2.5zM1489,743h3v8h-3zM1490,629h2v8h-2zM1504,503h2v5h-2zM1532,751h2v9h-2zM1522,398h2v10h-2zM1502,413h2v7h-2zM1518,756h3v6h-3zM1521,538h2v11h-2zM1500,505h2v10h-2zM1509,517h2.5v11h-2.5zM1532,633h2.5v11h-2.5zM1495,550h3v8h-3zM1508,492h2.5v4h-2.5zM1516,446h3v10h-3zM1492,707h2v7h-2zM1495,522h2v11h-2zM1533,740h3v9h-3zM1534,459h2v11h-2zM1518,652h3v8h-3zM1506,622h3v6h-3zM1519,396h2v6h-2zM1512,724h3v8h-3zM1535,627h3v6h-3zM1524,440h2v6h-2zM1503,460h2v10h-2zM1492,593h2v3h-2zM1515,562h2v9h-2zM1492,603h2.5v7h-2.5zM1495,722h3v7h-3zM1517,582h2v10h-2zM1517,376h2.5v6h-2.5zM1508,709h2v6h-2zM1514,483h2v10h-2zM1495,462h2v7h-2zM1504,621h2v7h-2zM1526,497h2v5h-2zM1533,386h2.5v9h-2.5zM1526,713h2v3h-2zM1527,502h3v9h-3zM1490,617h2v8h-2zM1534,621h2v6h-2zM1500,435h2v5h-2zM1498,536h2v9h-2zM1493,613h2v8h-2zM1519,653h2v4h-2zM1518,563h2.5v3h-2.5zM1528,591h2v11h-2zM1512,640h2v6h-2zM1516,440h2v9h-2zM1499,544h2v7h-2zM1533,491h2v8h-2zM1490,742h2v7h-2zM1506,453h2v11h-2zM1509,620h2v5h-2zM1499,640h2.5v9h-2.5zM1497,495h2v4h-2zM1508,684h2.5v6h-2.5zM1518,680h2.5v8h-2.5zM1535,610h2v8h-2zM1510,597h2v8h-2zM1503,756h2v10h-2zM1497,568h2v8h-2zM1509,467h2v9h-2zM1530,552h2v5h-2zM1494,516h2.5v7h-2.5zM1495,409h2v7h-2zM1528,547h3v7h-3zM1490,485h3v4h-3zM1492,594h2.5v6h-2.5zM1526,384h2.5v4h-2.5zM1508,378h2.5v7h-2.5zM1491,434h3v11h-3zM1502,629h2v10h-2zM1509,588h2.5v11h-2.5zM1498,459h3v8h-3zM1492,459h2v8h-2zM1526,515h3v4h-3zM1505,667h2.5v7h-2.5zM1501,411h2.5v4h-2.5zM1493,415h3v4h-3zM1506,569h2v9h-2zM1510,686h2.5v5h-2.5zM1499,546h2v5h-2zM1492,560h2.5v4h-2.5zM1519,574h2.5v8h-2.5zM1521,370h2v3h-2zM1528,635h3v11h-3zM1527,452h2v6h-2zM1521,747h2.5v10h-2.5zM1516,637h3v7h-3zM1527,673h3v8h-3zM1522,691h2.5v9h-2.5zM1500,509h3v6h-3zM1574,538h2v4h-2zM1545,606h2v4h-2zM1571,537h2.5v4h-2.5zM1576,642h2.5v6h-2.5zM1550,499h2v5h-2zM1561,347h2v6h-2zM1558,696h2v5h-2zM1543,672h2v7h-2zM1570,707h2v5h-2zM1564,744h3v5h-3zM1581,590h2.5v3h-2.5zM1561,517h2v2h-2zM1572,590h3v4h-3zM1550,403h2v2h-2zM1595,590h2v3h-2zM1603,595h2v6h-2zM1614,684h2v4h-2zM1587,504h2v4h-2zM1610,403h2.5v6h-2.5zM1622,579h2v7h-2zM1587,446h2.5v4h-2.5zM1623,435h2v4h-2zM1585,437h2v5h-2zM1586,545h3v5h-3zM1644,675h2v7h-2zM1640,443h2v2h-2zM1656,532h2v3h-2zM1636,586h2v5h-2zM1669,451h3v3h-3zM1641,419h2v3h-2zM1630,527h2.5v5h-2.5zM1674,612h3v6h-3zM1641,549h2v3h-2zM1654,659h2v6h-2zM1634,704h2v2h-2zM1640,726h3v5h-3zM1631,417h2.5v3h-2.5zM1651,619h2.5v6h-2.5zM1669,573h2.5v2h-2.5zM1648,654h2v4h-2zM1657,411h2v7h-2zM1647,513h2v4h-2zM1651,534h3v4h-3zM1637,358h3v3h-3zM1651,652h2v6h-2zM1645,676h3v7h-3zM1656,679h2.5v5h-2.5zM1686,674h2v6h-2zM1693,629h2v4h-2zM1679,503h2v5h-2zM1688,638h2v5h-2zM1714,732h2v4h-2zM1687,680h2v4h-2zM1711,377h3v3h-3zM1705,549h2v3h-2zM1716,650h3v3h-3zM1718,380h2v4h-2zM1689,588h2.5v5h-2.5zM1707,658h3v7h-3zM1678,709h3v2h-3zM1696,573h2v5h-2zM1706,410h2.5v3h-2.5zM1704,627h2.5v6h-2.5zM1713,364h3v2h-3zM1695,442h2v3h-2zM1697,359h2v5h-2zM1687,730h2.5v2h-2.5zM1708,612h3v5h-3zM1677,474h2v3h-2zM1721,617h2v4h-2zM1695,539h2v5h-2zM1719,538h2v6h-2zM1703,387h2.5v5h-2.5zM1687,436h2v3h-2zM1705,671h3v2h-3zM1709,743h2.5v3h-2.5zM1716,540h2.5v3h-2.5zM1768,504h2v11h-2zM1748,414h2v5h-2zM1733,648h2.5v5h-2.5zM1746,357h2v9h-2zM1762,483h3v8h-3zM1725,412h3v10h-3zM1729,586h3v6h-3zM1752,379h3v7h-3zM1735,623h3v3h-3zM1740,419h3v8h-3zM1756,349h2v8h-2zM1723,490h3v9h-3zM1727,697h2.5v9h-2.5zM1756,525h2v5h-2zM1746,570h2v6h-2zM1745,572h2v6h-2zM1766,576h2v4h-2zM1761,603h2.5v10h-2.5zM1741,709h3v10h-3zM1739,699h2.5v11h-2.5zM1765,439h2v9h-2zM1767,384h3v8h-3zM1740,655h2v6h-2zM1754,600h3v6h-3zM1738,584h2v3h-2zM1745,748h2.5v7h-2.5zM1734,729h2v6h-2zM1748,684h2.5v3h-2.5zM1738,638h2v10h-2zM1739,398h2v3h-2zM1737,580h2v10h-2zM1731,613h2.5v5h-2.5zM1757,680h3v3h-3zM1751,347h2v3h-2zM1753,558h2v5h-2zM1740,411h2.5v6h-2.5zM1729,671h2v10h-2zM1750,468h3v7h-3zM1736,444h2v8h-2zM1754,619h2v5h-2zM1747,688h2v9h-2zM1763,752h2v8h-2zM1762,626h2.5v5h-2.5zM1762,651h2v4h-2zM1730,680h3v8h-3zM1746,640h2.5v6h-2.5zM1725,728h3v7h-3zM1740,530h2.5v9h-2.5zM1757,436h2v4h-2zM1727,532h2v10h-2zM1763,469h2v5h-2zM1750,686h2.5v9h-2.5zM1743,447h2v9h-2zM1741,678h2v9h-2zM1735,544h2.5v9h-2.5zM1738,454h2.5v7h-2.5zM1752,588h3v5h-3zM1750,389h3v10h-3zM1753,589h2v7h-2zM1747,729h2v8h-2zM1724,746h2v8h-2zM1729,614h2.5v4h-2.5zM1726,729h3v8h-3zM1748,636h2v4h-2zM1740,408h2v9h-2zM1757,428h3v5h-3zM1732,681h2.5v5h-2.5zM1724,642h3v7h-3zM1766,360h3v7h-3zM1736,353h2v6h-2zM1756,441h3v5h-3zM1757,690h2v8h-2zM1760,721h2v4h-2zM1730,662h2.5v10h-2.5zM1755,615h3v5h-3zM1761,588h2.5v5h-2.5zM1756,547h2.5v7h-2.5zM1751,687h3v5h-3zM1767,348h2v11h-2zM1731,605h2v10h-2zM1750,551h2.5v5h-2.5zM1743,543h3v4h-3zM1767,650h3v8h-3zM1751,495h2v4h-2zM1736,730h2.5v11h-2.5zM1766,647h2v5h-2zM1757,529h2.5v10h-2.5zM1735,396h2v3h-2zM1738,698h2.5v10h-2.5zM1733,687h3v8h-3zM1761,456h2v10h-2zM1731,629h3v4h-3zM1730,516h2.5v8h-2.5zM1765,563h3v8h-3zM1750,583h2v7h-2zM1749,749h2v6h-2zM1725,378h2.5v6h-2.5zM1757,688h2v4h-2zM1738,611h2.5v6h-2.5zM1726,452h2v7h-2zM1740,627h2v5h-2zM1727,352h2v9h-2zM1760,747h2v6h-2zM1763,393h2.5v10h-2.5zM1750,431h3v7h-3zM1726,655h3v4h-3zM1732,452h2.5v8h-2.5zM1763,551h2.5v10h-2.5zM1763,396h2.5v7h-2.5zM1728,497h3v7h-3zM1745,722h2.5v3h-2.5zM1768,482h2.5v5h-2.5zM1761,607h2v8h-2zM1738,496h2v7h-2zM1741,436h3v9h-3zM1759,374h2v8h-2zM1753,425h3v5h-3zM1753,664h2.5v6h-2.5zM1729,733h2v10h-2zM1745,538h2v8h-2zM1729,384h2.5v8h-2.5zM1734,638h3v6h-3zM1768,728h2.5v9h-2.5zM1749,639h2.5v6h-2.5zM1762,689h2.5v4h-2.5zM1766,377h2v7h-2zM1725,557h2v6h-2zM1738,718h2.5v5h-2.5zM1780,416h3v8h-3zM1803,456h3v8h-3zM1792,459h2v4h-2zM1792,432h2v7h-2zM1793,565h3v10h-3zM1794,430h2v9h-2zM1807,377h2v7h-2zM1795,519h2v6h-2zM1785,590h2v9h-2zM1811,669h2v6h-2zM1809,457h3v7h-3zM1804,476h2v5h-2zM1808,431h3v3h-3zM1779,549h2v9h-2zM1782,378h2v11h-2zM1805,424h2v7h-2zM1774,442h3v7h-3zM1805,458h3v8h-3zM1788,548h2v7h-2zM1781,709h2v8h-2zM1797,599h2v9h-2zM1790,451h2v5h-2zM1803,756h2v7h-2zM1790,374h2v10h-2zM1802,443h2v6h-2zM1774,534h3v9h-3zM1775,370h2v10h-2zM1809,503h2v4h-2zM1789,422h3v3h-3zM1804,632h3v7h-3zM1806,408h2v6h-2zM1791,614h2.5v8h-2.5zM1814,458h2.5v7h-2.5zM1777,469h2v4h-2zM1793,448h2v10h-2zM1771,746h2v9h-2zM1798,680h3v9h-3zM1811,594h2v6h-2zM1783,563h2.5v7h-2.5zM1775,694h2v5h-2zM1798,377h2.5v3h-2.5zM1782,664h2v7h-2zM1804,353h3v9h-3zM1806,723h2v4h-2zM1798,496h3v7h-3zM1787,367h2v6h-2zM1807,473h2v7h-2zM1787,541h2v11h-2zM1802,698h2v8h-2zM1776,591h2.5v3h-2.5zM1793,600h3v4h-3zM1815,471h2.5v7h-2.5zM1788,459h3v9h-3zM1770,534h2v8h-2zM1797,528h2v5h-2zM1780,700h2.5v7h-2.5zM1795,740h2v4h-2zM1779,364h3v10h-3zM1813,540h2v10h-2zM1781,403h3v6h-3zM1789,373h2.5v9h-2.5zM1800,664h3v5h-3zM1785,439h2.5v7h-2.5zM1807,547h3v10h-3zM1798,622h2v9h-2zM1781,556h2.5v3h-2.5zM1786,649h3v8h-3zM1815,508h2.5v4h-2.5zM1811,375h2.5v5h-2.5zM1793,736h2.5v6h-2.5zM1793,701h2v10h-2zM1781,408h2v5h-2zM1782,458h2.5v7h-2.5zM1810,662h2v3h-2zM1772,578h2v7h-2zM1780,450h2v9h-2zM1814,664h2.5v10h-2.5zM1773,549h2.5v8h-2.5zM1812,533h2v6h-2zM1773,557h2v9h-2zM1795,395h2v4h-2zM1778,579h2v5h-2zM1785,567h2.5v9h-2.5zM1791,612h2.5v9h-2.5zM1801,602h3v10h-3zM1788,396h2v10h-2zM1775,751h3v4h-3zM1774,591h2v11h-2zM1783,661h3v7h-3zM1812,568h2v7h-2zM1809,698h3v4h-3zM1783,503h2v6h-2zM1799,376h2v5h-2zM1812,444h2v10h-2zM1771,379h3v9h-3zM1796,637h2v5h-2zM1797,578h3v7h-3zM1776,693h2v4h-2zM1776,425h2v9h-2zM1779,391h3v4h-3zM1777,382h2.5v6h-2.5zM1796,634h2v9h-2zM1794,613h2.5v8h-2.5zM1814,734h2v7h-2zM1791,402h2.5v3h-2.5zM1795,664h3v10h-3zM1807,473h2v6h-2zM1803,635h2v9h-2zM1809,498h3v8h-3zM1790,754h3v6h-3zM1778,514h2.5v10h-2.5zM1779,449h2v11h-2zM1807,555h2v8h-2zM1808,399h2v9h-2zM1772,491h2v5h-2zM1813,662h2v5h-2zM1788,417h2.5v5h-2.5zM1797,553h2v7h-2zM1795,612h2v10h-2zM1787,613h2v9h-2zM1809,700h2.5v4h-2.5zM1807,600h3v11h-3zM1815,598h2v10h-2zM1791,425h3v3h-3zM1771,415h2v8h-2zM1785,599h3v11h-3zM1777,525h3v9h-3zM1778,606h2v5h-2zM1805,504h2.5v5h-2.5zM1782,694h2.5v10h-2.5zM1789,632h2v6h-2zM1771,632h2.5v9h-2.5zM1787,617h2.5v10h-2.5zM1775,731h3v7h-3zM1794,623h2v8h-2zM1775,616h2.5v10h-2.5zM1815,669h2.5v10h-2.5zM1776,451h2.5v8h-2.5zM1815,432h2v9h-2zM1781,513h2.5v7h-2.5zM1795,511h2v6h-2zM1795,403h3v6h-3zM1776,531h2v8h-2zM1806,479h2v5h-2zM1773,726h2v6h-2zM1814,560h2v7h-2zM1797,549h2v10h-2zM1770,513h2v9h-2zM1791,538h3v5h-3zM1790,497h2v8h-2zM1776,504h2.5v4h-2.5zM1793,639h2v6h-2zM1796,540h2v4h-2zM1785,471h2v10h-2zM1794,479h3v6h-3zM1796,665h2v8h-2zM1784,609h2v8h-2zM1790,539h2.5v9h-2.5zM1779,686h2v3h-2zM1774,423h3v5h-3zM1771,440h2v9h-2zM1771,676h2.5v10h-2.5zM1825,626h2.5v11h-2.5zM1862,642h2v10h-2zM1859,449h2.5v3h-2.5zM1857,580h2v4h-2zM1829,707h2.5v4h-2.5zM1820,358h2.5v5h-2.5zM1864,420h2v10h-2zM1841,692h2.5v11h-2.5zM1824,722h2v9h-2zM1849,373h2v11h-2zM1866,553h3v9h-3zM1857,619h2v3h-2zM1844,449h3v9h-3zM1852,389h2v9h-2zM1847,391h2v8h-2zM1817,447h3v10h-3zM1830,479h2v6h-2zM1855,399h2v6h-2zM1847,716h3v9h-3zM1835,530h2.5v9h-2.5zM1822,467h2v8h-2zM1864,427h3v8h-3zM1822,378h3v4h-3zM1857,699h3v6h-3zM1861,529h2v7h-2zM1849,552h2.5v8h-2.5zM1863,740h2v9h-2zM1818,590h2.5v11h-2.5zM1857,365h2v10h-2zM1866,390h2v4h-2zM1842,460h2v8h-2zM1833,349h3v11h-3zM1845,622h2v10h-2zM1839,390h2v4h-2zM1841,396h3v6h-3zM1860,352h2.5v5h-2.5zM1853,532h3v8h-3zM1827,629h2.5v5h-2.5zM1857,391h2.5v8h-2.5zM1855,753h2v3h-2zM1851,446h2.5v5h-2.5zM1831,420h3v6h-3zM1821,574h2v6h-2zM1858,532h2v8h-2zM1844,716h3v5h-3zM1841,687h2.5v3h-2.5zM1867,623h3v4h-3zM1838,744h3v6h-3zM1849,389h2.5v10h-2.5zM1843,403h2v10h-2zM1857,528h3v6h-3zM1838,445h3v5h-3zM1842,737h3v10h-3zM1821,441h2.5v7h-2.5zM1820,421h2v4h-2zM1828,750h2v6h-2zM1826,507h2v4h-2zM1832,478h2.5v6h-2.5zM1825,481h2v8h-2zM1837,661h2v4h-2zM1853,705h3v8h-3zM1835,443h2.5v3h-2.5zM1833,361h2v6h-2zM1828,738h2v9h-2zM1841,621h3v7h-3zM1829,620h2v4h-2zM1837,456h2.5v6h-2.5zM1860,476h3v6h-3zM1853,620h2v5h-2zM1825,663h2v3h-2zM1828,358h3v7h-3zM1838,503h3v8h-3zM1827,448h2v11h-2zM1845,740h3v7h-3zM1827,422h2v7h-2zM1836,690h2.5v5h-2.5zM1866,466h2v7h-2zM1856,634h3v5h-3zM1843,421h2v9h-2zM1825,609h2v8h-2zM1825,588h2.5v10h-2.5zM1825,700h2v4h-2zM1859,386h2v7h-2zM1849,477h2.5v4h-2.5zM1825,640h2.5v5h-2.5zM1842,645h2.5v9h-2.5zM1858,395h2.5v5h-2.5zM1853,515h2v8h-2zM1817,601h2v6h-2zM1822,573h2.5v4h-2.5zM1841,588h2.5v5h-2.5zM1860,518h3v5h-3zM1855,717h3v8h-3zM1843,440h2v5h-2zM1861,441h2v7h-2zM1829,475h2v9h-2zM1821,465h2v4h-2zM1834,482h2v6h-2zM1844,364h2v6h-2zM1831,746h2.5v9h-2.5zM1818,357h3v5h-3zM1824,559h3v5h-3zM1857,672h2v9h-2zM1856,582h2.5v9h-2.5zM1818,599h2.5v8h-2.5zM1853,684h2v4h-2zM1821,700h2.5v3h-2.5zM1858,719h3v10h-3zM1822,501h2v9h-2zM1839,415h2v8h-2z"/></g>
<g clip-path="url(#cF4)"><path fill="#F08A5E" d="M1144,484h3v7h-3zM1135,501h3v7h-3zM1157,448h2.5v7h-2.5z"/><path fill="#F29A35" d="M1112,468h2.5v6h-2.5zM1169,464h3v6h-3zM1149,507h2v7h-2zM1145,522h2v6h-2zM1173,510h3v9h-3zM1144,472h2v7h-2zM1128,484h2v7h-2zM1130,475h2.5v8h-2.5zM1140,477h2.5v7h-2.5zM1112,498h3v7h-3zM1118,486h2.5v11h-2.5zM1127,472h2v9h-2zM1127,472h3v9h-3zM1161,456h2v8h-2zM1136,519h2v4h-2zM1111,506h2.5v11h-2.5zM1111,506h2v10h-2zM1124,472h2v10h-2zM1119,468h2v8h-2zM1168,521h2v3h-2zM1140,458h3v4h-3zM1133,507h2v5h-2zM1154,521h2v4h-2zM1107,459h2.5v6h-2.5z"/><path fill="#FFE42A" d="M1154,479h3v7h-3zM1119,515h2v7h-2zM1129,510h2v8h-2zM1169,502h2v3h-2zM1138,499h2v6h-2zM1151,522h2v10h-2zM1152,512h3v3h-3zM1143,500h3v6h-3zM1153,454h2v6h-2zM1154,513h2v9h-2zM1135,519h2v4h-2zM1155,478h2.5v9h-2.5zM1137,507h2v7h-2zM1161,464h2v7h-2zM1163,483h2v9h-2zM1167,501h2.5v8h-2.5zM1160,521h2v4h-2zM1131,512h2v9h-2zM1111,485h3v5h-3zM1134,504h2.5v8h-2.5zM1157,507h2.5v4h-2.5zM1168,507h2.5v3h-2.5zM1125,500h2.5v11h-2.5zM1137,491h3v9h-3zM1116,499h2v4h-2zM1118,460h3v5h-3zM1148,472h3v7h-3zM1159,461h2v5h-2zM1136,489h2v9h-2zM1145,451h2.5v9h-2.5zM1162,484h3v4h-3zM1139,484h3v5h-3zM1160,493h2.5v7h-2.5zM1106,487h2.5v11h-2.5zM1136,461h2v10h-2zM1151,518h2v3h-2zM1129,494h2.5v8h-2.5zM1130,455h3v9h-3zM1118,507h2v5h-2zM1141,500h2v4h-2zM1115,514h2.5v7h-2.5zM1173,473h2v10h-2zM1113,505h2v11h-2zM1147,493h2v9h-2zM1130,521h2v4h-2zM1172,474h2v9h-2zM1163,467h2v9h-2zM1147,499h2.5v7h-2.5z"/></g>
<g clip-path="url(#cF3)"><path fill="#F08A5E" d="M1119,625h2.5v5h-2.5zM1109,618h2v3h-2zM1103,608h2v3h-2zM1121,577h3v7h-3zM1083,621h2v5h-2z"/><path fill="#F29A35" d="M1100,615h3v4h-3zM1090,602h2.5v5h-2.5zM1110,601h2v9h-2zM1110,601h2v3h-2zM1119,616h2v9h-2zM1095,628h2v8h-2zM1121,595h3v7h-3zM1085,615h2v6h-2zM1091,615h3v10h-3zM1100,639h2.5v6h-2.5zM1089,639h3v10h-3zM1103,577h2v4h-2zM1092,606h2v7h-2zM1083,643h2v8h-2zM1099,616h3v9h-3zM1121,573h2v11h-2zM1114,612h3v7h-3zM1086,571h2.5v5h-2.5zM1089,600h3v5h-3zM1097,601h2v7h-2zM1110,622h2v6h-2zM1123,568h3v6h-3zM1095,592h2.5v10h-2.5zM1109,599h2.5v11h-2.5zM1094,597h2.5v9h-2.5zM1110,637h3v7h-3zM1099,639h3v5h-3zM1091,607h2v4h-2zM1099,576h2.5v4h-2.5zM1171,616h3v7h-3zM1163,601h2.5v9h-2.5zM1141,637h2v5h-2zM1157,600h2v11h-2zM1161,602h2v7h-2zM1132,584h2.5v6h-2.5zM1149,590h3v4h-3zM1145,590h2v10h-2zM1129,586h2v3h-2zM1128,577h2v6h-2zM1136,604h2v10h-2zM1144,643h2.5v5h-2.5zM1173,630h2v9h-2zM1159,641h2v7h-2zM1157,605h2v7h-2zM1129,637h3v9h-3zM1157,623h2v6h-2zM1129,615h2v4h-2zM1143,613h2.5v5h-2.5zM1139,600h2v7h-2zM1135,607h2v7h-2zM1144,571h2v4h-2zM1232,611h2.5v4h-2.5zM1189,630h2.5v10h-2.5zM1201,598h2v3h-2zM1192,624h2.5v8h-2.5zM1180,599h3v6h-3zM1229,599h2v14h-2zM1198,576h2v15h-2zM1230,574h3v4h-3zM1176,576h2.5v4h-2.5zM1178,595h2.5v5h-2.5zM1211,629h3v14h-3zM1224,599h2v11h-2z"/><path fill="#FFE42A" d="M1086,602h2.5v8h-2.5zM1101,576h3v5h-3zM1084,631h2.5v3h-2.5zM1104,582h2v3h-2zM1092,597h3v8h-3zM1106,613h2v5h-2zM1109,640h2.5v5h-2.5zM1118,606h3v8h-3zM1105,638h2v10h-2zM1104,617h2v6h-2zM1106,607h2.5v9h-2.5zM1097,578h3v5h-3zM1097,572h2v5h-2zM1103,597h2v6h-2zM1116,614h2v9h-2zM1119,641h3v9h-3zM1086,569h2.5v4h-2.5zM1092,621h2v8h-2zM1172,580h2v7h-2zM1150,578h3v5h-3zM1148,617h3v7h-3zM1159,601h3v9h-3zM1153,585h3v10h-3zM1171,627h2.5v9h-2.5zM1128,621h2v10h-2zM1163,609h2.5v10h-2.5zM1154,582h2.5v9h-2.5zM1133,616h3v9h-3zM1170,603h2v3h-2zM1155,592h3v11h-3zM1166,602h2v9h-2zM1168,618h2v9h-2zM1160,632h3v8h-3zM1163,572h2v9h-2zM1159,603h3v7h-3zM1131,585h2v9h-2zM1129,570h2v10h-2zM1144,594h2v4h-2zM1174,610h2v6h-2zM1136,629h3v7h-3zM1157,602h2v7h-2zM1149,620h2v4h-2zM1151,632h2v3h-2zM1167,621h2.5v8h-2.5zM1157,636h2v4h-2zM1135,614h3v5h-3zM1155,614h2.5v6h-2.5zM1148,636h3v10h-3zM1146,608h2v8h-2zM1155,642h2v10h-2zM1150,592h2.5v10h-2.5zM1137,622h2.5v9h-2.5zM1159,612h2v8h-2zM1145,639h2.5v4h-2.5zM1164,640h3v7h-3zM1158,602h2v8h-2zM1150,616h2v5h-2zM1158,642h2v10h-2zM1164,582h2.5v4h-2.5zM1170,578h2v5h-2zM1141,585h2.5v11h-2.5zM1134,620h2v4h-2zM1206,618h2v6h-2zM1192,628h2v11h-2zM1215,586h2v5h-2zM1206,598h2v8h-2zM1207,625h3v5h-3zM1192,570h2.5v15h-2.5zM1199,639h3v6h-3zM1181,644h2v9h-2zM1197,581h3v5h-3zM1234,631h2v8h-2zM1231,590h2v9h-2zM1209,594h3v9h-3zM1213,609h2.5v11h-2.5zM1182,599h2.5v13h-2.5zM1211,592h2.5v5h-2.5zM1192,602h3v8h-3zM1229,612h2.5v8h-2.5zM1180,640h2v10h-2zM1177,644h2v9h-2zM1202,610h2v4h-2zM1224,644h2v12h-2zM1182,636h2v13h-2zM1191,587h3v9h-3zM1217,584h2.5v10h-2.5zM1219,573h2.5v14h-2.5zM1216,623h2v12h-2zM1230,599h2v11h-2zM1193,628h2.5v7h-2.5zM1212,631h2.5v15h-2.5zM1215,612h2v4h-2zM1229,573h3v12h-3zM1212,607h2.5v13h-2.5zM1215,587h2v13h-2zM1196,605h2.5v4h-2.5zM1219,579h3v14h-3zM1192,591h2v9h-2zM1198,582h2.5v6h-2.5zM1216,590h2v5h-2zM1236,600h2v14h-2zM1236,604h2v5h-2zM1188,641h2v14h-2zM1225,569h2v5h-2zM1203,583h3v8h-3zM1204,574h2v7h-2zM1187,604h2.5v10h-2.5zM1208,591h2v8h-2zM1219,595h2v4h-2zM1234,606h2.5v4h-2.5zM1224,644h2v6h-2zM1200,607h2.5v10h-2.5zM1177,597h3v7h-3zM1227,622h2.5v14h-2.5zM1184,591h3v11h-3zM1198,587h2v13h-2zM1198,593h3v7h-3zM1180,624h2v11h-2zM1185,579h2v7h-2zM1198,610h2v7h-2zM1200,625h2v8h-2zM1234,621h2v3h-2zM1175,623h3v4h-3zM1202,620h2v6h-2zM1228,604h2.5v9h-2.5zM1226,586h2v14h-2zM1202,577h2v14h-2zM1178,612h2v7h-2zM1219,616h2v5h-2zM1229,575h3v12h-3zM1217,623h2.5v15h-2.5zM1194,599h2.5v14h-2.5zM1220,609h2v11h-2zM1194,597h2v7h-2zM1203,603h2v11h-2zM1217,579h2v14h-2zM1226,639h2.5v11h-2.5zM1215,616h2v13h-2zM1235,642h2v11h-2zM1228,577h3v7h-3zM1199,573h2v5h-2zM1231,645h2v7h-2zM1199,629h2.5v13h-2.5zM1238,593h2v13h-2zM1202,627h2v14h-2zM1185,628h2v5h-2zM1197,637h2.5v12h-2.5zM1237,630h2.5v7h-2.5zM1208,586h3v6h-3z"/></g>
<g clip-path="url(#cE)"><path fill="#F08A5E" d=""/><path fill="#F29A35" d="M1078,716h2v3h-2zM1067,705h3v11h-3zM1080,676h2v12h-2zM1081,673h2.5v3h-2.5zM1128,684h2v3h-2zM1113,727h2.5v9h-2.5zM1131,721h2v6h-2zM1110,708h2.5v8h-2.5zM1124,695h2.5v8h-2.5zM1129,708h2v10h-2zM1120,720h2v10h-2zM1112,672h2v4h-2zM1095,702h2v5h-2zM1103,728h3v7h-3zM1127,723h2v10h-2zM1090,698h2v10h-2zM1122,696h2v10h-2zM1116,678h2.5v10h-2.5zM1106,712h2v8h-2zM1140,697h2.5v14h-2.5zM1169,701h2.5v11h-2.5zM1178,670h2.5v4h-2.5zM1149,697h2v14h-2zM1172,695h2v10h-2zM1162,712h3v10h-3zM1170,713h2v13h-2zM1139,687h3v9h-3zM1146,685h2.5v13h-2.5zM1225,703h2v13h-2zM1210,717h2v14h-2zM1194,688h2.5v9h-2.5zM1209,723h2.5v7h-2.5zM1212,709h3v13h-3zM1219,703h2.5v12h-2.5zM1199,720h2v3h-2zM1217,719h2.5v9h-2.5zM1215,708h2.5v6h-2.5zM1190,673h2v7h-2zM1200,687h3v13h-3zM1231,720h3v11h-3zM1258,710h2v4h-2zM1261,697h2v4h-2zM1239,699h3v6h-3zM1254,695h2v4h-2zM1248,694h3v4h-3zM1256,673h2.5v3h-2.5zM1262,671h2v3h-2zM1274,681h2v5h-2zM1264,666h3v5h-3zM1256,706h2v9h-2zM1275,699h2v7h-2zM1234,670h2v10h-2zM1230,698h2v6h-2zM1270,689h3v6h-3zM1266,700h2.5v5h-2.5zM1264,706h3v4h-3zM1237,682h2v7h-2zM1234,672h2v8h-2zM1247,714h2v9h-2zM1264,724h2v6h-2zM1275,727h2v9h-2zM1247,680h3v7h-3zM1284,685h2.5v7h-2.5zM1289,669h2v12h-2zM1285,682h3v7h-3zM1279,705h2v8h-2zM1286,681h2v15h-2z"/><path fill="#FFE42A" d="M1069,724h2.5v7h-2.5zM1073,723h2.5v13h-2.5zM1071,718h2v9h-2zM1080,673h3v12h-3zM1088,677h2v11h-2zM1081,704h3v5h-3zM1077,683h2v7h-2zM1082,717h2v7h-2zM1085,709h2.5v13h-2.5zM1072,678h3v8h-3zM1075,689h2v15h-2zM1072,689h2.5v5h-2.5zM1088,698h3v7h-3zM1072,695h2v9h-2zM1084,723h2v12h-2zM1073,699h2v10h-2zM1069,687h2v4h-2zM1087,707h3v4h-3zM1083,671h2.5v7h-2.5zM1080,684h2v6h-2zM1069,667h2v5h-2zM1087,675h3v8h-3zM1068,719h2v10h-2zM1071,701h2v6h-2zM1083,678h2v6h-2zM1086,670h3v6h-3zM1101,709h2v7h-2zM1101,690h2v9h-2zM1122,723h2v7h-2zM1133,714h2v5h-2zM1127,683h2v11h-2zM1112,678h2v7h-2zM1101,691h2v9h-2zM1098,672h2v8h-2zM1122,726h2v8h-2zM1132,688h3v8h-3zM1110,706h3v5h-3zM1132,702h2.5v7h-2.5zM1129,666h2v11h-2zM1093,721h2v10h-2zM1108,710h2.5v6h-2.5zM1092,706h2.5v6h-2.5zM1101,727h2v8h-2zM1107,676h3v4h-3zM1111,727h2v10h-2zM1101,677h2.5v8h-2.5zM1110,690h2.5v6h-2.5zM1091,708h2.5v7h-2.5zM1121,705h2v5h-2zM1093,666h2v3h-2zM1131,692h2v6h-2zM1128,689h2v4h-2zM1129,697h2.5v3h-2.5zM1134,699h2.5v10h-2.5zM1127,716h3v5h-3zM1109,710h2v3h-2zM1126,678h2v8h-2zM1122,676h2v10h-2zM1095,706h2.5v4h-2.5zM1126,671h2v9h-2zM1119,669h2v7h-2zM1121,725h2.5v7h-2.5zM1127,698h2v7h-2zM1120,698h2.5v10h-2.5zM1133,703h2v6h-2zM1161,666h3v12h-3zM1148,713h3v14h-3zM1170,719h2v8h-2zM1156,693h2.5v12h-2.5zM1146,713h2v12h-2zM1144,685h2.5v14h-2.5zM1138,691h2.5v9h-2.5zM1159,682h2.5v13h-2.5zM1173,686h3v7h-3zM1139,666h2.5v15h-2.5zM1148,702h3v10h-3zM1145,717h2.5v14h-2.5zM1178,684h2v8h-2zM1178,665h3v11h-3zM1143,675h3v7h-3zM1175,696h2.5v13h-2.5zM1174,719h2v10h-2zM1141,674h3v12h-3zM1169,673h2v14h-2zM1164,722h2v14h-2zM1166,715h2.5v14h-2.5zM1141,704h2v6h-2zM1168,678h2v9h-2zM1167,711h2v5h-2zM1155,708h3v14h-3zM1151,671h2.5v11h-2.5zM1145,675h2.5v9h-2.5zM1139,724h2.5v8h-2.5zM1144,693h2v7h-2zM1141,670h2v13h-2zM1155,679h3v15h-3zM1140,682h2v7h-2zM1137,716h2v15h-2zM1154,696h2.5v8h-2.5zM1162,665h2.5v5h-2.5zM1170,712h2v8h-2zM1166,689h2v7h-2zM1175,672h2.5v14h-2.5zM1141,722h2v5h-2zM1179,703h2v7h-2zM1170,723h3v11h-3zM1141,710h2v9h-2zM1155,707h2.5v6h-2.5zM1143,682h2v9h-2zM1172,678h2v4h-2zM1155,670h2v11h-2zM1144,712h2v5h-2zM1210,691h2.5v11h-2.5zM1191,720h2v11h-2zM1183,680h2v11h-2zM1228,680h3v5h-3zM1181,684h3v5h-3zM1205,704h2v12h-2zM1208,722h3v9h-3zM1199,702h2.5v6h-2.5zM1195,713h2v15h-2zM1213,675h2v10h-2zM1200,673h3v4h-3zM1210,717h2.5v10h-2.5zM1208,716h2v4h-2zM1209,726h2v9h-2zM1193,684h2.5v9h-2.5zM1206,692h2.5v14h-2.5zM1185,706h2v10h-2zM1225,683h2.5v9h-2.5zM1219,690h3v9h-3zM1206,701h2v10h-2zM1219,693h2v15h-2zM1205,670h2v8h-2zM1198,722h2v13h-2zM1216,688h3v5h-3zM1194,710h3v13h-3zM1223,728h2v14h-2zM1213,700h3v8h-3zM1217,693h2v6h-2zM1224,674h2v5h-2zM1206,689h2v8h-2zM1189,706h2v12h-2zM1199,721h2v5h-2zM1205,685h2v8h-2zM1182,678h2v12h-2zM1204,678h2v10h-2zM1228,681h2.5v5h-2.5zM1200,669h2v13h-2zM1187,698h3v14h-3zM1224,729h2v13h-2zM1215,699h3v13h-3zM1222,687h2v6h-2zM1195,701h2v15h-2zM1208,701h2v7h-2zM1199,704h2v12h-2zM1193,672h2v7h-2zM1216,704h2v3h-2zM1193,703h2v11h-2zM1213,667h2v7h-2zM1183,702h2v13h-2zM1235,674h2.5v4h-2.5zM1265,676h2v9h-2zM1234,725h2v10h-2zM1261,679h3v11h-3zM1268,699h2v4h-2zM1267,672h3v10h-3zM1232,720h2v9h-2zM1263,689h3v5h-3zM1235,691h2v6h-2zM1232,707h2v4h-2zM1266,670h2v8h-2zM1230,676h3v3h-3zM1264,728h2v4h-2zM1264,700h2v11h-2zM1255,711h2.5v7h-2.5zM1240,699h3v5h-3zM1239,680h3v4h-3zM1258,670h3v10h-3zM1262,693h3v8h-3zM1252,720h2v4h-2zM1231,676h2.5v3h-2.5zM1274,726h2v3h-2zM1274,718h2v8h-2zM1267,676h2v10h-2zM1234,668h2.5v4h-2.5zM1262,689h2v3h-2zM1233,705h2.5v3h-2.5zM1269,691h2.5v9h-2.5zM1271,674h2.5v8h-2.5zM1267,682h3v10h-3zM1237,678h2v8h-2zM1292,719h2v13h-2zM1278,674h2.5v11h-2.5zM1281,727h3v14h-3zM1282,685h2v9h-2zM1281,682h2v4h-2zM1285,711h2.5v6h-2.5zM1286,679h2v4h-2zM1285,728h2.5v10h-2.5zM1283,717h2.5v13h-2.5zM1286,671h2.5v5h-2.5zM1294,680h2v9h-2zM1298,709h2v12h-2zM1298,667h2v12h-2zM1284,692h2v5h-2zM1282,712h3v12h-3zM1298,709h2v15h-2zM1293,714h2v14h-2zM1299,679h3v10h-3zM1295,711h2v6h-2zM1285,701h2.5v10h-2.5z"/></g>
<g clip-path="url(#cE12)"><path fill="#F08A5E" d="M1855,688h2.5v8h-2.5zM1821,703h2v3h-2zM1845,660h2v8h-2zM1844,725h2.5v9h-2.5zM1852,675h2.5v11h-2.5zM1821,708h2v10h-2zM1836,657h2v5h-2zM1861,719h2v6h-2zM1836,663h2v4h-2z"/><path fill="#F29A35" d="M1763,711h2.5v10h-2.5zM1778,710h2.5v10h-2.5zM1770,700h2v4h-2zM1780,692h2v7h-2zM1766,673h2v12h-2zM1761,651h2v7h-2zM1781,653h2v3h-2zM1779,713h3v9h-3zM1776,644h2v14h-2zM1787,711h2v14h-2zM1761,722h2v7h-2zM1771,667h2v7h-2zM1801,725h3v5h-3zM1791,649h2v6h-2zM1794,696h3v9h-3zM1814,641h2v7h-2zM1814,718h2v9h-2zM1806,729h3v6h-3zM1798,664h3v7h-3zM1792,646h2v11h-2zM1801,662h2v10h-2zM1791,665h2v3h-2zM1797,728h2v3h-2zM1802,719h2v5h-2zM1792,696h3v5h-3zM1798,730h2v10h-2zM1796,720h3v4h-3zM1791,645h2.5v4h-2.5zM1819,667h2.5v10h-2.5zM1828,702h2v9h-2zM1822,697h2.5v5h-2.5zM1863,644h2v6h-2zM1840,692h2v5h-2zM1825,726h2.5v10h-2.5zM1860,691h2v5h-2zM1826,657h3v5h-3zM1842,725h2v5h-2zM1818,652h2.5v4h-2.5zM1826,637h2v7h-2zM1819,653h2.5v8h-2.5zM1826,727h2v5h-2zM1839,716h3v10h-3zM1850,725h2v4h-2zM1828,724h2v4h-2zM1858,670h2v8h-2zM1817,679h2.5v7h-2.5zM1842,723h3v9h-3z"/><path fill="#FFE42A" d="M1769,688h3v11h-3zM1788,690h3v8h-3zM1789,675h2v7h-2zM1777,656h2v15h-2zM1788,738h2v12h-2zM1777,653h2v9h-2zM1774,720h2v13h-2zM1775,655h2v12h-2zM1770,730h3v13h-3zM1782,643h3v8h-3zM1785,727h2v7h-2zM1766,720h2v9h-2zM1760,733h2v7h-2zM1776,674h2v4h-2zM1773,726h2v8h-2zM1771,729h2v13h-2zM1781,731h2v3h-2zM1789,704h3v8h-3zM1770,687h3v13h-3zM1774,648h3v14h-3zM1783,669h2.5v12h-2.5zM1764,715h2.5v10h-2.5zM1770,723h2v4h-2zM1763,651h3v5h-3zM1787,717h2.5v11h-2.5zM1772,733h2v9h-2zM1787,670h3v7h-3zM1770,701h3v3h-3zM1763,735h2v12h-2zM1764,716h2v9h-2zM1780,689h2.5v15h-2.5zM1776,642h2v7h-2zM1778,706h2v7h-2zM1781,670h2v8h-2zM1780,737h3v14h-3zM1788,684h2v8h-2zM1764,736h2.5v11h-2.5zM1769,689h3v5h-3zM1761,702h3v6h-3zM1774,664h2v12h-2zM1774,693h2v11h-2zM1762,735h2v12h-2zM1778,689h3v12h-3zM1768,693h2v12h-2zM1778,647h3v5h-3zM1775,672h2.5v14h-2.5zM1778,719h2v8h-2zM1765,698h3v13h-3zM1781,654h2v4h-2zM1760,645h2v8h-2zM1767,681h3v14h-3zM1782,723h3v14h-3zM1780,696h2v10h-2zM1772,694h2v13h-2zM1784,688h2v4h-2zM1775,688h2v7h-2zM1773,665h3v5h-3zM1777,670h2.5v9h-2.5zM1801,658h2v8h-2zM1806,739h2v5h-2zM1798,646h2v7h-2zM1798,738h2.5v10h-2.5zM1801,683h3v9h-3zM1800,641h3v3h-3zM1798,698h2.5v6h-2.5zM1801,684h2v7h-2zM1793,694h2v10h-2zM1803,656h3v3h-3zM1795,684h2v5h-2zM1797,734h3v5h-3zM1803,678h2v10h-2zM1799,737h3v4h-3zM1793,684h2.5v10h-2.5zM1800,726h2.5v5h-2.5zM1792,675h2v3h-2zM1815,692h3v7h-3zM1813,733h2v5h-2zM1796,721h2v10h-2zM1801,738h2v8h-2zM1809,729h2.5v7h-2.5zM1796,703h3v7h-3zM1793,703h2v6h-2zM1807,737h2.5v10h-2.5zM1812,734h3v7h-3zM1793,735h2v11h-2zM1804,721h3v9h-3zM1809,688h2.5v9h-2.5zM1804,712h3v3h-3zM1793,679h2.5v4h-2.5zM1794,733h2.5v7h-2.5zM1806,650h3v4h-3zM1863,650h2v7h-2zM1856,725h3v5h-3zM1832,694h3v8h-3zM1844,657h2v11h-2zM1850,643h2.5v7h-2.5zM1845,658h3v7h-3zM1857,639h2.5v10h-2.5zM1819,683h2v9h-2zM1823,726h2.5v4h-2.5zM1831,644h2v8h-2zM1823,713h2v10h-2zM1841,715h2.5v9h-2.5zM1818,732h2v10h-2zM1862,714h2.5v6h-2.5zM1859,716h2.5v4h-2.5zM1856,656h2v3h-2z"/></g>
<g clip-path="url(#cDL)"><path fill="#F08A5E" d="M1377,780h2v5h-2zM1376,816h2v5h-2zM1386,805h2.5v7h-2.5zM1372,784h2v3h-2zM1368,790h2v5h-2z"/><path fill="#F29A35" d="M1119,786h3v6h-3zM1115,841h2v5h-2zM1123,831h2v10h-2zM1122,833h2v8h-2zM1110,806h2.5v7h-2.5zM1109,809h2.5v12h-2.5zM1101,850h2.5v15h-2.5zM1121,813h2v5h-2zM1120,787h2.5v12h-2.5zM1122,787h2.5v14h-2.5zM1161,830h2.5v5h-2.5zM1146,802h3v9h-3zM1145,828h3v6h-3zM1150,826h2v11h-2zM1148,805h2.5v4h-2.5zM1146,822h2v10h-2zM1154,824h2v12h-2zM1147,785h2.5v10h-2.5zM1133,822h2v6h-2zM1157,843h3v9h-3zM1137,820h2v9h-2zM1151,791h2v9h-2zM1140,842h3v13h-3zM1142,828h2v9h-2zM1171,784h2v13h-2zM1161,801h2.5v8h-2.5zM1166,852h2.5v4h-2.5zM1189,833h2v12h-2zM1191,816h2v5h-2zM1217,815h2v9h-2zM1215,840h2.5v5h-2.5zM1212,792h2v8h-2zM1188,783h2v11h-2zM1181,796h2.5v8h-2.5zM1179,827h3v9h-3zM1201,819h2v8h-2zM1189,828h2.5v12h-2.5zM1195,812h3v14h-3zM1200,812h2v9h-2zM1213,839h2v10h-2zM1228,781h3v9h-3zM1250,782h2.5v14h-2.5zM1224,829h2v8h-2zM1221,803h2v14h-2zM1231,832h2v15h-2zM1252,850h2v11h-2zM1231,781h2.5v4h-2.5zM1230,799h2v15h-2zM1255,804h2v9h-2zM1242,808h2.5v12h-2.5zM1255,814h2v11h-2zM1252,790h3v11h-3zM1228,786h2v7h-2zM1235,806h2v11h-2zM1281,795h2.5v9h-2.5zM1287,827h3v15h-3zM1309,782h2.5v11h-2.5zM1278,781h2.5v6h-2.5zM1307,790h3v8h-3zM1311,829h2v7h-2zM1278,808h2v9h-2zM1289,846h2.5v9h-2.5zM1296,781h2v12h-2zM1295,795h2v8h-2zM1276,819h2v4h-2zM1281,825h3v13h-3zM1280,844h2v7h-2zM1298,788h2v13h-2zM1349,813h2.5v12h-2.5zM1356,824h2v13h-2zM1338,792h2v15h-2zM1330,828h2v14h-2zM1335,816h2v5h-2zM1342,792h2v9h-2zM1341,836h2v13h-2zM1339,804h2v8h-2zM1388,830h2v6h-2zM1365,844h3v3h-3zM1371,835h2v3h-2zM1376,822h2.5v5h-2.5zM1389,806h3v5h-3z"/><path fill="#FFE42A" d="M1113,823h2.5v9h-2.5zM1118,785h2.5v15h-2.5zM1112,825h3v12h-3zM1119,803h3v7h-3zM1114,795h2v8h-2zM1110,832h3v6h-3zM1123,839h2v14h-2zM1121,816h3v8h-3zM1116,836h2.5v4h-2.5zM1113,854h2v10h-2zM1108,815h2.5v5h-2.5zM1106,784h2.5v10h-2.5zM1115,829h3v11h-3zM1113,833h2v8h-2zM1111,796h3v7h-3zM1115,815h2.5v15h-2.5zM1122,844h2v7h-2zM1111,830h2.5v14h-2.5zM1104,814h2.5v15h-2.5zM1115,832h3v13h-3zM1125,849h2v6h-2zM1112,811h2v3h-2zM1122,807h2v15h-2zM1111,808h2v4h-2zM1115,831h2v6h-2zM1113,808h2v6h-2zM1118,831h2v10h-2zM1120,849h3v10h-3zM1109,837h3v10h-3zM1108,791h2v6h-2zM1106,841h2v8h-2zM1121,781h2.5v9h-2.5zM1121,791h2.5v13h-2.5zM1113,799h2v12h-2zM1112,791h2v15h-2zM1119,850h2v9h-2zM1115,810h3v13h-3zM1124,816h2v11h-2zM1166,820h2v9h-2zM1139,852h2v11h-2zM1172,843h2v9h-2zM1133,792h2.5v9h-2.5zM1157,788h2v4h-2zM1169,784h2v5h-2zM1159,798h2v5h-2zM1154,815h2v9h-2zM1159,847h2v13h-2zM1129,800h2.5v12h-2.5zM1164,815h2v6h-2zM1143,823h2v12h-2zM1151,840h3v10h-3zM1151,850h3v8h-3zM1171,795h2.5v14h-2.5zM1151,854h3v3h-3zM1137,791h2v7h-2zM1167,792h2v4h-2zM1146,831h2v5h-2zM1132,836h3v8h-3zM1156,842h3v4h-3zM1161,791h2v14h-2zM1140,788h2v4h-2zM1155,816h3v14h-3zM1162,807h2v13h-2zM1145,838h3v6h-3zM1147,831h2v4h-2zM1146,833h2v6h-2zM1136,845h3v6h-3zM1152,851h2v8h-2zM1163,833h2v6h-2zM1172,781h2v6h-2zM1136,848h2v14h-2zM1143,843h2v12h-2zM1129,794h2v13h-2zM1172,802h2v4h-2zM1141,824h2v8h-2zM1150,781h2v14h-2zM1150,793h2.5v10h-2.5zM1166,788h2v5h-2zM1160,796h2v11h-2zM1131,833h2v5h-2zM1160,797h3v5h-3zM1157,786h3v5h-3zM1130,827h3v8h-3zM1133,831h2.5v14h-2.5zM1139,836h3v15h-3zM1137,796h2v5h-2zM1160,788h3v5h-3zM1160,838h2v13h-2zM1154,796h2v12h-2zM1165,817h2v12h-2zM1197,820h3v13h-3zM1188,785h2v8h-2zM1194,849h3v11h-3zM1188,852h3v3h-3zM1199,803h3v12h-3zM1189,847h2.5v11h-2.5zM1199,831h2v9h-2zM1188,841h2v14h-2zM1180,850h2v5h-2zM1192,838h2v12h-2zM1213,795h2v4h-2zM1192,806h2v8h-2zM1199,809h3v10h-3zM1217,849h2.5v6h-2.5zM1196,822h2.5v7h-2.5zM1217,787h2v14h-2zM1200,813h2v6h-2zM1196,784h2.5v9h-2.5zM1179,825h2v13h-2zM1217,785h2.5v10h-2.5zM1193,807h2v12h-2zM1175,803h2v14h-2zM1197,795h3v13h-3zM1210,808h2v12h-2zM1179,824h2.5v5h-2.5zM1182,848h2v9h-2zM1184,783h3v12h-3zM1204,814h3v11h-3zM1216,800h2v7h-2zM1184,803h2v8h-2zM1181,850h3v6h-3zM1191,848h2v15h-2zM1193,809h3v13h-3zM1191,849h2v5h-2zM1191,830h2v10h-2zM1188,803h2v15h-2zM1194,845h2v7h-2zM1208,833h2v13h-2zM1194,833h2v11h-2zM1208,786h3v7h-3zM1183,837h2.5v4h-2.5zM1213,840h2v12h-2zM1182,798h2v12h-2zM1204,833h2v13h-2zM1177,801h2.5v4h-2.5zM1217,800h3v6h-3zM1209,826h3v11h-3zM1205,840h3v12h-3zM1205,801h2.5v5h-2.5zM1205,823h2v6h-2zM1205,850h2v7h-2zM1215,824h2.5v3h-2.5zM1179,852h2v7h-2zM1199,791h3v7h-3zM1207,839h2v9h-2zM1235,842h3v9h-3zM1237,820h2v4h-2zM1261,829h2v15h-2zM1262,785h2v5h-2zM1257,825h2v5h-2zM1250,848h2.5v8h-2.5zM1230,829h2v7h-2zM1263,838h2v12h-2zM1234,845h2v3h-2zM1247,796h3v5h-3zM1242,842h2v5h-2zM1265,815h2v5h-2zM1231,826h3v4h-3zM1230,836h2v14h-2zM1230,818h2.5v15h-2.5zM1251,825h2.5v5h-2.5zM1245,825h2v12h-2zM1233,786h2v13h-2zM1261,854h2v8h-2zM1243,798h3v6h-3zM1252,855h2.5v9h-2.5zM1239,793h2v6h-2zM1231,808h3v3h-3zM1237,817h2.5v15h-2.5zM1263,813h2v10h-2zM1244,816h2.5v7h-2.5zM1226,795h3v7h-3zM1236,808h3v7h-3zM1251,818h2.5v13h-2.5zM1238,824h2v7h-2zM1252,799h2v3h-2zM1262,792h2v15h-2zM1235,853h3v3h-3zM1227,806h2v10h-2zM1230,803h2v3h-2zM1251,781h2v12h-2zM1243,847h2v5h-2zM1258,847h3v15h-3zM1223,782h2v6h-2zM1234,807h3v7h-3zM1260,791h2.5v9h-2.5zM1244,796h2v7h-2zM1258,830h2v11h-2zM1231,797h3v13h-3zM1244,786h3v6h-3zM1240,853h2.5v9h-2.5zM1254,808h2v10h-2zM1242,847h2v13h-2zM1232,833h2v13h-2zM1238,784h3v6h-3zM1229,826h2.5v4h-2.5zM1227,785h2v11h-2zM1241,811h2v9h-2zM1244,789h3v9h-3zM1249,836h3v10h-3zM1225,797h3v7h-3zM1228,794h2.5v14h-2.5zM1242,835h2v13h-2zM1229,796h2v9h-2zM1254,850h2.5v9h-2.5zM1262,809h2v4h-2zM1232,781h3v14h-3zM1272,840h3v11h-3zM1290,829h2.5v9h-2.5zM1269,808h2v8h-2zM1269,790h3v10h-3zM1278,789h3v14h-3zM1297,813h2v8h-2zM1276,826h2.5v10h-2.5zM1272,806h2v14h-2zM1302,839h2v12h-2zM1283,809h3v11h-3zM1285,808h2v12h-2zM1285,781h2.5v10h-2.5zM1310,801h3v11h-3zM1282,819h2v11h-2zM1313,788h2.5v7h-2.5zM1291,798h2v11h-2zM1312,809h2.5v12h-2.5zM1311,843h3v8h-3zM1291,852h2.5v9h-2.5zM1297,788h2v11h-2zM1280,810h2.5v9h-2.5zM1268,842h2v4h-2zM1286,802h2v14h-2zM1274,832h3v7h-3zM1302,818h3v10h-3zM1310,839h2v12h-2zM1285,789h2v3h-2zM1307,841h2.5v13h-2.5zM1277,837h2v4h-2zM1305,795h2v10h-2zM1274,792h2v9h-2zM1313,790h2v13h-2zM1297,838h3v11h-3zM1301,793h2v9h-2zM1313,835h2v8h-2zM1296,852h2v10h-2zM1288,786h2v6h-2zM1286,794h2v7h-2zM1276,797h2v4h-2zM1269,798h2v3h-2zM1304,781h2.5v15h-2.5zM1303,789h2v14h-2zM1272,841h2v9h-2zM1301,847h2.5v10h-2.5zM1273,850h2v4h-2zM1277,789h2v12h-2zM1278,818h3v4h-3zM1273,849h2v9h-2zM1300,796h2v14h-2zM1300,836h2v11h-2zM1305,825h2v12h-2zM1299,796h3v7h-3zM1285,840h2.5v8h-2.5zM1289,819h2v4h-2zM1281,849h3v11h-3zM1273,792h2.5v4h-2.5zM1286,814h3v11h-3zM1285,799h2.5v10h-2.5zM1294,802h2v4h-2zM1310,806h2.5v4h-2.5zM1278,846h3v14h-3zM1297,801h2v5h-2zM1345,826h3v7h-3zM1325,831h2v10h-2zM1359,844h2v9h-2zM1317,801h2v6h-2zM1341,854h2.5v13h-2.5zM1342,832h2v5h-2zM1335,817h2.5v14h-2.5zM1324,798h3v7h-3zM1340,838h2.5v15h-2.5zM1354,784h3v12h-3zM1329,816h3v11h-3zM1349,827h2.5v5h-2.5zM1321,799h2v10h-2zM1335,786h2v6h-2zM1316,794h2v12h-2zM1322,825h3v11h-3zM1329,840h3v10h-3zM1316,795h2v8h-2zM1333,840h2.5v10h-2.5zM1321,780h2.5v9h-2.5zM1335,832h2v6h-2zM1326,801h2.5v11h-2.5zM1327,787h2v12h-2zM1354,806h2v7h-2zM1356,845h3v6h-3zM1329,822h2.5v11h-2.5zM1332,834h2v7h-2zM1354,828h3v13h-3zM1345,824h2v12h-2zM1327,790h2v8h-2zM1342,846h3v10h-3zM1318,798h2v9h-2zM1328,785h2v7h-2zM1346,838h2v11h-2zM1350,812h3v5h-3zM1333,834h2v9h-2zM1317,850h2.5v9h-2.5zM1359,788h2v10h-2zM1339,854h2v12h-2zM1325,852h2.5v13h-2.5zM1323,853h2.5v10h-2.5zM1337,835h2v12h-2zM1346,808h2v12h-2zM1342,783h3v4h-3zM1328,802h2v6h-2zM1334,842h2v7h-2zM1355,783h2.5v7h-2.5zM1359,821h3v8h-3zM1337,839h3v6h-3zM1323,799h3v12h-3zM1327,847h2v6h-2zM1353,780h2v5h-2zM1359,800h2.5v15h-2.5zM1347,805h2.5v7h-2.5zM1337,815h2v5h-2zM1327,818h2v11h-2zM1351,807h2v8h-2zM1332,816h2v8h-2zM1340,798h3v5h-3zM1356,818h2v5h-2zM1376,808h2v4h-2z"/></g>
<g clip-path="url(#cDR)"><path fill="#F08A5E" d="M1810,825h2.5v8h-2.5zM1830,822h3v4h-3zM1852,831h2v5h-2z"/><path fill="#F29A35" d="M1695,782h2v11h-2zM1704,789h2.5v5h-2.5zM1687,837h2v5h-2zM1691,820h3v8h-3zM1695,799h2v10h-2zM1705,817h2v5h-2zM1706,785h2v6h-2zM1670,826h2v8h-2zM1714,799h2.5v3h-2.5zM1672,827h3v11h-3zM1676,821h3v7h-3zM1708,847h2v6h-2zM1697,843h3v11h-3zM1706,842h3v4h-3zM1681,843h2v5h-2zM1670,840h3v9h-3zM1702,809h2v4h-2zM1693,803h2v7h-2zM1670,829h2v3h-2zM1711,854h3v6h-3zM1712,813h2v6h-2zM1667,834h3v6h-3zM1665,783h2.5v10h-2.5zM1687,796h2.5v5h-2.5zM1675,786h2.5v11h-2.5zM1678,831h2v8h-2zM1701,816h2v8h-2zM1750,834h2v13h-2zM1732,802h2v13h-2zM1735,805h2.5v13h-2.5zM1749,818h2v10h-2zM1734,803h2.5v4h-2.5zM1757,815h2v7h-2zM1721,782h2v14h-2zM1740,839h3v7h-3zM1734,806h2.5v14h-2.5zM1744,800h2.5v9h-2.5zM1735,816h2v6h-2zM1750,805h3v9h-3zM1739,826h2v5h-2zM1733,833h2v11h-2zM1756,855h3v6h-3zM1802,804h3v13h-3zM1785,794h3v4h-3zM1801,802h2v14h-2zM1781,849h2v6h-2zM1794,850h2v6h-2zM1777,820h2v6h-2zM1782,810h2.5v12h-2.5zM1765,802h2v6h-2zM1796,814h3v7h-3zM1778,849h2.5v4h-2.5zM1775,820h2.5v4h-2.5zM1854,789h2v6h-2zM1851,822h2v8h-2zM1841,845h3v10h-3zM1843,786h2v3h-2zM1822,825h3v8h-3zM1821,833h2.5v9h-2.5zM1823,780h2.5v3h-2.5zM1841,854h2v5h-2zM1852,829h3v10h-3zM1826,797h2v8h-2zM1813,851h2.5v6h-2.5zM1842,816h2v6h-2zM1850,784h2.5v8h-2.5zM1823,792h3v10h-3zM1811,838h3v5h-3zM1834,822h2v5h-2zM1815,829h2.5v6h-2.5zM1838,826h2v5h-2zM1814,832h2v3h-2z"/><path fill="#FFE42A" d="M1697,809h3v11h-3zM1674,839h2.5v10h-2.5zM1712,854h2.5v8h-2.5zM1713,855h3v9h-3zM1692,832h2v7h-2zM1693,812h2v11h-2zM1685,838h2.5v8h-2.5zM1692,805h2.5v8h-2.5zM1705,785h2v7h-2zM1675,789h3v3h-3zM1693,833h2v11h-2zM1687,851h3v3h-3zM1682,828h2v7h-2zM1684,822h2.5v7h-2.5zM1687,813h3v5h-3zM1705,812h3v9h-3zM1702,800h2.5v8h-2.5zM1673,812h2.5v3h-2.5zM1667,795h2v7h-2zM1689,832h2.5v4h-2.5zM1680,806h3v4h-3zM1706,845h3v5h-3zM1714,794h2v7h-2zM1673,826h2.5v6h-2.5zM1665,852h3v5h-3zM1710,835h2v10h-2zM1702,824h2v6h-2zM1708,797h2v6h-2zM1698,815h3v10h-3zM1698,792h3v7h-3zM1665,851h2.5v4h-2.5zM1685,801h2v5h-2zM1696,817h2v8h-2zM1695,783h3v8h-3zM1674,829h2.5v7h-2.5zM1671,834h3v7h-3zM1687,804h2.5v8h-2.5zM1703,800h2v9h-2zM1666,845h2.5v9h-2.5zM1683,818h3v4h-3zM1702,787h2v5h-2zM1731,833h2v12h-2zM1756,820h2v9h-2zM1749,849h2.5v3h-2.5zM1731,785h2.5v8h-2.5zM1737,803h2.5v6h-2.5zM1755,822h2v14h-2zM1750,815h2v5h-2zM1738,838h2.5v7h-2.5zM1717,783h3v12h-3zM1743,797h2v11h-2zM1740,848h3v9h-3zM1741,823h3v7h-3zM1718,799h2.5v6h-2.5zM1751,848h2v5h-2zM1755,834h3v3h-3zM1720,853h3v14h-3zM1735,843h3v9h-3zM1757,810h2.5v5h-2.5zM1759,797h2v3h-2zM1719,852h2v10h-2zM1757,833h2v14h-2zM1744,851h2v12h-2zM1756,854h2.5v12h-2.5zM1753,791h2.5v8h-2.5zM1760,799h2v12h-2zM1717,845h3v12h-3zM1754,803h3v12h-3zM1750,797h2v10h-2zM1728,848h3v4h-3zM1751,784h2.5v11h-2.5zM1719,799h2.5v13h-2.5zM1716,822h2.5v6h-2.5zM1724,786h2v9h-2zM1761,794h2.5v8h-2.5zM1717,800h3v5h-3zM1736,796h3v14h-3zM1756,810h2v14h-2zM1744,848h2.5v10h-2.5zM1719,791h3v5h-3zM1737,842h3v9h-3zM1720,817h2v7h-2zM1739,813h3v9h-3zM1728,825h2v11h-2zM1746,819h2v13h-2zM1764,803h2.5v14h-2.5zM1803,847h2v6h-2zM1772,780h2.5v8h-2.5zM1789,836h3v13h-3zM1797,798h2.5v10h-2.5zM1789,816h2v14h-2zM1784,794h3v13h-3zM1764,780h2v10h-2zM1795,816h2.5v10h-2.5zM1791,780h3v7h-3zM1801,816h2.5v10h-2.5zM1785,834h2v7h-2zM1767,818h2v10h-2zM1807,833h3v9h-3zM1798,824h2v7h-2zM1776,818h3v8h-3zM1796,828h2v8h-2zM1773,783h3v14h-3zM1763,828h3v4h-3zM1765,842h2v14h-2zM1770,790h2v7h-2zM1785,800h2v12h-2zM1785,844h2.5v7h-2.5zM1771,814h2.5v7h-2.5zM1799,839h2v13h-2zM1779,790h2v3h-2zM1797,809h2.5v14h-2.5zM1785,817h3v7h-3zM1790,809h2v8h-2zM1770,838h2.5v13h-2.5zM1787,817h3v14h-3zM1781,791h2v12h-2zM1807,793h2.5v7h-2.5zM1790,840h2v8h-2zM1792,785h2.5v11h-2.5zM1807,814h3v6h-3zM1785,812h2v13h-2zM1764,831h2.5v4h-2.5zM1767,848h3v14h-3zM1781,853h3v8h-3zM1771,845h3v11h-3zM1776,783h2v10h-2zM1803,819h3v7h-3zM1788,843h2.5v8h-2.5zM1798,793h2v8h-2zM1778,804h2v14h-2zM1800,823h2v11h-2zM1777,834h2v11h-2zM1797,816h2v13h-2zM1789,841h2v11h-2zM1769,791h3v14h-3zM1798,831h3v7h-3zM1777,781h2.5v11h-2.5zM1809,780h2v5h-2zM1823,848h2v3h-2zM1849,853h2v4h-2zM1817,851h3v4h-3zM1826,796h2v8h-2zM1813,845h2.5v10h-2.5zM1832,795h2.5v10h-2.5zM1813,783h2v10h-2zM1812,787h2v4h-2zM1827,789h3v8h-3zM1830,828h3v6h-3zM1851,841h2.5v9h-2.5zM1832,849h2v8h-2zM1821,855h3v6h-3zM1841,791h2v6h-2zM1830,822h2v9h-2zM1811,828h3v10h-3zM1815,791h2v4h-2zM1812,840h2.5v4h-2.5zM1812,804h2.5v4h-2.5zM1840,841h2.5v6h-2.5zM1833,786h3v9h-3zM1846,784h2v9h-2zM1851,781h2v5h-2z"/></g>
<g clip-path="url(#cC)"><path fill="#F08A5E" d="M1388,905h2v5h-2zM1369,912h2.5v4h-2.5zM1364,905h2.5v5h-2.5zM1479,916h2v9h-2zM1455,916h2v8h-2zM1457,931h2v6h-2zM1436,920h3v11h-3zM1533,921h3v7h-3zM1570,942h2v6h-2zM1571,924h2v6h-2zM1590,934h2v5h-2zM1622,924h2v7h-2zM1596,927h2v4h-2zM1663,910h3v4h-3zM1638,907h3v6h-3zM1668,895h2v8h-2zM1639,942h2.5v5h-2.5zM1694,919h3v10h-3zM1708,913h2v10h-2zM1678,924h2v10h-2zM1701,905h2v3h-2zM1670,938h3v7h-3z"/><path fill="#F29A35" d="M1177,900h2.5v6h-2.5zM1196,924h2v3h-2zM1190,921h3v6h-3zM1181,927h3v12h-3zM1186,940h2v14h-2zM1205,905h2v8h-2zM1210,916h3v10h-3zM1233,885h3v15h-3zM1234,941h3v12h-3zM1222,897h2.5v13h-2.5zM1239,922h2v3h-2zM1206,913h2v11h-2zM1257,900h2v11h-2zM1256,942h2.5v11h-2.5zM1253,903h2v8h-2zM1258,890h3v10h-3zM1284,897h2v13h-2zM1255,886h3v14h-3zM1269,906h2.5v13h-2.5zM1259,928h2.5v13h-2.5zM1320,934h2v5h-2zM1296,913h2v4h-2zM1379,921h2.5v8h-2.5zM1375,918h2v8h-2zM1371,942h2.5v6h-2.5zM1383,903h2.5v4h-2.5zM1386,929h2v10h-2zM1357,931h2.5v5h-2.5zM1375,937h2v8h-2zM1363,897h2v7h-2zM1384,941h2v10h-2zM1432,928h2.5v13h-2.5zM1404,910h3v10h-3zM1409,911h2.5v14h-2.5zM1410,933h2v10h-2zM1400,917h2v9h-2zM1431,922h2.5v9h-2.5zM1397,937h2v11h-2zM1415,884h2v8h-2zM1401,922h2.5v10h-2.5zM1411,938h3v9h-3zM1440,914h2.5v9h-2.5zM1442,924h3v8h-3zM1451,904h3v5h-3zM1465,938h2v8h-2zM1461,906h3v9h-3zM1470,945h2v8h-2zM1480,922h2v10h-2zM1437,883h2.5v10h-2.5zM1439,930h2v5h-2zM1458,890h2.5v8h-2.5zM1460,929h2.5v9h-2.5zM1473,935h2v7h-2zM1501,886h2v14h-2zM1509,931h2v4h-2zM1519,939h2v14h-2zM1518,920h2.5v15h-2.5zM1519,932h2v15h-2zM1503,885h2v8h-2zM1533,933h2v2h-2zM1573,905h2.5v7h-2.5zM1564,885h3v3h-3zM1538,913h2v3h-2zM1535,884h3v4h-3zM1602,884h2.5v6h-2.5zM1617,888h3v9h-3zM1617,922h3v9h-3zM1587,937h2.5v6h-2.5zM1576,906h2v7h-2zM1586,930h2.5v6h-2.5zM1586,898h2v6h-2zM1617,888h2v3h-2zM1617,916h2v10h-2zM1598,915h2v5h-2zM1607,888h2v10h-2zM1646,919h3v5h-3zM1633,942h2v8h-2zM1658,890h2v6h-2zM1647,944h2v8h-2zM1642,944h2v3h-2zM1645,935h2.5v7h-2.5zM1655,897h2.5v6h-2.5zM1657,892h2v10h-2zM1636,905h2v6h-2zM1665,905h3v10h-3zM1648,929h2v10h-2zM1693,942h2v3h-2zM1709,916h2v5h-2zM1688,889h2v9h-2zM1675,903h3v4h-3zM1673,912h2.5v4h-2.5zM1694,935h3v7h-3zM1697,923h2v3h-2zM1680,915h3v5h-3zM1719,944h2v5h-2zM1721,904h2.5v4h-2.5zM1754,902h2v12h-2zM1748,900h2v8h-2zM1727,922h2v13h-2zM1736,938h2v7h-2zM1754,914h2v5h-2zM1760,906h2v11h-2zM1782,891h3v6h-3zM1797,886h2v6h-2zM1800,919h3v6h-3zM1800,903h2v9h-2zM1786,889h2v9h-2zM1798,884h2v10h-2zM1790,884h3v3h-3zM1800,921h2v8h-2zM1800,929h2v4h-2zM1768,886h2v8h-2zM1777,929h2v10h-2zM1770,907h2v9h-2zM1787,906h2.5v10h-2.5zM1792,906h2v7h-2zM1784,912h3v4h-3zM1804,901h2.5v11h-2.5zM1783,926h2v8h-2zM1838,920h3v10h-3zM1825,934h3v6h-3zM1843,886h3v4h-3zM1841,933h2v11h-2zM1817,918h2.5v3h-2.5zM1853,898h2v11h-2zM1846,922h2v9h-2zM1844,918h2v4h-2zM1846,940h2v8h-2zM1830,884h2v5h-2zM1812,901h2.5v5h-2.5z"/><path fill="#FFE42A" d="M1180,907h3v12h-3zM1190,920h2v10h-2zM1198,923h2v14h-2zM1181,889h2.5v12h-2.5zM1198,896h3v5h-3zM1185,908h2v4h-2zM1193,910h2v7h-2zM1183,942h3v5h-3zM1191,887h2v7h-2zM1193,938h3v11h-3zM1199,945h2v9h-2zM1193,889h2v9h-2zM1192,901h3v12h-3zM1187,914h2v5h-2zM1198,910h2v6h-2zM1192,934h2v14h-2zM1197,888h3v6h-3zM1180,906h2.5v8h-2.5zM1182,914h2v9h-2zM1193,927h2v15h-2zM1196,892h2v6h-2zM1185,939h2.5v9h-2.5zM1193,925h2.5v14h-2.5zM1184,929h2.5v5h-2.5zM1181,890h2v9h-2zM1181,928h2.5v7h-2.5zM1182,918h2v13h-2zM1187,928h2v5h-2zM1184,890h3v12h-3zM1188,941h3v14h-3zM1180,915h2.5v10h-2.5zM1176,911h3v4h-3zM1191,891h2v12h-2zM1181,900h2v7h-2zM1188,907h3v10h-3zM1193,892h2v5h-2zM1176,896h2v9h-2zM1178,896h2v9h-2zM1186,928h2v7h-2zM1233,933h2v12h-2zM1240,908h3v3h-3zM1218,922h3v5h-3zM1245,931h2v8h-2zM1219,892h2v13h-2zM1236,894h2v15h-2zM1224,907h2v11h-2zM1217,920h3v6h-3zM1234,917h2.5v15h-2.5zM1219,927h3v12h-3zM1224,911h3v7h-3zM1232,904h2v8h-2zM1245,921h3v4h-3zM1211,920h3v10h-3zM1205,926h2.5v12h-2.5zM1245,938h2v4h-2zM1247,912h3v5h-3zM1206,890h2v9h-2zM1220,894h3v6h-3zM1213,912h2v10h-2zM1214,939h2v4h-2zM1220,929h2.5v8h-2.5zM1215,924h3v4h-3zM1235,894h2.5v9h-2.5zM1247,895h2v10h-2zM1228,917h2.5v5h-2.5zM1226,886h3v6h-3zM1205,913h2v10h-2zM1216,914h3v6h-3zM1236,920h3v8h-3zM1205,899h3v11h-3zM1232,936h2v9h-2zM1225,933h2v7h-2zM1214,928h2v7h-2zM1237,944h2.5v11h-2.5zM1217,927h2v4h-2zM1204,924h2v8h-2zM1224,886h2.5v9h-2.5zM1217,889h2.5v6h-2.5zM1216,913h2.5v10h-2.5zM1209,901h2v6h-2zM1240,896h2v13h-2zM1214,944h2v3h-2zM1225,895h2v8h-2zM1211,910h3v9h-3zM1234,911h3v15h-3zM1212,942h2v5h-2zM1227,943h2v8h-2zM1225,943h3v11h-3zM1242,925h2.5v9h-2.5zM1233,897h2v7h-2zM1245,918h2v5h-2zM1235,884h2.5v8h-2.5zM1212,895h2.5v12h-2.5zM1221,903h2v15h-2zM1220,900h3v4h-3zM1202,904h2v13h-2zM1225,901h2v12h-2zM1219,913h3v14h-3zM1248,925h2v10h-2zM1287,894h2v5h-2zM1261,912h2.5v11h-2.5zM1292,918h2.5v6h-2.5zM1283,943h2v7h-2zM1280,899h2v10h-2zM1295,936h2v9h-2zM1254,895h2v11h-2zM1266,891h2v11h-2zM1268,896h2v12h-2zM1261,903h2.5v10h-2.5zM1260,934h2v7h-2zM1277,914h2v14h-2zM1265,895h2v7h-2zM1280,926h3v7h-3zM1260,889h2v15h-2zM1251,921h2v14h-2zM1256,918h2v7h-2zM1263,911h2v8h-2zM1266,884h3v5h-3zM1271,936h3v13h-3zM1251,894h3v4h-3zM1256,909h3v15h-3zM1262,936h2.5v14h-2.5zM1249,919h2v11h-2zM1261,887h2v4h-2zM1259,905h2.5v5h-2.5zM1283,944h2v14h-2zM1275,909h2v4h-2zM1267,888h3v15h-3zM1256,899h2.5v15h-2.5zM1263,919h2v9h-2zM1252,935h3v5h-3zM1292,917h2v11h-2zM1273,920h3v15h-3zM1278,942h3v7h-3zM1264,945h2v11h-2zM1283,935h2.5v14h-2.5zM1277,903h2v3h-2zM1285,925h3v14h-3zM1289,922h3v12h-3zM1292,904h2v7h-2zM1287,912h3v9h-3zM1286,890h2v14h-2zM1249,923h3v5h-3zM1275,939h2.5v3h-2.5zM1250,941h2.5v8h-2.5zM1277,897h2v14h-2zM1251,918h2.5v14h-2.5zM1316,889h3v3h-3zM1315,892h2v3h-2zM1332,931h2v5h-2zM1344,903h2v9h-2zM1381,934h2.5v8h-2.5zM1359,917h2v7h-2zM1386,891h3v7h-3zM1344,883h2v9h-2zM1381,907h2.5v5h-2.5zM1344,942h3v7h-3zM1382,921h2v5h-2zM1343,924h2v6h-2zM1346,899h2v9h-2zM1355,903h3v7h-3zM1345,932h2.5v5h-2.5zM1371,938h3v5h-3zM1382,898h3v10h-3zM1351,895h2v7h-2zM1372,936h2v6h-2zM1352,895h2v7h-2zM1360,890h2v10h-2zM1377,910h3v9h-3zM1379,895h2v9h-2zM1421,908h2.5v7h-2.5zM1431,927h2v4h-2zM1415,904h2v9h-2zM1434,920h2.5v8h-2.5zM1399,941h2v6h-2zM1403,894h2.5v12h-2.5zM1390,922h2v13h-2zM1421,918h3v5h-3zM1415,926h2v9h-2zM1421,884h2v9h-2zM1410,910h3v4h-3zM1417,893h2.5v11h-2.5zM1394,929h2.5v9h-2.5zM1423,936h2v10h-2zM1433,885h3v4h-3zM1416,937h3v7h-3zM1430,922h2v5h-2zM1402,942h2.5v9h-2.5zM1409,902h2v13h-2zM1402,920h2v4h-2zM1416,883h3v3h-3zM1428,904h3v14h-3zM1420,936h3v13h-3zM1417,942h2.5v8h-2.5zM1433,898h2v8h-2zM1407,925h3v6h-3zM1413,887h2.5v13h-2.5zM1404,887h2v6h-2zM1415,910h3v14h-3zM1409,883h2v5h-2zM1426,924h2v4h-2zM1406,940h2v11h-2zM1421,912h2v6h-2zM1392,889h2v5h-2zM1425,937h2.5v8h-2.5zM1418,887h3v8h-3zM1415,906h3v10h-3zM1470,923h2v5h-2zM1453,937h3v6h-3zM1442,939h2.5v10h-2.5zM1477,908h2.5v7h-2.5zM1473,914h2.5v6h-2.5zM1474,907h2v10h-2zM1450,892h2.5v6h-2.5zM1466,936h2.5v4h-2.5zM1492,939h2v9h-2zM1509,945h2v15h-2zM1495,887h3v11h-3zM1495,928h3v8h-3zM1509,884h2.5v10h-2.5zM1515,937h2v13h-2zM1503,942h2v14h-2zM1493,904h2v6h-2zM1513,915h2v11h-2zM1526,928h2v6h-2zM1491,933h2v12h-2zM1493,907h2.5v7h-2.5zM1510,934h2v4h-2zM1484,929h3v4h-3zM1516,916h2v10h-2zM1506,917h2.5v15h-2.5zM1518,942h3v3h-3zM1503,904h3v13h-3zM1526,930h2v7h-2zM1503,909h2.5v11h-2.5zM1505,922h2v15h-2zM1522,941h2v14h-2zM1520,900h2v5h-2zM1524,906h2.5v8h-2.5zM1500,943h2v5h-2zM1492,901h2.5v12h-2.5zM1504,926h3v3h-3zM1517,889h2v5h-2zM1514,915h2v3h-2zM1521,917h2v10h-2zM1522,915h3v14h-3zM1492,888h2v4h-2zM1523,937h3v8h-3zM1493,930h3v13h-3zM1502,930h2v13h-2zM1523,937h2.5v11h-2.5zM1504,943h2v5h-2zM1504,897h3v3h-3zM1495,915h3v14h-3zM1523,911h2v14h-2zM1508,921h2.5v10h-2.5zM1492,926h2.5v9h-2.5zM1493,897h2v6h-2zM1509,926h2v3h-2zM1492,909h3v13h-3zM1516,937h2.5v4h-2.5zM1483,900h2.5v14h-2.5zM1504,916h2v13h-2zM1525,925h3v11h-3zM1501,945h2.5v11h-2.5zM1494,916h2v12h-2zM1561,921h3v2h-3zM1558,935h2v3h-2zM1568,911h2v4h-2zM1557,890h2v6h-2zM1559,934h2v4h-2zM1565,927h2v2h-2zM1594,920h2v11h-2zM1587,903h2.5v11h-2.5zM1609,944h3v10h-3zM1608,908h3v9h-3zM1597,928h3v6h-3zM1588,924h3v6h-3zM1606,920h2v7h-2zM1652,927h2v8h-2zM1633,901h2v7h-2zM1632,933h2v8h-2zM1637,896h2v5h-2zM1641,886h3v10h-3zM1640,929h2v4h-2zM1703,884h2v6h-2zM1698,921h2v9h-2zM1706,907h2v4h-2zM1673,933h2v8h-2zM1674,884h2.5v7h-2.5zM1677,894h3v4h-3zM1695,920h2v8h-2zM1699,890h2v7h-2zM1691,937h2v7h-2zM1712,929h2.5v7h-2.5zM1687,934h2.5v4h-2.5zM1671,916h3v8h-3zM1681,891h2v7h-2zM1696,896h3v6h-3zM1687,896h2v5h-2zM1693,901h3v4h-3zM1687,883h2v6h-2zM1679,890h3v10h-3zM1735,908h2v10h-2zM1733,912h2v7h-2zM1716,906h2v12h-2zM1728,906h2v8h-2zM1720,935h2.5v10h-2.5zM1736,920h2v5h-2zM1721,930h2v14h-2zM1747,912h2v9h-2zM1716,893h2v7h-2zM1729,926h2v13h-2zM1733,922h3v7h-3zM1746,945h3v15h-3zM1751,921h2v11h-2zM1751,905h2.5v15h-2.5zM1731,916h2v13h-2zM1737,890h2.5v15h-2.5zM1735,902h2.5v15h-2.5zM1744,926h2v12h-2zM1754,922h2v10h-2zM1748,891h2.5v13h-2.5zM1758,908h2.5v9h-2.5zM1754,926h2v7h-2zM1731,918h2v13h-2zM1724,906h3v14h-3zM1757,888h2.5v6h-2.5zM1757,933h2.5v10h-2.5zM1761,943h2v6h-2zM1758,893h3v15h-3zM1752,919h2.5v10h-2.5zM1731,935h2v8h-2zM1731,923h2v3h-2zM1736,942h2.5v4h-2.5zM1732,906h2v8h-2zM1752,938h2v4h-2zM1729,913h2v6h-2zM1761,911h2.5v10h-2.5zM1751,915h2v13h-2zM1723,942h2v14h-2zM1725,941h3v13h-3zM1739,923h2v11h-2zM1739,916h2v15h-2zM1804,921h3v7h-3zM1794,914h3v9h-3zM1778,927h2v7h-2zM1774,908h2.5v4h-2.5zM1775,916h2.5v5h-2.5zM1783,932h2v11h-2zM1764,909h3v8h-3zM1800,907h2.5v7h-2.5zM1775,892h2.5v8h-2.5zM1787,925h2.5v5h-2.5zM1771,907h2v6h-2zM1801,888h2v6h-2zM1788,901h2v10h-2zM1800,919h2.5v7h-2.5zM1776,924h2v6h-2zM1808,914h2.5v7h-2.5zM1808,903h3v10h-3zM1769,902h2v3h-2zM1776,893h3v10h-3zM1766,896h2v5h-2zM1763,945h2v7h-2zM1787,927h2v6h-2zM1776,942h2.5v11h-2.5zM1767,910h2v9h-2zM1808,904h2v11h-2zM1794,938h2v7h-2zM1791,936h2v8h-2zM1805,924h2v6h-2zM1799,910h2v6h-2zM1791,886h3v11h-3zM1807,916h2v8h-2zM1789,914h3v9h-3zM1787,900h2.5v6h-2.5zM1787,906h2.5v6h-2.5zM1770,889h3v9h-3zM1836,904h2v10h-2zM1825,913h2.5v6h-2.5zM1814,923h2v7h-2zM1809,937h2v6h-2zM1844,913h3v10h-3zM1830,899h3v11h-3zM1811,943h2v5h-2zM1839,887h3v7h-3zM1846,889h2v8h-2zM1827,889h2v3h-2zM1810,919h2v7h-2zM1839,883h2.5v5h-2.5zM1838,939h2v8h-2zM1842,921h2.5v6h-2.5zM1834,934h3v4h-3zM1832,897h2v5h-2zM1845,925h3v4h-3zM1850,926h2.5v6h-2.5zM1831,897h3v9h-3zM1843,897h2v8h-2zM1839,938h2v11h-2zM1839,884h3v6h-3zM1854,923h3v11h-3zM1809,919h2v3h-2zM1854,925h3v8h-3zM1849,933h2v10h-2zM1850,944h3v10h-3zM1817,893h2v6h-2zM1832,890h3v3h-3zM1835,944h2v3h-2zM1824,903h2.5v4h-2.5zM1853,895h2v11h-2zM1849,905h3v9h-3zM1817,943h2.5v4h-2.5zM1843,899h2.5v9h-2.5zM1847,933h3v7h-3zM1822,896h2v4h-2zM1822,927h3v9h-3zM1833,901h2v8h-2zM1824,936h2.5v3h-2.5zM1845,942h2.5v4h-2.5z"/></g>
<g clip-path="url(#cB)"><path fill="#F08A5E" d="M1266,1071h2v3h-2zM1292,1085h2.5v2h-2.5zM1254,1072h3v2h-3zM1364,1082h2v3h-2zM1390,1094h3v3h-3zM1396,1074h3v3h-3zM1482,1071h2v5h-2zM1480,1048h2.5v10h-2.5zM1453,1103h3v4h-3zM1454,1078h2v8h-2zM1450,1098h2v5h-2zM1455,1060h2v4h-2zM1477,1052h2.5v8h-2.5zM1454,1053h2v8h-2zM1453,1084h2v5h-2zM1562,1053h2.5v10h-2.5zM1538,1102h2.5v9h-2.5zM1550,1074h2.5v5h-2.5zM1561,1054h2v10h-2zM1556,1101h2v5h-2zM1579,1063h2v8h-2zM1534,1103h2v7h-2zM1537,1080h3v9h-3zM1571,1041h2.5v10h-2.5zM1564,1044h3v4h-3zM1569,1044h3v11h-3zM1564,1050h3v7h-3zM1607,1102h2.5v11h-2.5zM1611,1070h2v9h-2zM1600,1062h3v5h-3zM1650,1048h2.5v5h-2.5zM1635,1100h2v6h-2zM1765,1096h2.5v7h-2.5zM1739,1091h3v7h-3zM1786,1105h2v8h-2zM1808,1054h3v4h-3zM1814,1103h2v7h-2zM1799,1064h2v7h-2zM1811,1077h2v3h-2zM1793,1099h2v11h-2zM1849,1088h2v9h-2zM1827,1098h2v6h-2zM1853,1091h2v8h-2zM1819,1090h2v4h-2zM1846,1065h3v9h-3z"/><path fill="#F29A35" d="M1198,1053h2.5v6h-2.5zM1184,1042h2v3h-2zM1202,1047h2v6h-2zM1187,1047h2v6h-2zM1202,1084h2v4h-2zM1182,1060h3v3h-3zM1185,1081h2v11h-2zM1192,1099h2.5v11h-2.5zM1249,1091h2v9h-2zM1221,1066h3v13h-3zM1212,1087h2.5v14h-2.5zM1218,1046h2v6h-2zM1246,1043h2v10h-2zM1225,1100h2.5v10h-2.5zM1214,1043h2v7h-2zM1269,1050h2v3h-2zM1273,1045h2v3h-2zM1269,1075h2.5v5h-2.5zM1307,1064h2.5v7h-2.5zM1394,1057h2v5h-2zM1423,1049h2.5v6h-2.5zM1424,1092h2v4h-2zM1457,1075h3v7h-3zM1458,1100h2v6h-2zM1450,1096h3v8h-3zM1486,1053h2.5v6h-2.5zM1445,1080h2.5v9h-2.5zM1466,1101h2v4h-2zM1479,1083h2v8h-2zM1515,1067h2v12h-2zM1522,1084h2v5h-2zM1491,1080h3v11h-3zM1498,1064h2.5v12h-2.5zM1508,1099h3v6h-3zM1516,1044h3v3h-3zM1532,1079h2v14h-2zM1530,1084h2.5v3h-2.5zM1502,1101h3v11h-3zM1496,1058h2v5h-2zM1532,1043h2.5v3h-2.5zM1514,1048h3v9h-3zM1523,1055h2v4h-2zM1514,1047h2v7h-2zM1500,1069h3v5h-3zM1523,1085h2.5v5h-2.5zM1502,1054h2v10h-2zM1577,1051h2v4h-2zM1579,1098h3v9h-3zM1565,1102h2v5h-2zM1535,1054h2v5h-2zM1564,1098h3v11h-3zM1561,1069h2.5v7h-2.5zM1576,1046h2v8h-2zM1591,1100h2v7h-2zM1618,1050h2v11h-2zM1615,1101h3v6h-3zM1607,1070h3v4h-3zM1612,1083h2.5v9h-2.5zM1597,1066h2v10h-2zM1607,1073h2.5v3h-2.5zM1614,1086h2v4h-2zM1586,1052h2v6h-2zM1602,1077h3v8h-3zM1599,1062h3v4h-3zM1621,1083h3v4h-3zM1619,1056h2v9h-2zM1602,1086h2v10h-2zM1592,1049h2v11h-2zM1598,1084h2.5v9h-2.5zM1640,1058h3v7h-3zM1712,1083h2v4h-2zM1716,1092h2v5h-2zM1728,1091h2v6h-2zM1755,1064h3v7h-3zM1741,1092h2v6h-2zM1800,1076h2.5v7h-2.5zM1802,1070h3v7h-3zM1783,1070h2v5h-2zM1783,1045h2.5v6h-2.5zM1804,1072h2v6h-2zM1800,1095h2v10h-2zM1800,1103h2v10h-2zM1801,1047h2.5v3h-2.5zM1781,1080h2.5v4h-2.5zM1795,1089h2.5v4h-2.5zM1780,1074h2v8h-2zM1793,1104h2.5v4h-2.5zM1847,1093h2v7h-2zM1855,1063h2v8h-2zM1835,1052h3v11h-3zM1853,1095h2v6h-2zM1830,1044h3v8h-3zM1831,1103h2v5h-2zM1848,1043h2v3h-2zM1857,1100h2.5v8h-2.5z"/><path fill="#FFE42A" d="M1204,1066h2.5v5h-2.5zM1185,1059h2v14h-2zM1182,1085h2.5v12h-2.5zM1185,1075h2v3h-2zM1201,1087h3v14h-3zM1199,1091h3v6h-3zM1205,1100h2v13h-2zM1182,1051h2v3h-2zM1200,1082h2v7h-2zM1184,1059h2v5h-2zM1200,1104h2v14h-2zM1198,1048h2v11h-2zM1196,1043h3v13h-3zM1200,1041h3v11h-3zM1204,1053h2v9h-2zM1204,1056h2.5v9h-2.5zM1201,1100h2v5h-2zM1184,1079h2.5v11h-2.5zM1202,1085h2v8h-2zM1185,1050h2.5v11h-2.5zM1202,1055h2v14h-2zM1191,1092h3v8h-3zM1197,1085h3v4h-3zM1203,1076h2.5v6h-2.5zM1181,1088h2v8h-2zM1200,1060h2v7h-2zM1196,1092h2.5v11h-2.5zM1200,1046h2v6h-2zM1185,1066h2v12h-2zM1229,1062h3v4h-3zM1246,1048h2v4h-2zM1244,1080h2v9h-2zM1243,1072h3v8h-3zM1236,1072h2.5v11h-2.5zM1226,1082h2v6h-2zM1220,1054h2v13h-2zM1215,1078h2v15h-2zM1241,1041h2v4h-2zM1231,1085h2.5v9h-2.5zM1235,1087h3v14h-3zM1225,1063h2.5v10h-2.5zM1248,1079h2.5v9h-2.5zM1212,1043h3v9h-3zM1244,1061h3v12h-3zM1238,1052h2v8h-2zM1226,1054h3v8h-3zM1234,1095h2v10h-2zM1220,1090h2.5v4h-2.5zM1208,1099h2v11h-2zM1241,1095h2v11h-2zM1220,1047h2v12h-2zM1227,1066h2v14h-2zM1211,1049h2v6h-2zM1223,1067h3v14h-3zM1212,1089h2.5v5h-2.5zM1247,1055h2.5v11h-2.5zM1242,1057h2.5v9h-2.5zM1233,1097h2.5v7h-2.5zM1210,1099h2.5v14h-2.5zM1228,1099h3v6h-3zM1230,1062h3v3h-3zM1246,1050h3v4h-3zM1219,1091h2v5h-2zM1218,1053h2v3h-2zM1244,1072h2v12h-2zM1238,1067h2v11h-2zM1219,1071h2v4h-2zM1230,1051h2v7h-2zM1209,1100h2.5v5h-2.5zM1210,1095h2.5v7h-2.5zM1287,1056h3v2h-3zM1331,1095h2v5h-2zM1438,1096h3v5h-3zM1403,1102h2.5v2h-2.5zM1433,1087h2.5v3h-2.5zM1444,1087h2v8h-2zM1452,1075h3v10h-3zM1450,1097h3v4h-3zM1445,1092h3v8h-3zM1453,1100h2.5v5h-2.5zM1509,1061h3v6h-3zM1509,1099h2v15h-2zM1505,1073h3v7h-3zM1489,1044h2v12h-2zM1514,1071h2v15h-2zM1512,1092h2.5v9h-2.5zM1531,1092h3v12h-3zM1523,1054h3v5h-3zM1491,1062h2v9h-2zM1501,1103h3v9h-3zM1505,1074h2.5v5h-2.5zM1525,1074h3v14h-3zM1524,1082h2v8h-2zM1528,1098h2v12h-2zM1515,1057h2v9h-2zM1510,1064h3v9h-3zM1507,1101h2v7h-2zM1529,1059h2v12h-2zM1518,1056h2.5v3h-2.5zM1491,1062h2v12h-2zM1519,1071h2.5v14h-2.5zM1497,1098h2v10h-2zM1506,1047h2.5v10h-2.5zM1510,1060h2.5v13h-2.5zM1514,1086h2v13h-2zM1492,1092h2v10h-2zM1518,1059h2v13h-2zM1519,1092h2.5v15h-2.5zM1500,1084h3v15h-3zM1526,1101h2.5v10h-2.5zM1523,1059h2v13h-2zM1492,1049h3v12h-3zM1575,1075h2v4h-2zM1568,1089h2v5h-2zM1546,1059h2v10h-2zM1574,1069h3v8h-3zM1561,1079h3v6h-3zM1542,1091h2v4h-2zM1569,1044h2v9h-2zM1583,1055h2.5v11h-2.5zM1601,1060h2v6h-2zM1612,1042h2.5v5h-2.5zM1582,1053h3v10h-3zM1596,1074h2v10h-2zM1583,1064h2.5v7h-2.5zM1603,1101h2v10h-2zM1635,1049h2v3h-2zM1664,1087h2.5v5h-2.5zM1641,1091h3v5h-3zM1666,1081h2.5v6h-2.5zM1723,1102h2v6h-2zM1755,1077h2.5v3h-2.5zM1799,1056h2v3h-2zM1795,1043h2.5v7h-2.5zM1814,1061h3v9h-3zM1802,1079h2.5v4h-2.5zM1798,1058h2.5v5h-2.5zM1768,1103h2v7h-2zM1814,1090h2v11h-2zM1779,1094h2.5v5h-2.5zM1839,1104h2v11h-2zM1856,1062h3v4h-3zM1818,1047h2.5v4h-2.5zM1834,1092h2.5v4h-2.5zM1818,1044h2v8h-2zM1818,1105h2v6h-2zM1819,1086h2.5v8h-2.5zM1854,1045h2v6h-2zM1834,1055h2v4h-2zM1857,1099h2v8h-2zM1835,1056h2.5v6h-2.5zM1847,1063h3v6h-3zM1848,1054h2v9h-2zM1823,1097h2v10h-2zM1831,1089h3v11h-3zM1817,1082h2.5v9h-2.5zM1850,1042h2.5v11h-2.5z"/></g>
<g clip-path="url(#cA)"><path fill="#F08A5E" d="M1174,1246h3v3h-3zM1212,1220h3v3h-3zM1334,1231h2v3h-2zM1341,1178h3v7h-3zM1352,1210h3v5h-3zM1361,1244h2v6h-2zM1457,1229h2v5h-2zM1468,1202h2.5v5h-2.5zM1488,1194h2.5v3h-2.5zM1533,1193h2v3h-2zM1595,1204h3v7h-3zM1698,1218h2v5h-2zM1739,1223h3v3h-3zM1814,1239h2v9h-2zM1814,1186h3v8h-3zM1823,1247h3v6h-3zM1825,1236h2v6h-2zM1812,1178h2.5v8h-2.5zM1831,1189h2v6h-2z"/><path fill="#F29A35" d="M1239,1173h3v6h-3zM1239,1236h2v2h-2zM1260,1195h2.5v4h-2.5zM1286,1201h3v4h-3zM1272,1213h3v4h-3zM1311,1249h2v7h-2zM1349,1255h2.5v5h-2.5zM1378,1201h2.5v5h-2.5zM1567,1219h2v6h-2zM1573,1174h2.5v3h-2.5zM1610,1248h2.5v3h-2.5zM1650,1243h2v6h-2zM1669,1204h2.5v7h-2.5zM1738,1208h3v5h-3zM1773,1260h2v6h-2zM1776,1179h2v3h-2zM1771,1227h3v3h-3zM1789,1200h2v2h-2zM1806,1190h2v3h-2zM1773,1241h2.5v2h-2.5zM1846,1175h2v5h-2zM1851,1219h2v8h-2zM1835,1231h2v11h-2zM1830,1243h2v8h-2zM1828,1225h2.5v7h-2.5zM1836,1200h2v4h-2zM1811,1196h2v7h-2zM1849,1200h3v11h-3z"/><path fill="#FFE42A" d="M1195,1187h2.5v5h-2.5zM1175,1181h2v2h-2zM1180,1228h2v4h-2zM1213,1201h3v4h-3zM1211,1172h3v5h-3zM1294,1187h2.5v5h-2.5zM1393,1242h3v6h-3zM1764,1261h2.5v6h-2.5zM1843,1214h3v9h-3zM1837,1209h2.5v6h-2.5zM1846,1173h2v10h-2zM1831,1261h3v3h-3zM1834,1173h2v4h-2zM1844,1186h3v7h-3zM1824,1179h2v8h-2zM1841,1245h2.5v6h-2.5zM1841,1243h2v5h-2zM1827,1175h2v5h-2zM1813,1224h2v6h-2zM1848,1253h2v8h-2zM1836,1173h2v8h-2zM1834,1220h2.5v10h-2.5zM1836,1173h2v7h-2z"/></g>
<path d="M1538.5,493.6 Q1596,541 1661.3,497.6 L1661.3,527 C1640,533 1620,536 1599.2,537.2 C1580,537 1558,533 1538.5,525.3 ZM1432,613 L1464,636 L1464,690 L1458,690 L1432,648 ZM1525,681.5 Q1586,700 1649,678 L1649,699 Q1586,745 1525,699 ZM1365.3,917H1457.6V946.8H1365.3ZM1245.7,1075H1341.3V1106.4H1245.7ZM1368.2,1046.3H1463.8V1067.6H1368.2ZM1615.4,1075H1647.2V1106.4H1615.4ZM1238.2,1176.5H1333.8V1192.2H1238.2ZM1300.5,1204H1333.8V1264.2H1300.5ZM1423,1204H1456.3V1264.2H1423ZM1484.2,1204H1517.5V1264.2H1484.2ZM1546,1204.7H1578V1264.2H1546ZM1607,1176.5H1639.5V1194.8H1607ZM1607,1204.7H1639.5V1264.2H1607ZM1668,1204.7H1701V1249.7H1668ZM1729.6,1204.7H1759.3V1249.7H1729.6ZM1791,1204.7H1824V1249.7H1791Z" fill="#060000"/>
<path clip-path="url(#cH)" d="M1314.3,60V560M1361.1,60V560M1407.9,60V560M1454.7,60V560M1501.5,60V560M1548.2,60V560M1595,60V560M1641.8,60V560M1688.6,60V560M1735.4,60V560M1782.2,60V560M1829,60V560" stroke="#FFABA8" stroke-width="2.6" fill="none"/>
<path clip-path="url(#cG)" d="M1302.4,350V760M1349.1,350V760M1395.9,350V760M1442.6,350V760M1489.3,350V760M1536.1,350V760M1582.8,350V760M1629.5,350V760M1676.2,350V760M1723,350V760M1769.7,350V760M1816.4,350V760" stroke="#FFABA8" stroke-width="2.6" fill="none"/>
<path clip-path="url(#cF3)" d="M1127.3,570V650M1174.7,570V650" stroke="#FFABA8" stroke-width="2.6" fill="none"/>
<path clip-path="url(#cE)" d="M1089,665V735M1136,665V735M1181,665V735M1229.6,665V735M1277,665V735" stroke="#FFABA8" stroke-width="2.6" fill="none"/>
<path clip-path="url(#cE12)" d="M1816.4,630V745" stroke="#FFABA8" stroke-width="2.6" fill="none"/>
<path clip-path="url(#cDL)" d="M1127,780V860M1174,780V860M1220,780V860M1267.5,780V860M1314.8,780V860M1361,780V860" stroke="#FFABA8" stroke-width="2.6" fill="none"/>
<path clip-path="url(#cDR)" d="M1715.5,780V860M1762.4,780V860M1809.3,780V860" stroke="#FFABA8" stroke-width="2.6" fill="none"/>
<path clip-path="url(#cC)" d="M1200.5,885V950M1248.9,885V950M1295.7,885V950M1342.2,885V950M1389.5,885V950M1435.6,885V950M1481.8,885V950M1529,885V950M1576,885V950M1623,885V950M1648.7,885V950M1670,885V950M1715.5,885V950M1762.4,885V950M1809.3,885V950" stroke="#FFABA8" stroke-width="2.6" fill="none"/>
<path clip-path="url(#cB)" d="M1206,1040V1110M1251,1040V1110M1298.4,1040V1110M1345.6,1040V1110M1393,1040V1110M1440,1040V1110M1487.4,1040V1110M1533,1040V1110M1580,1040V1110M1627.4,1040V1110M1673.6,1040V1110M1722,1040V1110M1768,1040V1110M1815.3,1040V1110" stroke="#FFABA8" stroke-width="2.6" fill="none"/>
<path clip-path="url(#cA)" d="M1198.5,1170V1270M1244.7,1170V1270M1292,1170V1270M1338,1170V1270M1386.5,1170V1270M1432.6,1170V1270M1480,1170V1270M1525,1170V1270M1572.5,1170V1270M1618.7,1170V1270M1664.8,1170V1270M1714,1170V1270M1761.5,1170V1270M1807.6,1170V1270" stroke="#FFABA8" stroke-width="2.6" fill="none"/>
<path d="M1444.5,311 L1479.3,364 L1479.3,417 L1447,372 L1444.5,372 Z" fill="#fefefe"/>
<path d="M1444.5,432 L1451,434 L1455,452 L1444.5,449 Z" fill="#fefefe"/>
<path d="M1292,1197H1334M1607,1199H1640" stroke="#FFABA8" stroke-width="2" fill="none"/>
<path d="M1488.8,729 C1497,731.7 1521.9,741.6 1538,745 C1554.1,748.4 1570.3,749.5 1585.6,749.5 C1600.9,749.5 1615,747.9 1630,745 C1645,742.1 1667.9,734.2 1675.5,732" stroke="#1c0606" stroke-width="1.2" fill="none"/>
<path d="M1284.6,75 C1289.5,80.9 1301.1,94.4 1314,110.6 C1326.9,126.8 1346.3,149.4 1362,172 C1377.7,194.6 1394.2,223 1408,246 C1421.8,269 1433.2,291.3 1445,310 C1456.8,328.7 1469.7,345.6 1479,358 C1488.3,370.4 1494.2,376.3 1501,384.6 C1507.8,392.9 1512.2,399.9 1520,407.7 C1527.8,415.5 1537.8,424.8 1547.7,431.5 C1557.6,438.2 1571.4,445 1579.4,448 C1587.5,451 1590.5,449.5 1596,449.5 C1601.5,449.5 1604.7,449.7 1612.5,448 C1620.3,446.3 1634.9,442.1 1642.8,439.4 C1650.7,436.6 1652.1,436.6 1660,431.5 C1667.9,426.4 1681.2,417.6 1690.4,409 C1699.7,400.4 1707.9,388.4 1715.5,380 C1723.1,371.6 1725,369.8 1736,358.5 C1747,347.2 1765.9,326 1781.5,312 C1797.1,298 1814,284.6 1829.5,274.5 C1845,264.4 1867.2,255.3 1874.7,251.5 L1874.7,351.8 C1867.2,358.1 1844.8,376.3 1830,389.5 C1815.2,402.7 1801.5,416.1 1786,431 C1770.5,445.9 1748.3,468.1 1737,479 C1725.7,489.9 1725.5,490.9 1718,496.2 C1710.5,501.5 1700.5,506.2 1691.7,510.8 C1682.9,515.4 1671.9,520.9 1665.3,524 C1658.7,527.1 1658.6,527.4 1652,529.3 C1645.4,531.2 1634.5,533.9 1625.7,535.2 C1616.9,536.5 1606.9,537 1599.2,537.2 C1591.5,537.4 1586,537.2 1579.4,536.5 C1572.8,535.8 1566.4,535.1 1559.6,533.2 C1552.8,531.3 1545.1,527.9 1538.5,525.3 C1531.9,522.7 1525.9,520.9 1520,517.4 C1514.1,513.9 1509.5,509.1 1503,504 C1496.5,498.9 1490.7,496.5 1481,487 C1471.3,477.5 1457.2,460.8 1445,447 C1432.8,433.2 1421.8,421.5 1408,404 C1394.2,386.5 1377.8,366.7 1362,342 C1346.2,317.3 1326.4,278.3 1313.5,256 C1300.6,233.7 1289.4,216 1284.6,208 Z" stroke="#3a0f0f" stroke-width="2" fill="none"/>
<path d="M1270,365.4 C1275.4,373.9 1289.6,394.6 1302.4,416.2 C1315.2,437.8 1331.9,469.9 1347,494.8 C1362.1,519.7 1378.6,545.6 1393.2,565.6 C1407.8,585.6 1418.9,599.1 1434.8,615 C1450.7,630.9 1471.8,649.5 1488.8,661 C1505.8,672.5 1520.4,679.3 1536.5,684.3 C1552.6,689.3 1570,691.2 1585.6,691 C1601.2,690.8 1615,686.8 1630,683 C1645,679.2 1660.2,675.6 1675.5,668 C1690.8,660.4 1706,649.9 1721.7,637.3 C1737.5,624.7 1754,607.6 1770,592.2 C1786,576.8 1802.1,559.3 1817.5,544.8 C1832.9,530.3 1855.1,511.8 1862.6,505.2 L1862.6,577.9 C1855.1,585.6 1832.9,608.4 1817.5,624 C1802.1,639.6 1786,657.8 1770,671.4 C1754,685 1737.5,695.5 1721.7,705.6 C1706,715.7 1683.2,727.6 1675.5,732 L1675,750 L1490,750 L1488.8,729 C1479.8,722.8 1450.7,704.6 1434.8,692 C1418.9,679.4 1407.8,669.3 1393.2,653.4 C1378.6,637.5 1362.1,617.3 1347,596.5 C1331.9,575.7 1315.2,549.8 1302.4,528.7 C1289.6,507.6 1275.4,479.8 1270,470 Z" stroke="#3a0f0f" stroke-width="2" fill="none"/>
<path d="M1131,455 Q1121,488 1109.8,524.3 L1169.7,524.3 Z" stroke="#3a0f0f" stroke-width="2" fill="none"/>
<path d="M1118.6,574.2 L1183.4,574.2 L1233.3,646.6 L1083.6,646.6 Q1100,608 1118.6,574.2 Z" stroke="#3a0f0f" stroke-width="2" fill="none"/>
<path d="M1088.6,670.8 L1243.3,670.8 L1294.5,730.1 L1068.7,730.1 Q1072,695 1088.6,670.8 Z" stroke="#3a0f0f" stroke-width="2" fill="none"/>
<path d="M1764.6,739.7 L1861.5,739.7 L1861.5,641.7 Q1815,682 1764.6,739.7 Z" stroke="#3a0f0f" stroke-width="2" fill="none"/>
<path d="M1105,784.2 L1334.6,784.2 C1350,796 1375,815 1406,834.7 L1406,856.7 L1101.6,856.7 Q1101,818 1105,784.2 Z" stroke="#3a0f0f" stroke-width="2" fill="none"/>
<path d="M1669.8,839.5 C1690,832 1735,808 1760,784.4 L1853.8,784.4 L1853.8,857.1 L1669.8,857.1 Z" stroke="#3a0f0f" stroke-width="2" fill="none"/>
<path d="M1175.2,888.4 L1855,888.4 L1855,946.8 L1175.2,946.8 Z" stroke="#3a0f0f" stroke-width="2" fill="none"/>
<path d="M1180.2,1046.3 L1859.3,1046.3 L1859.3,1106.4 L1180.2,1106.4 Z" stroke="#3a0f0f" stroke-width="2" fill="none"/>
<path d="M1173.8,1176.5 L1851.6,1176.5 L1851.6,1264.2 L1173.8,1264.2 Z" stroke="#3a0f0f" stroke-width="2" fill="none"/>
<g font-family="Liberation Sans, Arial, sans-serif" font-weight="bold" font-size="21" fill="#000" stroke="#000" stroke-width="1.3" text-anchor="middle"><text x="293" y="344" textLength="31" lengthAdjust="spacingAndGlyphs">H-13</text><text x="338" y="417" textLength="31" lengthAdjust="spacingAndGlyphs">H-12</text><text x="296" y="447" textLength="31" lengthAdjust="spacingAndGlyphs">G-13</text><text x="387" y="485" textLength="31" lengthAdjust="spacingAndGlyphs">H-11</text><text x="340" y="519" textLength="31" lengthAdjust="spacingAndGlyphs">G-12</text><text x="290" y="534" textLength="23" lengthAdjust="spacingAndGlyphs">F-4</text><text x="432" y="544" textLength="31" lengthAdjust="spacingAndGlyphs">G-10</text><text x="392" y="587" textLength="31" lengthAdjust="spacingAndGlyphs">G-11</text><text x="475" y="602" textLength="23" lengthAdjust="spacingAndGlyphs">H-9</text><text x="520" y="619" textLength="23" lengthAdjust="spacingAndGlyphs">H-8</text><text x="570" y="635" textLength="23" lengthAdjust="spacingAndGlyphs">H-7</text><text x="620" y="644" textLength="23" lengthAdjust="spacingAndGlyphs">H-6</text><text x="670" y="619" textLength="23" lengthAdjust="spacingAndGlyphs">H-5</text><text x="716" y="595" textLength="23" lengthAdjust="spacingAndGlyphs">H-4</text><text x="753" y="565" textLength="23" lengthAdjust="spacingAndGlyphs">H-3</text><text x="815" y="517" textLength="23" lengthAdjust="spacingAndGlyphs">H-2</text><text x="856" y="477" textLength="23" lengthAdjust="spacingAndGlyphs">H-1</text><text x="858" y="582" textLength="23" lengthAdjust="spacingAndGlyphs">G-1</text><text x="818" y="617" textLength="23" lengthAdjust="spacingAndGlyphs">G-2</text><text x="240" y="605" textLength="23" lengthAdjust="spacingAndGlyphs">F-3</text><text x="297" y="610" textLength="23" lengthAdjust="spacingAndGlyphs">F-2</text><text x="327" y="613" textLength="23" lengthAdjust="spacingAndGlyphs">F-1</text><text x="203" y="662" textLength="23" lengthAdjust="spacingAndGlyphs">E-7</text><text x="245" y="667" textLength="23" lengthAdjust="spacingAndGlyphs">E-6</text><text x="300" y="673" textLength="23" lengthAdjust="spacingAndGlyphs">E-5</text><text x="333" y="674" textLength="23" lengthAdjust="spacingAndGlyphs">E-4</text><text x="380" y="661" textLength="23" lengthAdjust="spacingAndGlyphs">E-3</text><text x="432" y="647" textLength="31" lengthAdjust="spacingAndGlyphs">G-10</text><text x="478" y="701" textLength="23" lengthAdjust="spacingAndGlyphs">G-9</text><text x="523" y="721" textLength="23" lengthAdjust="spacingAndGlyphs">G-8</text><text x="672" y="723" textLength="23" lengthAdjust="spacingAndGlyphs">G-5</text><text x="718" y="698" textLength="23" lengthAdjust="spacingAndGlyphs">G-4</text><text x="757" y="668" textLength="23" lengthAdjust="spacingAndGlyphs">G-3</text><text x="816" y="675" textLength="23" lengthAdjust="spacingAndGlyphs">E-2</text><text x="862" y="667" textLength="23" lengthAdjust="spacingAndGlyphs">E-1</text><text x="200" y="725" textLength="31" lengthAdjust="spacingAndGlyphs">D-11</text><text x="243" y="727" textLength="31" lengthAdjust="spacingAndGlyphs">D-10</text><text x="289" y="738" textLength="23" lengthAdjust="spacingAndGlyphs">D-9</text><text x="336" y="739" textLength="23" lengthAdjust="spacingAndGlyphs">D-8</text><text x="380" y="740" textLength="23" lengthAdjust="spacingAndGlyphs">D-7</text><text x="424" y="745" textLength="23" lengthAdjust="spacingAndGlyphs">D-6</text><text x="478" y="750" textLength="23" lengthAdjust="spacingAndGlyphs">D-5</text><text x="572" y="738" textLength="23" lengthAdjust="spacingAndGlyphs">G-7</text><text x="621" y="745" textLength="23" lengthAdjust="spacingAndGlyphs">G-6</text><text x="720" y="745" textLength="23" lengthAdjust="spacingAndGlyphs">D-4</text><text x="770" y="733" textLength="23" lengthAdjust="spacingAndGlyphs">D-3</text><text x="818" y="733" textLength="23" lengthAdjust="spacingAndGlyphs">D-2</text><text x="858" y="723" textLength="23" lengthAdjust="spacingAndGlyphs">D-1</text><text x="203" y="787" textLength="31" lengthAdjust="spacingAndGlyphs">C-15</text><text x="244" y="788" textLength="31" lengthAdjust="spacingAndGlyphs">C-14</text><text x="290" y="788" textLength="31" lengthAdjust="spacingAndGlyphs">C-13</text><text x="338" y="788" textLength="31" lengthAdjust="spacingAndGlyphs">C-12</text><text x="386" y="789" textLength="31" lengthAdjust="spacingAndGlyphs">C-11</text><text x="430" y="789" textLength="31" lengthAdjust="spacingAndGlyphs">C-10</text><text x="478" y="785" textLength="23" lengthAdjust="spacingAndGlyphs">C-9</text><text x="525" y="785" textLength="23" lengthAdjust="spacingAndGlyphs">C-8</text><text x="572" y="788" textLength="23" lengthAdjust="spacingAndGlyphs">C-7</text><text x="614" y="792" textLength="23" lengthAdjust="spacingAndGlyphs">C-6</text><text x="670" y="796" textLength="23" lengthAdjust="spacingAndGlyphs">C-5</text><text x="718" y="783" textLength="23" lengthAdjust="spacingAndGlyphs">C-4</text><text x="766" y="787" textLength="23" lengthAdjust="spacingAndGlyphs">C-3</text><text x="806" y="789" textLength="23" lengthAdjust="spacingAndGlyphs">C-2</text><text x="858" y="787" textLength="23" lengthAdjust="spacingAndGlyphs">C-1</text><text x="203" y="850" textLength="31" lengthAdjust="spacingAndGlyphs">B-15</text><text x="244" y="852" textLength="31" lengthAdjust="spacingAndGlyphs">B-14</text><text x="290" y="852" textLength="31" lengthAdjust="spacingAndGlyphs">B-13</text><text x="338" y="852" textLength="31" lengthAdjust="spacingAndGlyphs">B-12</text><text x="390" y="850" textLength="31" lengthAdjust="spacingAndGlyphs">B-11</text><text x="424" y="853" textLength="31" lengthAdjust="spacingAndGlyphs">B-10</text><text x="478" y="848" textLength="23" lengthAdjust="spacingAndGlyphs">B-9</text><text x="526" y="848" textLength="23" lengthAdjust="spacingAndGlyphs">B-8</text><text x="572" y="850" textLength="23" lengthAdjust="spacingAndGlyphs">B-7</text><text x="614" y="855" textLength="23" lengthAdjust="spacingAndGlyphs">B-6</text><text x="672" y="859" textLength="23" lengthAdjust="spacingAndGlyphs">B-5</text><text x="720" y="845" textLength="23" lengthAdjust="spacingAndGlyphs">B-4</text><text x="766" y="850" textLength="23" lengthAdjust="spacingAndGlyphs">B-3</text><text x="808" y="852" textLength="23" lengthAdjust="spacingAndGlyphs">B-2</text><text x="858" y="851" textLength="23" lengthAdjust="spacingAndGlyphs">B-1</text><text x="205" y="902" textLength="31" lengthAdjust="spacingAndGlyphs">A-15</text><text x="247" y="903" textLength="31" lengthAdjust="spacingAndGlyphs">A-14</text><text x="292" y="902" textLength="31" lengthAdjust="spacingAndGlyphs">A-13</text><text x="336" y="900" textLength="31" lengthAdjust="spacingAndGlyphs">A-12</text><text x="390" y="900" textLength="31" lengthAdjust="spacingAndGlyphs">A-11</text><text x="426" y="904" textLength="31" lengthAdjust="spacingAndGlyphs">A-10</text><text x="484" y="901" textLength="23" lengthAdjust="spacingAndGlyphs">A-9</text><text x="529" y="899" textLength="23" lengthAdjust="spacingAndGlyphs">A-8</text><text x="572" y="899" textLength="23" lengthAdjust="spacingAndGlyphs">A-7</text><text x="618" y="905" textLength="23" lengthAdjust="spacingAndGlyphs">A-6</text><text x="672" y="909" textLength="23" lengthAdjust="spacingAndGlyphs">A-5</text><text x="720" y="896" textLength="23" lengthAdjust="spacingAndGlyphs">A-4</text><text x="766" y="900" textLength="23" lengthAdjust="spacingAndGlyphs">A-3</text><text x="810" y="901" textLength="23" lengthAdjust="spacingAndGlyphs">A-2</text><text x="858" y="901" textLength="23" lengthAdjust="spacingAndGlyphs">A-1</text><text x="919" y="915" textLength="23" lengthAdjust="spacingAndGlyphs">A-1</text></g>
<g font-family="Liberation Sans, Arial, sans-serif" font-weight="bold" font-size="21" fill="#000" stroke="#000" stroke-width="1.3" text-anchor="middle"><text x="1282" y="250" textLength="31" lengthAdjust="spacingAndGlyphs">H-13</text><text x="1333" y="338" textLength="31" lengthAdjust="spacingAndGlyphs">H-12</text><text x="1374" y="405" textLength="31" lengthAdjust="spacingAndGlyphs">H-11</text><text x="1430" y="475" textLength="31" lengthAdjust="spacingAndGlyphs">H-10</text><text x="1476" y="515" textLength="23" lengthAdjust="spacingAndGlyphs">H-9</text><text x="1517" y="542" textLength="23" lengthAdjust="spacingAndGlyphs">H-8</text><text x="1563" y="559" textLength="23" lengthAdjust="spacingAndGlyphs">H-7</text><text x="1614" y="562" textLength="23" lengthAdjust="spacingAndGlyphs">H-6</text><text x="1673" y="546" textLength="23" lengthAdjust="spacingAndGlyphs">H-5</text><text x="1716" y="526" textLength="23" lengthAdjust="spacingAndGlyphs">H-4</text><text x="1766" y="487" textLength="23" lengthAdjust="spacingAndGlyphs">H-3</text><text x="1810" y="444" textLength="23" lengthAdjust="spacingAndGlyphs">H-2</text><text x="1854" y="400" textLength="23" lengthAdjust="spacingAndGlyphs">H-1</text><text x="1262" y="512" textLength="31" lengthAdjust="spacingAndGlyphs">G-13</text><text x="1310" y="585" textLength="31" lengthAdjust="spacingAndGlyphs">G-12</text><text x="1357" y="657" textLength="31" lengthAdjust="spacingAndGlyphs">G-11</text><text x="1412" y="705" textLength="31" lengthAdjust="spacingAndGlyphs">G-10</text><text x="1463" y="743" textLength="23" lengthAdjust="spacingAndGlyphs">G-9</text><text x="1503" y="775" textLength="23" lengthAdjust="spacingAndGlyphs">G-8</text><text x="1551" y="779" textLength="23" lengthAdjust="spacingAndGlyphs">G-7</text><text x="1596" y="777" textLength="23" lengthAdjust="spacingAndGlyphs">G-6</text><text x="1643" y="773" textLength="23" lengthAdjust="spacingAndGlyphs">G-5</text><text x="1704" y="753" textLength="23" lengthAdjust="spacingAndGlyphs">G-4</text><text x="1748" y="715" textLength="23" lengthAdjust="spacingAndGlyphs">G-3</text><text x="1799" y="683" textLength="23" lengthAdjust="spacingAndGlyphs">G-2</text><text x="1850" y="618" textLength="23" lengthAdjust="spacingAndGlyphs">G-1</text><text x="1134.8" y="544" textLength="23" lengthAdjust="spacingAndGlyphs">F-4</text><text x="1102" y="666.5" textLength="23" lengthAdjust="spacingAndGlyphs">F-3</text><text x="1153.5" y="666.5" textLength="23" lengthAdjust="spacingAndGlyphs">F-2</text><text x="1202" y="666.5" textLength="23" lengthAdjust="spacingAndGlyphs">F-1</text><text x="1083.6" y="752.6" textLength="23" lengthAdjust="spacingAndGlyphs">E-7</text><text x="1142" y="752.6" textLength="23" lengthAdjust="spacingAndGlyphs">E-6</text><text x="1184.7" y="752.6" textLength="23" lengthAdjust="spacingAndGlyphs">E-5</text><text x="1229.6" y="752.6" textLength="23" lengthAdjust="spacingAndGlyphs">E-4</text><text x="1275.8" y="752.6" textLength="23" lengthAdjust="spacingAndGlyphs">E-3</text><text x="1786" y="759" textLength="23" lengthAdjust="spacingAndGlyphs">E-2</text><text x="1834" y="759" textLength="23" lengthAdjust="spacingAndGlyphs">E-1</text><text x="1108" y="878" textLength="31" lengthAdjust="spacingAndGlyphs">D-11</text><text x="1147.8" y="878" textLength="31" lengthAdjust="spacingAndGlyphs">D-10</text><text x="1194" y="878" textLength="23" lengthAdjust="spacingAndGlyphs">D-9</text><text x="1239" y="878" textLength="23" lengthAdjust="spacingAndGlyphs">D-8</text><text x="1284" y="878" textLength="23" lengthAdjust="spacingAndGlyphs">D-7</text><text x="1333.5" y="878" textLength="23" lengthAdjust="spacingAndGlyphs">D-6</text><text x="1386" y="878" textLength="23" lengthAdjust="spacingAndGlyphs">D-5</text><text x="1691" y="878" textLength="23" lengthAdjust="spacingAndGlyphs">D-4</text><text x="1741" y="878" textLength="23" lengthAdjust="spacingAndGlyphs">D-3</text><text x="1786" y="878" textLength="23" lengthAdjust="spacingAndGlyphs">D-2</text><text x="1831.5" y="878" textLength="23" lengthAdjust="spacingAndGlyphs">D-1</text><text x="1181.8" y="974.6" textLength="31" lengthAdjust="spacingAndGlyphs">C-15</text><text x="1228" y="974.6" textLength="31" lengthAdjust="spacingAndGlyphs">C-14</text><text x="1272" y="974.6" textLength="31" lengthAdjust="spacingAndGlyphs">C-13</text><text x="1319" y="974.6" textLength="31" lengthAdjust="spacingAndGlyphs">C-12</text><text x="1366.4" y="974.6" textLength="31" lengthAdjust="spacingAndGlyphs">C-11</text><text x="1412.6" y="974.6" textLength="31" lengthAdjust="spacingAndGlyphs">C-10</text><text x="1458.7" y="974.6" textLength="23" lengthAdjust="spacingAndGlyphs">C-9</text><text x="1504.6" y="974" textLength="23" lengthAdjust="spacingAndGlyphs">C-8</text><text x="1548" y="974" textLength="23" lengthAdjust="spacingAndGlyphs">C-7</text><text x="1591" y="974" textLength="23" lengthAdjust="spacingAndGlyphs">C-6</text><text x="1645" y="974" textLength="23" lengthAdjust="spacingAndGlyphs">C-5</text><text x="1695.6" y="974" textLength="23" lengthAdjust="spacingAndGlyphs">C-4</text><text x="1740" y="974" textLength="23" lengthAdjust="spacingAndGlyphs">C-3</text><text x="1781" y="974" textLength="23" lengthAdjust="spacingAndGlyphs">C-2</text><text x="1831.5" y="974" textLength="23" lengthAdjust="spacingAndGlyphs">C-1</text><text x="1192" y="1134.7" textLength="31" lengthAdjust="spacingAndGlyphs">B-15</text><text x="1231.8" y="1134.7" textLength="31" lengthAdjust="spacingAndGlyphs">B-14</text><text x="1275.8" y="1134.7" textLength="31" lengthAdjust="spacingAndGlyphs">B-13</text><text x="1324" y="1134.7" textLength="31" lengthAdjust="spacingAndGlyphs">B-12</text><text x="1372.5" y="1134.7" textLength="31" lengthAdjust="spacingAndGlyphs">B-11</text><text x="1419.8" y="1134.7" textLength="31" lengthAdjust="spacingAndGlyphs">B-10</text><text x="1463.8" y="1134.7" textLength="23" lengthAdjust="spacingAndGlyphs">B-9</text><text x="1509" y="1134.7" textLength="23" lengthAdjust="spacingAndGlyphs">B-8</text><text x="1552.7" y="1134.7" textLength="23" lengthAdjust="spacingAndGlyphs">B-7</text><text x="1597.8" y="1134.7" textLength="23" lengthAdjust="spacingAndGlyphs">B-6</text><text x="1646" y="1134.7" textLength="23" lengthAdjust="spacingAndGlyphs">B-5</text><text x="1701" y="1134.7" textLength="23" lengthAdjust="spacingAndGlyphs">B-4</text><text x="1745" y="1134.7" textLength="23" lengthAdjust="spacingAndGlyphs">B-3</text><text x="1785.6" y="1134.7" textLength="23" lengthAdjust="spacingAndGlyphs">B-2</text><text x="1837.3" y="1134.7" textLength="23" lengthAdjust="spacingAndGlyphs">B-1</text><text x="1181.3" y="1287.3" textLength="31" lengthAdjust="spacingAndGlyphs">A-15</text><text x="1220" y="1287.3" textLength="31" lengthAdjust="spacingAndGlyphs">A-14</text><text x="1268.3" y="1287.3" textLength="31" lengthAdjust="spacingAndGlyphs">A-13</text><text x="1315.6" y="1287.3" textLength="31" lengthAdjust="spacingAndGlyphs">A-12</text><text x="1362.8" y="1287.3" textLength="31" lengthAdjust="spacingAndGlyphs">A-11</text><text x="1405.8" y="1287.3" textLength="31" lengthAdjust="spacingAndGlyphs">A-10</text><text x="1462.7" y="1287.3" textLength="23" lengthAdjust="spacingAndGlyphs">A-9</text><text x="1506.8" y="1287.3" textLength="23" lengthAdjust="spacingAndGlyphs">A-8</text><text x="1549.4" y="1287.3" textLength="23" lengthAdjust="spacingAndGlyphs">A-7</text><text x="1594.5" y="1287.3" textLength="23" lengthAdjust="spacingAndGlyphs">A-6</text><text x="1641.7" y="1287.3" textLength="23" lengthAdjust="spacingAndGlyphs">A-5</text><text x="1698.9" y="1287.3" textLength="23" lengthAdjust="spacingAndGlyphs">A-4</text><text x="1744" y="1287.3" textLength="23" lengthAdjust="spacingAndGlyphs">A-3</text><text x="1783.5" y="1287.3" textLength="23" lengthAdjust="spacingAndGlyphs">A-2</text><text x="1836" y="1287.3" textLength="23" lengthAdjust="spacingAndGlyphs">A-1</text></g>
<path d="M1244.7,1272V1286M1292,1272V1286M1338,1272V1286M1386.5,1272V1286M1432.6,1272V1286M1480,1272V1286M1526.4,1272V1286M1572.5,1272V1286M1618.7,1272V1286M1664.8,1272V1286M1713,1272V1286M1760.4,1272V1286M1807.6,1272V1286M1853.8,1272V1286" stroke="#222" stroke-width="1.5"/>
<g font-family="Liberation Sans, Arial, sans-serif" font-weight="bold" font-size="12" fill="#000" stroke="#000" stroke-width="1" text-anchor="middle"><text transform="translate(903,434) rotate(90)" y="4">H</text><text transform="translate(903,500) rotate(90)" y="4">G</text><text transform="translate(903,570) rotate(90)" y="4">F</text><text transform="translate(903,636) rotate(90)" y="4">E</text><text transform="translate(903,699) rotate(90)" y="4">D</text><text transform="translate(903,768) rotate(90)" y="4">C</text><text transform="translate(903,829) rotate(90)" y="4">B</text></g>
<text transform="translate(997,889) rotate(-90)" font-family="Liberation Sans, Noto Sans CJK SC, sans-serif" font-weight="bold" font-size="18" fill="#000" stroke="#000" stroke-width="2.4" y="6.5" textLength="517" lengthAdjust="spacingAndGlyphs">本图为外墙板分段编号图，白色为开口区域，黑色为门窗洞口位置示意。</text>
<g font-family="Liberation Sans, Noto Sans CJK SC, sans-serif" font-weight="bold" font-size="15" fill="#000" stroke="#000" stroke-width="1"><text transform="translate(201.8,1136) rotate(-90)" y="6"><tspan textLength="60" lengthAdjust="spacingAndGlyphs">大堂外墙</tspan><tspan x="69" textLength="22" lengthAdjust="spacingAndGlyphs">分段</tspan><tspan x="104" textLength="22" lengthAdjust="spacingAndGlyphs">编号</tspan><tspan x="135" font-size="12">15</tspan></text><text transform="translate(249.2,1136) rotate(-90)" y="6"><tspan textLength="60" lengthAdjust="spacingAndGlyphs">大堂外墙</tspan><tspan x="69" textLength="22" lengthAdjust="spacingAndGlyphs">分段</tspan><tspan x="104" textLength="22" lengthAdjust="spacingAndGlyphs">编号</tspan><tspan x="135" font-size="12">14</tspan></text><text transform="translate(296.6,1136) rotate(-90)" y="6"><tspan textLength="60" lengthAdjust="spacingAndGlyphs">大堂外墙</tspan><tspan x="69" textLength="22" lengthAdjust="spacingAndGlyphs">分段</tspan><tspan x="104" textLength="22" lengthAdjust="spacingAndGlyphs">编号</tspan><tspan x="135" font-size="12">13</tspan></text><text transform="translate(344,1136) rotate(-90)" y="6"><tspan textLength="60" lengthAdjust="spacingAndGlyphs">大堂外墙</tspan><tspan x="69" textLength="22" lengthAdjust="spacingAndGlyphs">分段</tspan><tspan x="104" textLength="22" lengthAdjust="spacingAndGlyphs">编号</tspan><tspan x="135" font-size="12">12</tspan></text><text transform="translate(391.4,1136) rotate(-90)" y="6"><tspan textLength="60" lengthAdjust="spacingAndGlyphs">大堂外墙</tspan><tspan x="69" textLength="22" lengthAdjust="spacingAndGlyphs">分段</tspan><tspan x="104" textLength="22" lengthAdjust="spacingAndGlyphs">编号</tspan><tspan x="135" font-size="12">11</tspan></text><text transform="translate(438.8,1136) rotate(-90)" y="6"><tspan textLength="60" lengthAdjust="spacingAndGlyphs">大堂外墙</tspan><tspan x="69" textLength="22" lengthAdjust="spacingAndGlyphs">分段</tspan><tspan x="104" textLength="22" lengthAdjust="spacingAndGlyphs">编号</tspan><tspan x="135" font-size="12">10</tspan></text><text transform="translate(486.2,1136) rotate(-90)" y="6"><tspan textLength="60" lengthAdjust="spacingAndGlyphs">大堂外墙</tspan><tspan x="69" textLength="22" lengthAdjust="spacingAndGlyphs">分段</tspan><tspan x="104" textLength="22" lengthAdjust="spacingAndGlyphs">编号</tspan><tspan x="135" font-size="12">9</tspan></text><text transform="translate(533.6,1136) rotate(-90)" y="6"><tspan textLength="60" lengthAdjust="spacingAndGlyphs">大堂外墙</tspan><tspan x="69" textLength="22" lengthAdjust="spacingAndGlyphs">分段</tspan><tspan x="104" textLength="22" lengthAdjust="spacingAndGlyphs">编号</tspan><tspan x="135" font-size="12">8</tspan></text><text transform="translate(581,1136) rotate(-90)" y="6"><tspan textLength="60" lengthAdjust="spacingAndGlyphs">大堂外墙</tspan><tspan x="69" textLength="22" lengthAdjust="spacingAndGlyphs">分段</tspan><tspan x="104" textLength="22" lengthAdjust="spacingAndGlyphs">编号</tspan><tspan x="135" font-size="12">7</tspan></text><text transform="translate(628.4,1136) rotate(-90)" y="6"><tspan textLength="60" lengthAdjust="spacingAndGlyphs">大堂外墙</tspan><tspan x="69" textLength="22" lengthAdjust="spacingAndGlyphs">分段</tspan><tspan x="104" textLength="22" lengthAdjust="spacingAndGlyphs">编号</tspan><tspan x="135" font-size="12">6</tspan></text><text transform="translate(675.8,1136) rotate(-90)" y="6"><tspan textLength="60" lengthAdjust="spacingAndGlyphs">大堂外墙</tspan><tspan x="69" textLength="22" lengthAdjust="spacingAndGlyphs">分段</tspan><tspan x="104" textLength="22" lengthAdjust="spacingAndGlyphs">编号</tspan><tspan x="135" font-size="12">5</tspan></text><text transform="translate(723.2,1136) rotate(-90)" y="6"><tspan textLength="60" lengthAdjust="spacingAndGlyphs">大堂外墙</tspan><tspan x="69" textLength="22" lengthAdjust="spacingAndGlyphs">分段</tspan><tspan x="104" textLength="22" lengthAdjust="spacingAndGlyphs">编号</tspan><tspan x="135" font-size="12">4</tspan></text><text transform="translate(770.6,1136) rotate(-90)" y="6"><tspan textLength="60" lengthAdjust="spacingAndGlyphs">大堂外墙</tspan><tspan x="69" textLength="22" lengthAdjust="spacingAndGlyphs">分段</tspan><tspan x="104" textLength="22" lengthAdjust="spacingAndGlyphs">编号</tspan><tspan x="135" font-size="12">3</tspan></text><text transform="translate(818,1136) rotate(-90)" y="6"><tspan textLength="60" lengthAdjust="spacingAndGlyphs">大堂外墙</tspan><tspan x="69" textLength="22" lengthAdjust="spacingAndGlyphs">分段</tspan><tspan x="104" textLength="22" lengthAdjust="spacingAndGlyphs">编号</tspan><tspan x="135" font-size="12">2</tspan></text><text transform="translate(865.4,1136) rotate(-90)" y="6"><tspan textLength="60" lengthAdjust="spacingAndGlyphs">大堂外墙</tspan><tspan x="69" textLength="22" lengthAdjust="spacingAndGlyphs">分段</tspan><tspan x="104" textLength="22" lengthAdjust="spacingAndGlyphs">编号</tspan><tspan x="135" font-size="12">1</tspan></text></g></svg></body></html>
